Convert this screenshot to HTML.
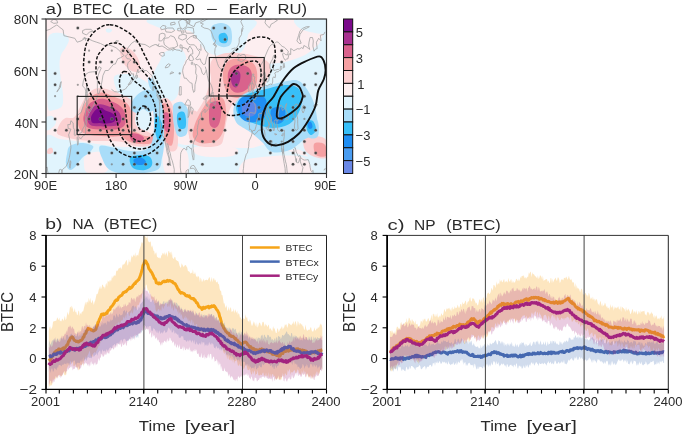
<!DOCTYPE html>
<html><head><meta charset="utf-8"><style>
html,body{margin:0;padding:0;background:#fff;width:685px;height:436px;overflow:hidden}
svg{display:block;will-change:transform}
text{font-family:"Liberation Sans",sans-serif}
</style></head><body>
<svg width="685" height="436" viewBox="0 0 685 436">
<defs><clipPath id="mc"><rect x="46.0" y="19.0" width="280.5" height="154.5"/></clipPath></defs>
<g clip-path="url(#mc)">
<rect x="46.0" y="19.0" width="280.5" height="154.5" fill="#fdeef0"/>
<path d="M48.0,38.0 C48.8,35.2 50.0,34.3 52.0,33.5 C54.0,32.7 57.7,32.8 60.0,33.0 C62.3,33.2 64.5,33.8 66.0,35.0 C67.5,36.2 69.0,38.0 69.0,40.0 C69.0,42.0 67.3,44.5 66.0,47.0 C64.7,49.5 62.1,52.0 61.0,55.0 C59.9,58.0 59.5,60.8 59.5,65.0 C59.5,69.2 60.4,75.0 61.0,80.0 C61.6,85.0 62.8,90.7 63.0,95.0 C63.2,99.3 63.5,103.5 62.0,106.0 C60.5,108.5 56.3,109.7 54.0,110.0 C51.7,110.3 49.1,113.0 48.0,108.0 C46.9,103.0 47.6,89.7 47.5,80.0 C47.4,70.3 47.4,57.0 47.5,50.0 C47.6,43.0 47.2,40.8 48.0,38.0Z" fill="#e1f4fd"/>
<path d="M106.0,29.0 C106.4,28.4 108.0,28.3 109.0,28.5 C110.0,28.7 111.8,29.3 112.0,30.0 C112.2,30.7 110.9,32.2 110.0,32.5 C109.1,32.8 107.2,32.6 106.5,32.0 C105.8,31.4 105.6,29.6 106.0,29.0Z" fill="#e1f4fd"/>
<path d="M152.0,19.0 C167.0,17.5 234.0,16.3 250.0,19.0 C266.0,21.7 249.2,29.8 248.0,35.0 C246.8,40.2 245.7,46.5 243.0,50.0 C240.3,53.5 236.7,55.2 232.0,56.0 C227.3,56.8 219.5,56.0 215.0,55.0 C210.5,54.0 207.8,52.5 205.0,50.0 C202.2,47.5 200.5,43.2 198.0,40.0 C195.5,36.8 193.8,32.7 190.0,31.0 C186.2,29.3 180.0,30.5 175.0,30.0 C170.0,29.5 163.8,29.8 160.0,28.0 C156.2,26.2 137.0,20.5 152.0,19.0Z" fill="#e1f4fd"/>
<path d="M165.0,52.0 C168.3,50.0 176.5,48.2 180.0,49.0 C183.5,49.8 185.5,54.2 186.0,57.0 C186.5,59.8 184.0,62.2 183.0,66.0 C182.0,69.8 180.8,75.3 180.0,80.0 C179.2,84.7 179.3,90.5 178.0,94.0 C176.7,97.5 175.3,99.8 172.0,101.0 C168.7,102.2 161.3,102.8 158.0,101.0 C154.7,99.2 153.2,93.5 152.0,90.0 C150.8,86.5 150.5,83.3 151.0,80.0 C151.5,76.7 153.5,73.2 155.0,70.0 C156.5,66.8 158.3,64.0 160.0,61.0 C161.7,58.0 161.7,54.0 165.0,52.0Z" fill="#e1f4fd"/>
<path d="M262.0,66.0 C267.8,63.0 277.8,63.8 285.0,62.0 C292.2,60.2 299.5,57.8 305.0,55.0 C310.5,52.2 314.3,47.5 318.0,45.0 C321.7,42.5 325.5,20.8 327.0,40.0 C328.5,59.2 331.5,141.7 327.0,160.0 C322.5,178.3 307.8,151.7 300.0,150.0 C292.2,148.3 286.3,151.7 280.0,150.0 C273.7,148.3 267.0,144.2 262.0,140.0 C257.0,135.8 252.8,131.7 250.0,125.0 C247.2,118.3 245.0,107.5 245.0,100.0 C245.0,92.5 247.2,85.7 250.0,80.0 C252.8,74.3 256.2,69.0 262.0,66.0Z" fill="#e1f4fd"/>
<path d="M296.0,19.0 C300.8,17.7 321.8,16.7 327.0,19.0 C332.2,21.3 329.8,30.8 327.0,33.0 C324.2,35.2 314.8,33.0 310.0,32.0 C305.2,31.0 300.3,29.2 298.0,27.0 C295.7,24.8 291.2,20.3 296.0,19.0Z" fill="#e1f4fd"/>
<path d="M46.0,137.0 C48.3,131.2 55.2,138.3 60.0,139.0 C64.8,139.7 70.0,140.3 75.0,141.0 C80.0,141.7 85.0,142.3 90.0,143.0 C95.0,143.7 99.2,144.3 105.0,145.0 C110.8,145.7 117.5,147.0 125.0,147.0 C132.5,147.0 144.2,147.0 150.0,145.0 C155.8,143.0 156.7,135.8 160.0,135.0 C163.3,134.2 165.8,138.3 170.0,140.0 C174.2,141.7 179.2,144.7 185.0,145.0 C190.8,145.3 198.3,141.7 205.0,142.0 C211.7,142.3 217.5,146.0 225.0,147.0 C232.5,148.0 243.3,148.3 250.0,148.0 C256.7,147.7 259.2,144.7 265.0,145.0 C270.8,145.3 278.3,148.2 285.0,150.0 C291.7,151.8 298.0,154.3 305.0,156.0 C312.0,157.7 323.3,157.0 327.0,160.0 C330.7,163.0 373.8,171.7 327.0,174.0 C280.2,176.3 92.8,180.2 46.0,174.0 C-0.8,167.8 43.7,142.8 46.0,137.0Z" fill="#e1f4fd"/>
<path d="M114.0,77.0 C115.2,74.0 121.5,74.2 125.0,74.0 C128.5,73.8 130.8,74.2 135.0,76.0 C139.2,77.8 146.5,81.0 150.0,85.0 C153.5,89.0 155.7,95.5 156.0,100.0 C156.3,104.5 153.0,107.3 152.0,112.0 C151.0,116.7 152.0,124.7 150.0,128.0 C148.0,131.3 142.5,133.3 140.0,132.0 C137.5,130.7 136.7,125.3 135.0,120.0 C133.3,114.7 132.8,104.7 130.0,100.0 C127.2,95.3 120.7,95.8 118.0,92.0 C115.3,88.2 112.8,80.0 114.0,77.0Z" fill="#e1f4fd"/>
<path d="M46.0,118.0 C47.0,115.7 50.3,115.3 52.0,116.0 C53.7,116.7 56.0,120.0 56.0,122.0 C56.0,124.0 53.7,126.7 52.0,128.0 C50.3,129.3 47.0,131.7 46.0,130.0 C45.0,128.3 45.0,120.3 46.0,118.0Z" fill="#e1f4fd"/>
<path d="M86.0,155.0 C88.7,152.8 96.3,151.2 100.0,152.0 C103.7,152.8 107.0,156.7 108.0,160.0 C109.0,163.3 109.3,169.8 106.0,172.0 C102.7,174.2 91.7,174.2 88.0,173.0 C84.3,171.8 84.3,168.0 84.0,165.0 C83.7,162.0 83.3,157.2 86.0,155.0Z" fill="#fdeef0"/>
<path d="M164.0,148.0 C166.3,143.5 176.0,145.8 180.0,147.0 C184.0,148.2 187.0,150.5 188.0,155.0 C189.0,159.5 189.7,170.8 186.0,174.0 C182.3,177.2 169.7,178.3 166.0,174.0 C162.3,169.7 161.7,152.5 164.0,148.0Z" fill="#fdeef0"/>
<path d="M195.0,147.0 C199.8,145.7 217.8,145.5 225.0,146.0 C232.2,146.5 236.8,148.3 238.0,150.0 C239.2,151.7 236.7,154.8 232.0,156.0 C227.3,157.2 216.0,157.3 210.0,157.0 C204.0,156.7 198.5,155.7 196.0,154.0 C193.5,152.3 190.2,148.3 195.0,147.0Z" fill="#fdeef0"/>
<path d="M244.0,161.0 C247.0,158.0 255.2,157.9 262.0,157.0 C268.8,156.1 278.3,155.5 285.0,155.5 C291.7,155.5 297.8,155.4 302.0,157.0 C306.2,158.6 309.3,162.0 310.0,165.0 C310.7,168.0 317.0,173.3 306.0,175.0 C295.0,176.7 254.3,177.3 244.0,175.0 C233.7,172.7 241.0,164.0 244.0,161.0Z" fill="#fdeef0"/>
<path d="M120.0,49.0 C120.8,46.7 125.3,47.0 128.0,48.0 C130.7,49.0 134.0,52.2 136.0,55.0 C138.0,57.8 139.7,62.2 140.0,65.0 C140.3,67.8 139.7,71.2 138.0,72.0 C136.3,72.8 132.5,71.7 130.0,70.0 C127.5,68.3 124.7,65.5 123.0,62.0 C121.3,58.5 119.2,51.3 120.0,49.0Z" fill="#fbd0d1"/>
<path d="M79.3,108.4 C81.4,104.8 83.7,99.2 86.2,96.0 C88.7,92.8 91.4,90.4 94.4,89.1 C97.4,87.8 100.5,87.9 104.0,88.4 C107.5,88.9 111.6,90.6 115.1,91.9 C118.5,93.2 121.7,94.4 124.7,96.0 C127.7,97.6 131.1,99.2 133.0,101.5 C134.9,103.8 135.5,106.1 136.0,110.0 C136.5,113.9 133.7,121.2 136.0,125.0 C138.3,128.8 146.7,130.8 150.0,133.0 C153.3,135.2 156.3,135.8 156.0,138.0 C155.7,140.2 151.5,144.7 148.0,146.0 C144.5,147.3 139.3,146.7 135.0,146.0 C130.7,145.3 126.2,142.8 122.0,142.0 C117.8,141.2 114.5,141.2 110.0,141.0 C105.5,140.8 100.0,141.2 95.0,141.0 C90.0,140.8 85.0,140.7 80.0,140.0 C75.0,139.3 68.8,138.2 65.0,137.0 C61.2,135.8 57.8,135.2 57.0,133.0 C56.2,130.8 58.6,126.1 60.0,123.6 C61.4,121.1 63.2,119.0 65.5,118.0 C67.8,117.0 71.5,119.0 73.8,117.4 C76.1,115.8 77.2,112.0 79.3,108.4Z" fill="#fbd0d1"/>
<path d="M159.0,102.0 C160.3,98.7 163.8,97.7 166.0,98.0 C168.2,98.3 170.3,100.3 172.0,104.0 C173.7,107.7 175.0,114.0 176.0,120.0 C177.0,126.0 178.0,135.0 178.0,140.0 C178.0,145.0 177.7,148.3 176.0,150.0 C174.3,151.7 170.3,152.5 168.0,150.0 C165.7,147.5 163.7,140.3 162.0,135.0 C160.3,129.7 158.5,123.5 158.0,118.0 C157.5,112.5 157.7,105.3 159.0,102.0Z" fill="#fbd0d1"/>
<path d="M212.0,60.0 C214.0,57.3 217.7,55.2 222.0,54.0 C226.3,52.8 232.5,52.7 238.0,53.0 C243.5,53.3 250.0,54.5 255.0,56.0 C260.0,57.5 265.5,59.3 268.0,62.0 C270.5,64.7 270.5,68.2 270.0,72.0 C269.5,75.8 267.0,81.2 265.0,85.0 C263.0,88.8 261.3,92.2 258.0,95.0 C254.7,97.8 249.2,100.5 245.0,102.0 C240.8,103.5 236.0,101.2 233.0,104.0 C230.0,106.8 228.5,113.7 227.0,119.0 C225.5,124.3 225.2,131.7 224.0,136.0 C222.8,140.3 223.2,143.2 220.0,145.0 C216.8,146.8 209.7,147.3 205.0,147.0 C200.3,146.7 194.7,145.5 192.0,143.0 C189.3,140.5 188.7,136.3 189.0,132.0 C189.3,127.7 191.7,122.0 194.0,117.0 C196.3,112.0 200.8,106.2 203.0,102.0 C205.2,97.8 205.7,95.7 207.0,92.0 C208.3,88.3 210.5,83.7 211.0,80.0 C211.5,76.3 209.8,73.3 210.0,70.0 C210.2,66.7 210.0,62.7 212.0,60.0Z" fill="#fbd0d1"/>
<path d="M304.0,137.0 C305.7,134.7 311.3,135.5 315.0,136.0 C318.7,136.5 324.0,136.5 326.0,140.0 C328.0,143.5 328.8,154.2 327.0,157.0 C325.2,159.8 318.7,158.2 315.0,157.0 C311.3,155.8 306.8,153.3 305.0,150.0 C303.2,146.7 302.3,139.3 304.0,137.0Z" fill="#fbd0d1"/>
<path d="M189.0,113.0 C190.5,110.0 195.0,110.0 197.0,112.0 C199.0,114.0 200.5,120.0 201.0,125.0 C201.5,130.0 201.5,139.0 200.0,142.0 C198.5,145.0 194.0,145.0 192.0,143.0 C190.0,141.0 188.5,135.0 188.0,130.0 C187.5,125.0 187.5,116.0 189.0,113.0Z" fill="#fbd0d1"/>
<path d="M48.0,149.0 C48.8,148.2 51.2,147.5 52.0,148.0 C52.8,148.5 53.3,151.0 53.0,152.0 C52.7,153.0 51.0,153.8 50.0,154.0 C49.0,154.2 47.3,153.8 47.0,153.0 C46.7,152.2 47.2,149.8 48.0,149.0Z" fill="#fbd0d1"/>
<path d="M80.7,112.5 C82.1,109.0 83.9,104.5 86.2,101.5 C88.5,98.5 91.7,96.1 94.4,94.6 C97.2,93.1 99.7,92.4 102.7,92.6 C105.7,92.8 109.1,94.8 112.3,96.0 C115.5,97.2 119.2,98.5 122.0,100.1 C124.8,101.7 127.3,103.2 128.9,105.7 C130.5,108.2 131.3,111.9 131.6,115.3 C131.9,118.7 131.8,123.1 130.9,126.3 C130.0,129.5 128.7,132.9 126.1,134.6 C123.5,136.3 119.2,136.4 115.1,136.6 C111.0,136.8 105.9,136.3 101.3,136.0 C96.7,135.7 90.9,135.5 87.5,134.6 C84.1,133.7 82.3,132.6 80.7,130.5 C79.1,128.4 77.9,125.2 77.9,122.2 C77.9,119.2 79.3,116.0 80.7,112.5Z" fill="#f5a0a2"/>
<path d="M120.0,133.0 C120.7,131.3 127.8,130.5 132.0,131.0 C136.2,131.5 141.2,135.0 145.0,136.0 C148.8,137.0 153.8,135.8 155.0,137.0 C156.2,138.2 154.5,141.8 152.0,143.0 C149.5,144.2 144.0,144.3 140.0,144.0 C136.0,143.7 131.3,142.8 128.0,141.0 C124.7,139.2 119.3,134.7 120.0,133.0Z" fill="#f5a0a2"/>
<path d="M208.0,101.0 C210.5,98.1 211.5,97.9 214.0,97.5 C216.5,97.1 221.0,96.4 223.0,98.5 C225.0,100.6 225.7,105.9 226.0,110.0 C226.3,114.1 225.7,119.0 225.0,123.0 C224.3,127.0 223.8,130.8 222.0,134.0 C220.2,137.2 217.7,140.5 214.0,142.0 C210.3,143.5 203.5,143.8 200.0,143.0 C196.5,142.2 194.0,139.7 193.0,137.0 C192.0,134.3 193.0,130.7 194.0,127.0 C195.0,123.3 196.7,119.3 199.0,115.0 C201.3,110.7 205.5,103.9 208.0,101.0Z" fill="#f5a0a2"/>
<path d="M224.0,68.0 C225.2,65.0 226.8,61.5 230.0,60.0 C233.2,58.5 239.2,58.5 243.0,59.0 C246.8,59.5 250.7,60.8 253.0,63.0 C255.3,65.2 256.5,68.3 257.0,72.0 C257.5,75.7 257.2,81.3 256.0,85.0 C254.8,88.7 252.7,91.8 250.0,94.0 C247.3,96.2 243.3,97.7 240.0,98.0 C236.7,98.3 232.5,97.7 230.0,96.0 C227.5,94.3 226.2,91.0 225.0,88.0 C223.8,85.0 223.2,81.3 223.0,78.0 C222.8,74.7 222.8,71.0 224.0,68.0Z" fill="#f5a0a2"/>
<path d="M161.0,106.0 C161.8,102.3 165.2,103.0 167.0,104.0 C168.8,105.0 170.8,107.7 172.0,112.0 C173.2,116.3 174.0,124.5 174.0,130.0 C174.0,135.5 173.3,143.0 172.0,145.0 C170.7,147.0 167.7,145.2 166.0,142.0 C164.3,138.8 162.8,132.0 162.0,126.0 C161.2,120.0 160.2,109.7 161.0,106.0Z" fill="#f5a0a2"/>
<path d="M314.0,144.0 C315.0,142.0 320.0,142.5 322.0,143.0 C324.0,143.5 325.3,144.8 326.0,147.0 C326.7,149.2 327.7,154.7 326.0,156.0 C324.3,157.3 318.0,157.0 316.0,155.0 C314.0,153.0 313.0,146.0 314.0,144.0Z" fill="#f5a0a2"/>
<path d="M84.8,112.5 C85.7,110.0 87.1,106.4 88.9,104.3 C90.7,102.2 93.5,101.0 95.8,100.1 C98.1,99.2 100.4,98.7 102.7,98.8 C105.0,98.9 107.1,99.9 109.6,100.8 C112.1,101.7 115.5,102.8 117.8,104.3 C120.1,105.8 122.1,107.7 123.4,109.8 C124.7,111.9 125.2,114.2 125.4,116.7 C125.6,119.2 126.0,122.8 124.7,124.9 C123.4,127.0 121.0,128.3 117.8,129.1 C114.6,129.9 109.5,129.8 105.4,129.8 C101.3,129.8 96.2,129.7 93.0,129.1 C89.8,128.5 87.8,127.9 86.2,126.3 C84.6,124.7 83.6,121.7 83.4,119.4 C83.2,117.1 83.9,115.0 84.8,112.5Z" fill="#d9628c"/>
<path d="M130.0,134.0 C131.0,132.8 135.7,133.3 138.0,134.0 C140.3,134.7 143.7,136.7 144.0,138.0 C144.3,139.3 142.0,141.5 140.0,142.0 C138.0,142.5 133.7,142.3 132.0,141.0 C130.3,139.7 129.0,135.2 130.0,134.0Z" fill="#d9628c"/>
<path d="M210.0,104.0 C211.2,101.7 214.2,101.0 216.0,101.0 C217.8,101.0 220.2,101.7 221.0,104.0 C221.8,106.3 221.3,111.7 221.0,115.0 C220.7,118.3 220.0,121.8 219.0,124.0 C218.0,126.2 216.5,127.8 215.0,128.0 C213.5,128.2 211.0,127.2 210.0,125.0 C209.0,122.8 209.0,118.5 209.0,115.0 C209.0,111.5 208.8,106.3 210.0,104.0Z" fill="#d9628c"/>
<path d="M228.0,73.0 C228.7,69.8 230.7,67.3 233.0,66.0 C235.3,64.7 239.2,64.5 242.0,65.0 C244.8,65.5 248.3,66.8 250.0,69.0 C251.7,71.2 252.2,75.0 252.0,78.0 C251.8,81.0 250.7,84.7 249.0,87.0 C247.3,89.3 244.5,91.2 242.0,92.0 C239.5,92.8 236.2,93.2 234.0,92.0 C231.8,90.8 230.0,88.2 229.0,85.0 C228.0,81.8 227.3,76.2 228.0,73.0Z" fill="#d9628c"/>
<path d="M163.0,114.0 C163.8,112.5 166.8,111.7 168.0,113.0 C169.2,114.3 169.8,118.8 170.0,122.0 C170.2,125.2 169.8,130.7 169.0,132.0 C168.2,133.3 166.0,131.7 165.0,130.0 C164.0,128.3 163.3,124.7 163.0,122.0 C162.7,119.3 162.2,115.5 163.0,114.0Z" fill="#d9628c"/>
<path d="M88.9,112.5 C89.8,110.4 91.2,108.4 93.0,107.0 C94.8,105.6 97.7,104.5 100.0,104.3 C102.3,104.1 104.5,105.0 106.8,105.7 C109.1,106.4 111.6,107.3 113.7,108.4 C115.8,109.5 117.9,110.7 119.2,112.5 C120.5,114.3 121.5,117.3 121.3,119.4 C121.1,121.5 120.0,123.8 117.8,124.9 C115.6,126.1 111.4,126.1 108.2,126.3 C105.0,126.5 101.6,126.5 98.6,126.3 C95.6,126.1 92.1,126.1 90.3,124.9 C88.5,123.8 87.7,121.5 87.5,119.4 C87.3,117.3 88.0,114.6 88.9,112.5Z" fill="#a8318f"/>
<path d="M232.0,73.0 C232.8,71.3 234.7,70.0 236.0,70.0 C237.3,70.0 239.3,71.3 240.0,73.0 C240.7,74.7 240.5,77.7 240.0,80.0 C239.5,82.3 238.2,86.0 237.0,87.0 C235.8,88.0 234.0,87.2 233.0,86.0 C232.0,84.8 231.2,82.2 231.0,80.0 C230.8,77.8 231.2,74.7 232.0,73.0Z" fill="#a8318f"/>
<path d="M91.7,115.3 C92.5,113.7 94.2,111.1 95.8,109.8 C97.4,108.5 99.7,107.6 101.3,107.7 C102.9,107.8 103.8,109.7 105.4,110.5 C107.0,111.3 109.4,111.6 111.0,112.5 C112.6,113.4 114.5,114.5 115.1,116.0 C115.7,117.5 115.8,120.2 114.4,121.5 C113.0,122.8 109.2,123.4 106.8,123.6 C104.4,123.8 102.2,123.0 99.9,122.9 C97.6,122.8 94.5,123.5 93.0,122.9 C91.5,122.3 91.2,120.7 91.0,119.4 C90.8,118.1 90.9,116.9 91.7,115.3Z" fill="#7b0a8b"/>
<path d="M212.0,26.0 C213.8,24.2 219.0,22.8 222.0,23.0 C225.0,23.2 228.3,24.7 230.0,27.0 C231.7,29.3 232.0,34.0 232.0,37.0 C232.0,40.0 231.7,43.3 230.0,45.0 C228.3,46.7 224.7,47.5 222.0,47.0 C219.3,46.5 215.8,44.2 214.0,42.0 C212.2,39.8 211.3,36.7 211.0,34.0 C210.7,31.3 210.2,27.8 212.0,26.0Z" fill="#a9ddf9"/>
<path d="M233.5,108.8 C233.9,104.7 236.2,100.8 239.0,97.8 C241.8,94.8 245.9,92.8 250.0,91.0 C254.1,89.2 257.8,88.4 263.8,86.8 C269.8,85.2 279.9,82.2 285.8,81.3 C291.8,80.4 295.4,79.0 299.5,81.3 C303.6,83.6 307.8,90.0 310.5,95.0 C313.2,100.0 314.9,105.1 316.0,111.5 C317.1,117.9 318.8,128.9 317.0,133.5 C315.2,138.1 309.5,136.2 305.0,139.0 C300.5,141.8 295.5,147.8 290.0,150.0 C284.5,152.2 276.7,153.3 272.0,152.0 C267.3,150.7 265.7,145.3 262.0,142.0 C258.3,138.7 254.3,135.2 250.0,132.0 C245.7,128.8 239.1,126.4 236.3,122.5 C233.6,118.6 233.1,112.9 233.5,108.8Z" fill="#a9ddf9"/>
<path d="M304.0,117.0 C305.3,114.5 309.7,114.2 312.0,115.0 C314.3,115.8 317.0,118.5 318.0,122.0 C319.0,125.5 319.3,133.3 318.0,136.0 C316.7,138.7 312.3,139.0 310.0,138.0 C307.7,137.0 305.0,133.5 304.0,130.0 C303.0,126.5 302.7,119.5 304.0,117.0Z" fill="#a9ddf9"/>
<path d="M100.0,146.0 C102.2,144.3 110.0,147.2 115.0,148.0 C120.0,148.8 125.0,150.7 130.0,151.0 C135.0,151.3 141.3,151.5 145.0,150.0 C148.7,148.5 150.5,146.2 152.0,142.0 C153.5,137.8 153.8,131.2 154.0,125.0 C154.2,118.8 152.8,110.5 153.0,105.0 C153.2,99.5 154.0,94.2 155.0,92.0 C156.0,89.8 157.7,89.0 159.0,92.0 C160.3,95.0 162.2,103.7 163.0,110.0 C163.8,116.3 163.8,124.2 164.0,130.0 C164.2,135.8 164.3,140.3 164.0,145.0 C163.7,149.7 163.2,153.8 162.0,158.0 C160.8,162.2 162.3,167.3 157.0,170.0 C151.7,172.7 137.8,174.0 130.0,174.0 C122.2,174.0 114.7,172.7 110.0,170.0 C105.3,167.3 103.7,162.0 102.0,158.0 C100.3,154.0 97.8,147.7 100.0,146.0Z" fill="#a9ddf9"/>
<path d="M133.0,100.0 C134.7,97.2 138.2,93.7 141.0,92.0 C143.8,90.3 147.5,89.3 150.0,90.0 C152.5,90.7 155.2,93.0 156.0,96.0 C156.8,99.0 156.2,105.3 155.0,108.0 C153.8,110.7 151.0,111.8 149.0,112.0 C147.0,112.2 145.0,108.8 143.0,109.0 C141.0,109.2 139.0,113.0 137.0,113.0 C135.0,113.0 131.7,111.2 131.0,109.0 C130.3,106.8 131.3,102.8 133.0,100.0Z" fill="#a9ddf9"/>
<path d="M70.0,146.0 C72.5,144.2 78.2,143.0 82.0,143.0 C85.8,143.0 91.7,144.5 93.0,146.0 C94.3,147.5 91.8,150.0 90.0,152.0 C88.2,154.0 84.3,155.7 82.0,158.0 C79.7,160.3 78.0,164.0 76.0,166.0 C74.0,168.0 71.7,170.3 70.0,170.0 C68.3,169.7 66.5,166.7 66.0,164.0 C65.5,161.3 66.3,157.0 67.0,154.0 C67.7,151.0 67.5,147.8 70.0,146.0Z" fill="#a9ddf9"/>
<path d="M174.0,104.0 C175.5,102.3 179.7,101.0 182.0,102.0 C184.3,103.0 187.0,106.2 188.0,110.0 C189.0,113.8 188.3,120.8 188.0,125.0 C187.7,129.2 187.7,133.2 186.0,135.0 C184.3,136.8 180.0,137.7 178.0,136.0 C176.0,134.3 174.8,129.0 174.0,125.0 C173.2,121.0 173.0,115.5 173.0,112.0 C173.0,108.5 172.5,105.7 174.0,104.0Z" fill="#a9ddf9"/>
<path d="M148.0,78.0 C148.5,76.7 151.3,78.0 153.0,80.0 C154.7,82.0 157.5,87.5 158.0,90.0 C158.5,92.5 157.3,95.3 156.0,95.0 C154.7,94.7 151.3,90.8 150.0,88.0 C148.7,85.2 147.5,79.3 148.0,78.0Z" fill="#a9ddf9"/>
<path d="M219.0,35.0 C219.8,33.5 223.5,32.5 225.0,33.0 C226.5,33.5 227.8,36.3 228.0,38.0 C228.2,39.7 227.3,42.3 226.0,43.0 C224.7,43.7 221.2,43.3 220.0,42.0 C218.8,40.7 218.2,36.5 219.0,35.0Z" fill="#37bff8"/>
<path d="M240.0,99.0 C242.3,96.5 246.3,94.5 250.0,93.0 C253.7,91.5 256.2,91.3 262.0,90.0 C267.8,88.7 279.0,85.3 285.0,85.0 C291.0,84.7 295.2,85.5 298.0,88.0 C300.8,90.5 301.8,96.0 302.0,100.0 C302.2,104.0 300.5,108.5 299.0,112.0 C297.5,115.5 295.3,118.7 293.0,121.0 C290.7,123.3 288.3,124.8 285.0,126.0 C281.7,127.2 276.8,128.0 273.0,128.0 C269.2,128.0 265.8,127.0 262.0,126.0 C258.2,125.0 253.7,123.5 250.0,122.0 C246.3,120.5 242.3,119.3 240.0,117.0 C237.7,114.7 236.0,111.0 236.0,108.0 C236.0,105.0 237.7,101.5 240.0,99.0Z" fill="#37bff8"/>
<path d="M307.0,122.0 C308.0,120.5 311.5,119.7 313.0,121.0 C314.5,122.3 316.3,127.7 316.0,130.0 C315.7,132.3 312.5,135.0 311.0,135.0 C309.5,135.0 307.7,132.2 307.0,130.0 C306.3,127.8 306.0,123.5 307.0,122.0Z" fill="#37bff8"/>
<path d="M130.0,158.0 C131.2,155.8 136.7,155.2 140.0,155.0 C143.3,154.8 148.0,155.3 150.0,157.0 C152.0,158.7 152.8,162.8 152.0,165.0 C151.2,167.2 148.2,169.5 145.0,170.0 C141.8,170.5 135.5,170.0 133.0,168.0 C130.5,166.0 128.8,160.2 130.0,158.0Z" fill="#37bff8"/>
<path d="M155.0,118.0 C155.5,115.7 156.8,115.0 158.0,116.0 C159.2,117.0 161.3,120.7 162.0,124.0 C162.7,127.3 162.7,133.3 162.0,136.0 C161.3,138.7 159.2,141.0 158.0,140.0 C156.8,139.0 155.5,133.7 155.0,130.0 C154.5,126.3 154.5,120.3 155.0,118.0Z" fill="#37bff8"/>
<path d="M178.0,113.0 C179.2,111.7 182.7,110.8 184.0,112.0 C185.3,113.2 185.8,117.3 186.0,120.0 C186.2,122.7 186.2,126.7 185.0,128.0 C183.8,129.3 180.3,129.3 179.0,128.0 C177.7,126.7 177.2,122.5 177.0,120.0 C176.8,117.5 176.8,114.3 178.0,113.0Z" fill="#37bff8"/>
<path d="M238.0,103.0 C238.7,100.2 240.2,98.2 243.0,97.0 C245.8,95.8 251.3,95.8 255.0,96.0 C258.7,96.2 263.1,96.0 265.0,98.0 C266.9,100.0 266.7,104.7 266.5,108.0 C266.3,111.3 265.9,115.7 264.0,118.0 C262.1,120.3 258.2,121.5 255.0,122.0 C251.8,122.5 247.7,122.3 245.0,121.0 C242.3,119.7 240.2,117.0 239.0,114.0 C237.8,111.0 237.3,105.8 238.0,103.0Z" fill="#1f8ef3"/>
<path d="M271.0,110.0 C272.0,107.7 275.7,107.0 278.0,107.0 C280.3,107.0 284.0,107.8 285.0,110.0 C286.0,112.2 285.2,117.7 284.0,120.0 C282.8,122.3 280.0,123.8 278.0,124.0 C276.0,124.2 273.2,123.3 272.0,121.0 C270.8,118.7 270.0,112.3 271.0,110.0Z" fill="#1f8ef3"/>
<path d="M308.0,123.0 C308.5,122.2 310.2,121.3 311.0,122.0 C311.8,122.7 312.7,125.8 312.5,127.0 C312.3,128.2 310.8,129.0 310.0,129.0 C309.2,129.0 308.3,128.0 308.0,127.0 C307.7,126.0 307.5,123.8 308.0,123.0Z" fill="#1f8ef3"/>
<path d="M134.0,159.0 C135.2,158.0 140.0,157.5 142.0,158.0 C144.0,158.5 146.0,160.8 146.0,162.0 C146.0,163.2 143.8,164.7 142.0,165.0 C140.2,165.3 136.3,165.0 135.0,164.0 C133.7,163.0 132.8,160.0 134.0,159.0Z" fill="#1f8ef3"/>
<path d="M243.0,104.0 C244.3,102.5 247.8,102.0 250.0,102.0 C252.2,102.0 254.8,102.5 256.0,104.0 C257.2,105.5 257.5,109.0 257.0,111.0 C256.5,113.0 254.8,115.2 253.0,116.0 C251.2,116.8 247.8,116.8 246.0,116.0 C244.2,115.2 242.5,113.0 242.0,111.0 C241.5,109.0 241.7,105.5 243.0,104.0Z" fill="#5b84e6"/>
<polyline points="318.7,38.3 321.1,40.9 320.3,35.2 323.8,34.4 325.0,31.9" fill="none" stroke="#a3a3a3" stroke-width="0.8" stroke-linejoin="round"/>
<polyline points="46.0,30.6 49.9,29.3 53.8,26.7 56.9,24.9 60.0,27.5 63.1,29.8 63.9,35.7 69.4,37.0 74.8,38.3 77.2,42.2 81.1,40.9 85.0,38.3 88.9,39.1 92.8,40.9 96.6,42.2 100.5,43.5 104.4,45.5 108.3,44.8 112.2,46.0 116.1,47.8 120.0,51.2 122.4,53.8 123.9,55.6 120.8,57.6 117.7,58.9 115.3,64.1 113.8,64.1 111.5,66.6 108.3,70.5 105.2,70.5 102.9,75.6 102.1,80.8 100.5,88.5 99.0,93.7 97.8,93.7 97.4,88.5 97.4,78.2 99.0,73.1 101.3,67.9 99.0,66.6 96.6,71.8 92.8,71.8 88.9,72.3 85.7,74.4 83.4,80.8 82.6,85.9 85.0,88.5 85.7,91.1 85.3,100.1 83.4,105.3 81.1,112.5 78.7,114.3 77.2,115.6 76.8,122.0 76.4,129.7 76.4,134.4 74.8,135.6 74.3,134.9 74.4,129.7 73.4,127.7 73.1,122.8 70.9,120.7 70.2,124.6 67.8,124.6 68.2,128.4 70.9,129.2 70.2,131.0 68.6,134.9 69.8,140.0 70.8,145.2 70.9,147.8 70.2,152.9 69.4,157.3 68.2,161.9 66.3,166.3 64.7,167.6 62.4,169.6 61.8,173.0 62.0,172.2 61.4,169.6 60.4,169.4 59.6,169.6 58.9,172.2 58.5,174.8" fill="none" stroke="#a3a3a3" stroke-width="0.8" stroke-linejoin="round"/>
<polyline points="324.0,170.4 324.6,168.9 325.3,169.1 326.1,168.3" fill="none" stroke="#a3a3a3" stroke-width="0.8" stroke-linejoin="round"/>
<polyline points="46.0,167.8 47.2,167.1 47.6,170.9 47.9,172.2 48.3,174.8" fill="none" stroke="#a3a3a3" stroke-width="0.8" stroke-linejoin="round"/>
<polyline points="86.5,85.2 87.3,88.5 87.3,93.7 88.1,98.8 87.7,104.0 86.5,106.5 86.5,101.4 86.5,93.7 86.5,85.2" fill="none" stroke="#a3a3a3" stroke-width="0.8" stroke-linejoin="round"/>
<polyline points="86.1,107.8 89.2,113.0 87.7,116.8 85.7,117.6 85.0,115.6 86.1,107.8" fill="none" stroke="#a3a3a3" stroke-width="0.8" stroke-linejoin="round"/>
<polyline points="86.1,118.1 86.5,123.3 85.7,127.2 85.7,132.3 85.0,134.9 82.6,136.2 81.1,138.7 78.7,137.4 77.9,136.2 79.5,133.6 81.8,132.3 82.6,129.2 84.6,125.9 85.0,122.0 86.1,118.1" fill="none" stroke="#a3a3a3" stroke-width="0.8" stroke-linejoin="round"/>
<polyline points="77.2,137.4 78.3,138.7 78.3,143.9 77.6,145.2 77.2,140.0 77.2,137.4" fill="none" stroke="#a3a3a3" stroke-width="0.8" stroke-linejoin="round"/>
<polyline points="70.2,160.6 70.9,161.9 70.0,168.3 69.4,165.8 70.2,160.6" fill="none" stroke="#a3a3a3" stroke-width="0.8" stroke-linejoin="round"/>
<polyline points="82.6,33.2 86.5,35.0 89.6,31.9 92.8,31.4 91.2,29.3 85.7,29.3 82.6,30.6 82.6,33.2" fill="none" stroke="#a3a3a3" stroke-width="0.8" stroke-linejoin="round"/>
<polyline points="115.0,42.2 117.7,41.7 118.5,40.9 116.1,40.6 115.0,42.2" fill="none" stroke="#a3a3a3" stroke-width="0.8" stroke-linejoin="round"/>
<polyline points="50.7,21.6 53.8,23.4 57.7,22.9 56.9,20.3 53.8,19.0 50.7,21.6" fill="none" stroke="#a3a3a3" stroke-width="0.8" stroke-linejoin="round"/>
<polyline points="56.9,92.1 58.5,89.8 60.4,87.2 61.2,81.6 60.4,83.4 58.9,88.5 56.9,91.6" fill="none" stroke="#a3a3a3" stroke-width="0.8" stroke-linejoin="round"/>
<polyline points="181.2,173.5 180.6,170.4 180.3,167.1 180.3,161.9 180.5,158.1 180.6,154.2 181.0,152.4 182.4,149.8 183.1,148.8 184.7,148.5 185.9,149.8 186.9,149.8 186.6,147.2 187.8,146.5 189.0,146.7 190.2,148.5 191.2,148.0 191.9,150.8 192.1,154.2 192.7,157.5 193.3,160.1 193.8,159.6 194.0,156.0 193.7,152.1 193.1,148.3 193.0,145.2 193.7,142.1 194.7,140.0 195.6,138.0 196.8,135.6 197.6,134.4 197.2,129.7 197.6,127.7 197.9,125.1 198.7,123.3 198.7,120.7 200.3,118.7 201.5,118.1 201.8,116.8 201.3,115.0 201.7,112.7 202.6,111.7 203.8,110.4 205.0,109.1 205.0,112.7 207.3,110.2 209.6,107.8 209.6,106.5 208.5,107.1 206.5,105.8 205.9,102.7 206.1,99.3 203.0,98.8 204.6,96.8 206.5,95.7 209.6,95.7 212.0,92.4 212.7,89.8 211.6,85.9 210.4,83.4 208.5,80.8 207.3,75.6 206.3,69.7 205.7,71.8 203.8,74.9 202.2,73.1 200.7,67.9 199.1,66.6 197.2,64.6 195.2,64.6 196.0,68.4 195.6,73.1 196.8,75.6 196.4,79.5 195.0,84.7 194.8,91.1 193.7,92.4 192.5,88.5 192.1,83.4 190.2,82.6 188.2,80.8 186.3,78.2 184.3,78.2 182.9,73.1 182.6,70.5 183.5,66.6 185.5,63.3 186.3,60.7 188.6,58.4 190.5,54.3 192.9,53.8 192.5,49.9 189.8,46.0 187.8,49.9 186.3,48.6 182.7,47.3 181.6,52.0 180.0,50.4 176.1,49.9 173.8,48.6 170.7,49.9 167.9,49.9 165.2,47.8 162.1,46.0 159.0,46.6 157.0,44.8 155.1,44.5 152.0,45.8 149.6,47.3 147.3,45.8 145.0,44.5 141.1,44.0 137.9,42.7 134.4,41.4 131.7,43.2 129.4,46.0 127.0,49.1 128.6,50.7 130.4,54.0 128.8,53.5 127.0,54.5 125.5,56.1 127.0,58.7 129.4,58.9 130.9,60.2 128.2,62.3 127.4,65.3 128.2,69.2 130.2,71.0 131.7,74.1 133.7,73.8 133.3,76.9 130.2,81.8 128.2,84.7 130.2,83.4 132.9,80.8 134.4,78.2 136.4,74.4 137.9,69.2 138.3,72.6 139.5,71.8 141.1,70.5 142.6,68.4 144.2,70.5 146.5,70.5 148.9,72.8 150.4,74.4 152.0,75.6 153.5,80.8 155.1,85.9 156.6,89.8 157.0,93.7 159.0,96.2 160.5,98.8 160.9,102.7 160.5,100.9 159.2,100.4 159.8,106.0 159.7,114.3 159.5,119.4 159.9,122.5 160.9,127.7 161.4,131.0 162.4,135.9 164.0,137.4 165.1,140.8 165.6,143.9 166.4,148.3 167.2,152.9 167.6,154.2 169.0,158.1 169.1,161.9 170.7,165.8 170.3,163.2 169.3,158.1 168.7,154.2 167.9,150.8 167.2,147.8 167.0,143.4 168.3,145.2 169.1,150.3 170.3,153.4 171.1,158.1 172.2,160.6 173.4,165.3 174.3,169.6 174.2,172.2 174.3,174.8" fill="none" stroke="#a3a3a3" stroke-width="0.8" stroke-linejoin="round"/>
<polyline points="185.9,174.8 186.0,170.9 187.8,169.6 188.6,169.6 188.3,172.2 188.2,174.8" fill="none" stroke="#a3a3a3" stroke-width="0.8" stroke-linejoin="round"/>
<polyline points="190.2,168.6 190.9,166.5 192.5,165.5 194.0,165.5 196.0,168.9 197.6,171.7 198.6,173.0 196.4,173.8 195.2,169.6 193.3,168.3 192.1,168.3 190.2,168.6" fill="none" stroke="#a3a3a3" stroke-width="0.8" stroke-linejoin="round"/>
<polyline points="198.3,174.0 199.7,173.8 201.8,174.3 203.2,177.1" fill="none" stroke="#a3a3a3" stroke-width="0.8" stroke-linejoin="round"/>
<polyline points="210.0,102.4 212.7,102.4 215.1,104.7 215.3,102.2 214.7,98.1 213.1,96.8 213.1,92.1 211.6,94.2 210.4,100.1 210.0,102.4" fill="none" stroke="#a3a3a3" stroke-width="0.8" stroke-linejoin="round"/>
<polyline points="208.1,53.8 206.5,57.6 205.3,64.1 203.4,64.6 201.1,61.5 200.3,58.9 197.2,59.7 195.6,58.9 198.7,55.0 199.9,51.7 197.9,49.9 195.6,46.0 194.0,44.8 190.2,44.8 187.8,43.5 186.3,40.6 190.2,37.0 194.0,35.2 197.2,38.3 201.1,42.2 203.8,46.0 205.0,49.9 208.1,53.8" fill="none" stroke="#a3a3a3" stroke-width="0.8" stroke-linejoin="round"/>
<polyline points="164.4,44.8 169.1,48.4 174.6,47.6 177.7,46.0 176.9,42.2 174.2,37.0 170.7,35.7 168.3,37.8 164.4,38.3 163.7,41.7 164.4,44.8" fill="none" stroke="#a3a3a3" stroke-width="0.8" stroke-linejoin="round"/>
<polyline points="159.0,40.9 161.7,40.9 165.2,36.5 164.8,33.9 162.1,33.2 159.4,34.4 159.0,40.9" fill="none" stroke="#a3a3a3" stroke-width="0.8" stroke-linejoin="round"/>
<polyline points="194.0,26.7 195.6,22.9 199.5,21.6 205.7,17.7 208.1,15.1" fill="none" stroke="#a3a3a3" stroke-width="0.8" stroke-linejoin="round"/>
<polyline points="186.3,19.0 189.4,20.3 188.6,24.1 194.0,26.7" fill="none" stroke="#a3a3a3" stroke-width="0.8" stroke-linejoin="round"/>
<polyline points="194.0,33.2 186.3,33.2 184.7,29.3 187.8,27.2 193.3,28.0 194.0,33.2" fill="none" stroke="#a3a3a3" stroke-width="0.8" stroke-linejoin="round"/>
<polyline points="186.3,38.3 182.4,40.1 178.5,38.3 179.2,35.5 183.1,34.4 186.3,35.0 186.3,38.3" fill="none" stroke="#a3a3a3" stroke-width="0.8" stroke-linejoin="round"/>
<polyline points="189.4,60.2 191.7,60.7 193.7,59.7 192.5,56.3 190.2,55.0 188.6,57.1 189.4,60.2" fill="none" stroke="#a3a3a3" stroke-width="0.8" stroke-linejoin="round"/>
<polyline points="166.0,31.9 171.5,32.4 174.6,30.6 173.0,28.0 167.6,28.0 165.2,29.3 166.0,31.9" fill="none" stroke="#a3a3a3" stroke-width="0.8" stroke-linejoin="round"/>
<polyline points="182.4,29.3 186.3,26.7 187.8,21.6 182.4,19.0 178.5,21.6 180.0,26.7 182.4,29.3" fill="none" stroke="#a3a3a3" stroke-width="0.8" stroke-linejoin="round"/>
<polyline points="184.7,104.7 187.8,99.3 190.2,101.4 190.5,105.3 187.8,105.3 184.7,104.7" fill="none" stroke="#a3a3a3" stroke-width="0.8" stroke-linejoin="round"/>
<polyline points="188.0,117.6 188.6,106.5 190.2,107.1 189.0,115.6 188.0,117.6" fill="none" stroke="#a3a3a3" stroke-width="0.8" stroke-linejoin="round"/>
<polyline points="190.9,106.5 193.3,109.1 192.1,114.3 190.9,111.7 190.9,106.5" fill="none" stroke="#a3a3a3" stroke-width="0.8" stroke-linejoin="round"/>
<polyline points="159.8,98.8 160.2,100.4 158.6,99.3 156.6,95.0 157.4,94.2 159.8,98.8" fill="none" stroke="#a3a3a3" stroke-width="0.8" stroke-linejoin="round"/>
<polyline points="209.6,17.7 205.0,20.3 200.3,22.9 203.4,24.1 201.1,26.0 204.2,28.0 208.1,28.8 210.8,30.6 212.4,34.4 213.5,38.1 215.9,40.9 214.3,43.5 216.6,46.0 215.1,48.6 214.7,52.5 215.5,56.3 216.3,59.7 217.4,63.3 218.6,66.6 220.5,68.7 222.5,71.0 223.7,67.9 224.4,64.1 225.2,60.2 227.2,56.9 229.9,54.5 233.0,51.2 236.1,48.6 238.5,44.8 239.2,42.2 239.2,38.3 241.6,34.4 241.6,29.3 243.1,26.7 240.8,21.6 242.4,19.0 247.0,15.1" fill="none" stroke="#a3a3a3" stroke-width="0.8" stroke-linejoin="round"/>
<polyline points="237.7,60.2 239.2,60.7 241.6,61.7 243.9,60.2 245.5,58.9 245.9,57.1 244.7,54.5 242.7,54.5 240.0,55.6 238.9,54.3 237.4,56.3 239.2,57.9 237.7,60.2" fill="none" stroke="#a3a3a3" stroke-width="0.8" stroke-linejoin="round"/>
<polyline points="279.0,119.2 277.8,120.7 277.0,121.2 276.6,119.9 275.1,119.9 274.1,121.5 275.1,125.9 274.3,127.2 274.3,130.2 273.5,131.0 272.7,126.1 271.4,121.2 271.6,118.1 270.8,115.8 268.9,113.0 267.7,108.6 267.0,107.3 266.0,108.4 266.1,111.2 267.3,114.8 268.9,117.1 269.6,119.4 270.8,121.5 269.6,123.3 269.3,125.9 268.5,127.2 268.9,125.9 268.5,122.0 267.3,119.9 266.1,118.1 265.0,115.6 264.3,112.0 263.2,110.7 262.2,112.2 261.1,114.0 259.9,113.2 258.7,113.8 258.9,117.1 257.0,119.4 256.2,123.3 256.4,124.6 256.0,126.4 254.8,130.5 252.9,130.5 252.0,132.3 251.3,130.0 250.5,129.2 249.4,129.7 249.5,125.9 249.0,124.6 249.5,119.4 249.5,116.8 249.1,114.3 250.2,112.5 251.7,112.7 254.0,113.2 255.2,113.2 255.4,110.4 255.4,106.5 254.7,103.5 252.9,101.9 252.7,100.1 254.0,99.3 255.2,99.6 255.2,97.0 256.5,97.5 257.6,95.7 257.7,93.7 258.7,92.9 259.5,91.4 260.1,88.5 261.8,87.2 263.0,86.5 263.2,83.4 262.8,78.7 264.6,76.4 264.6,80.8 264.6,84.7 265.7,85.4 267.3,85.9 268.9,84.7 270.8,83.9 271.6,84.9 272.7,82.1 272.7,78.2 273.5,76.9 275.2,77.7 275.5,74.9 274.7,73.1 276.6,71.8 278.2,71.8 279.4,70.5 278.2,69.2 275.9,70.0 273.9,70.5 273.1,67.9 273.1,62.8 274.3,60.2 275.9,57.6 276.2,56.3 273.5,55.6 272.7,58.9 271.2,61.5 270.0,64.1 269.9,67.9 271.0,70.5 270.4,73.1 269.2,76.9 268.9,80.3 267.4,82.3 266.4,80.8 265.6,76.7 265.1,73.1 264.6,71.8 263.8,73.1 262.6,75.4 261.4,75.4 260.7,73.1 260.3,69.2 260.3,65.3 261.8,63.5 263.0,61.5 264.2,58.9 265.7,55.0 267.3,51.2 268.5,48.6 269.6,46.6 271.2,44.8 272.7,44.2 274.7,43.5 276.3,41.9 278.2,42.2 280.5,44.8 282.1,46.3 284.4,47.3 288.3,51.2 287.6,55.0 285.2,54.5 283.7,53.0 282.5,53.8 283.5,57.6 285.2,60.2 286.8,58.9 287.9,58.9 289.1,53.8 290.7,54.5 290.7,48.6 292.2,49.4 293.8,50.7 295.3,49.9 297.7,48.6 299.2,49.1 301.6,47.6 303.1,48.6 303.9,45.5 306.3,46.8 308.6,48.6 309.8,49.4 308.6,46.0 309.0,42.2 310.1,37.5 312.5,37.5 313.3,40.9 312.9,46.0 314.0,51.2 315.6,49.1 317.2,48.6 316.4,42.2 318.7,38.3" fill="none" stroke="#a3a3a3" stroke-width="0.8" stroke-linejoin="round"/>
<polyline points="279.0,119.2 278.2,117.9 278.2,114.3 278.7,111.7 279.4,108.6 280.4,105.3 281.3,105.3 282.5,106.5 282.1,108.4 281.7,108.4 282.5,110.4 283.7,109.6 284.8,108.6 286.0,104.0 286.8,103.5 286.0,106.5 285.6,108.4 286.4,110.7 287.6,113.2 288.7,117.9 287.6,119.4 286.0,119.7 284.4,117.6 283.7,116.8 282.1,116.8 280.5,119.2 279.0,119.2" fill="none" stroke="#a3a3a3" stroke-width="0.8" stroke-linejoin="round"/>
<polyline points="277.0,121.2 276.8,123.3 277.4,125.9 277.7,129.7 278.2,130.5 279.8,131.5 280.9,130.2 282.1,131.8 283.3,130.2 284.4,130.2 284.4,132.6 284.3,136.2 283.7,140.0 283.3,143.9 283.6,149.0 283.1,153.4 282.1,151.6 281.7,148.0 281.6,144.7 279.8,144.1 279.0,145.4 275.9,143.6 272.0,145.7 271.2,147.0 272.0,142.6 272.0,140.5 268.2,141.8 265.3,139.5 264.6,137.4 265.0,134.4 264.3,130.0 263.4,129.2 262.2,129.7 258.7,130.2 256.4,132.8 254.7,134.6 252.3,132.6 251.3,136.2 249.0,141.3 248.7,146.5 247.4,152.9 246.3,154.2 245.1,158.1 243.9,163.2 243.5,168.3 243.1,170.9 243.5,174.8" fill="none" stroke="#a3a3a3" stroke-width="0.8" stroke-linejoin="round"/>
<polyline points="281.7,148.0 282.5,152.9 283.3,158.1 284.2,163.5 285.1,168.3 285.4,174.8" fill="none" stroke="#a3a3a3" stroke-width="0.8" stroke-linejoin="round"/>
<polyline points="283.6,149.0 283.7,152.9 284.8,158.1 285.6,161.9 286.4,164.5 286.8,168.3 287.4,174.8" fill="none" stroke="#a3a3a3" stroke-width="0.8" stroke-linejoin="round"/>
<polyline points="293.6,149.0 294.2,152.9 295.0,155.5 295.5,158.1 295.7,160.6 296.3,161.9 296.6,158.6 296.5,162.4 297.3,162.7 298.5,162.7 299.6,159.3 300.2,157.5 300.4,161.9 301.2,164.0 302.2,166.3 303.0,167.6 302.0,172.2 301.4,174.5" fill="none" stroke="#a3a3a3" stroke-width="0.8" stroke-linejoin="round"/>
<polyline points="294.2,147.8 295.3,147.8 296.1,151.6 297.3,154.2 298.5,156.5 300.0,155.5 300.8,157.5 302.4,159.3 304.3,160.1 306.3,159.9 308.2,159.6 308.8,161.1 309.8,164.5 310.1,167.1 310.9,170.9 311.7,171.7 313.1,170.4 313.0,174.8" fill="none" stroke="#a3a3a3" stroke-width="0.8" stroke-linejoin="round"/>
<polyline points="251.9,96.2 254.0,94.7 256.4,94.2 257.5,93.2 257.7,89.6 256.6,87.8 256.2,85.4 255.2,83.4 254.8,80.8 254.0,80.3 255.0,76.9 253.3,76.4 254.0,74.1 252.5,74.1 251.9,76.9 252.1,79.5 251.6,80.0 252.5,82.1 252.5,83.9 253.7,83.9 254.0,85.9 254.0,87.8 252.7,88.5 253.3,91.1 252.3,91.6 253.1,93.2 254.0,92.6 251.9,96.2" fill="none" stroke="#a3a3a3" stroke-width="0.8" stroke-linejoin="round"/>
<polyline points="251.7,90.6 251.7,87.2 251.7,82.9 250.5,82.6 249.8,84.7 248.6,85.9 248.6,88.5 249.0,91.1 248.3,91.6 250.2,92.1 251.7,90.6" fill="none" stroke="#a3a3a3" stroke-width="0.8" stroke-linejoin="round"/>
<polyline points="296.9,40.9 299.2,43.5 301.2,43.2 299.2,38.3 300.0,34.4 303.1,29.8 307.0,28.0 309.4,26.7 306.3,26.7 302.4,28.5 300.0,30.8 298.5,35.7 296.9,40.9" fill="none" stroke="#a3a3a3" stroke-width="0.8" stroke-linejoin="round"/>
<polyline points="265.0,22.9 268.1,26.7 269.6,27.8 271.2,24.1 273.5,22.9 277.4,20.3 273.5,18.2 269.6,19.5 265.7,19.5 265.0,22.9" fill="none" stroke="#a3a3a3" stroke-width="0.8" stroke-linejoin="round"/>
<polyline points="293.0,107.8 294.6,105.3 296.1,104.0 297.7,104.5 297.7,108.4 296.1,110.4 296.5,114.3 297.3,116.8 297.7,119.4 297.7,123.3 298.1,129.0 296.1,130.5 294.6,128.4 294.4,125.9 295.0,121.2 294.6,118.1 293.4,114.3 293.4,110.4 293.0,107.8" fill="none" stroke="#a3a3a3" stroke-width="0.8" stroke-linejoin="round"/>
<polyline points="302.4,106.5 303.9,105.3 304.3,110.4 303.1,113.0 302.0,110.4 302.4,106.5" fill="none" stroke="#a3a3a3" stroke-width="0.8" stroke-linejoin="round"/>
<polyline points="266.1,127.2 268.5,126.6 268.1,130.5 266.1,128.2 266.1,127.2" fill="none" stroke="#a3a3a3" stroke-width="0.8" stroke-linejoin="round"/>
<polyline points="262.8,119.4 264.0,119.4 263.8,124.6 263.0,124.6 262.8,119.4" fill="none" stroke="#a3a3a3" stroke-width="0.8" stroke-linejoin="round"/>
<polyline points="274.7,133.6 276.9,134.4 275.1,134.9 274.7,133.6" fill="none" stroke="#a3a3a3" stroke-width="0.8" stroke-linejoin="round"/>
<polyline points="281.6,134.9 283.3,133.3 282.9,135.9 281.7,135.6 281.6,134.9" fill="none" stroke="#a3a3a3" stroke-width="0.8" stroke-linejoin="round"/>
<polyline points="161.3,29.8 165.2,28.8 166.0,26.2 162.9,25.4 160.5,27.5 161.3,29.8" fill="none" stroke="#a3a3a3" stroke-width="0.8" stroke-linejoin="round"/>
<polyline points="180.0,47.8 182.0,48.1 182.1,45.3 180.0,44.8 180.0,47.8" fill="none" stroke="#a3a3a3" stroke-width="0.8" stroke-linejoin="round"/>
<polyline points="177.7,30.6 180.8,31.1 180.8,28.0 177.7,28.5 177.7,30.6" fill="none" stroke="#a3a3a3" stroke-width="0.8" stroke-linejoin="round"/>
<polyline points="181.6,33.2 183.9,32.9 183.9,30.8 181.6,31.1 181.6,33.2" fill="none" stroke="#a3a3a3" stroke-width="0.8" stroke-linejoin="round"/>
<polyline points="193.3,37.5 196.4,38.3 196.4,35.7 193.3,35.5 193.3,37.5" fill="none" stroke="#a3a3a3" stroke-width="0.8" stroke-linejoin="round"/>
<polyline points="191.3,64.3 192.9,64.1 192.6,62.0 191.3,62.5 191.3,64.3" fill="none" stroke="#a3a3a3" stroke-width="0.8" stroke-linejoin="round"/>
<polyline points="206.1,98.6 208.1,97.8 208.3,96.5 206.3,96.8 206.1,98.6" fill="none" stroke="#a3a3a3" stroke-width="0.8" stroke-linejoin="round"/>
<polyline points="206.3,105.8 208.1,105.5 207.7,104.2 206.5,104.2 206.3,105.8" fill="none" stroke="#a3a3a3" stroke-width="0.8" stroke-linejoin="round"/>
<polyline points="152.8,90.6 153.9,89.8 153.5,85.9 152.8,86.5 152.8,90.6" fill="none" stroke="#a3a3a3" stroke-width="0.8" stroke-linejoin="round"/>
<polyline points="136.0,78.5 137.6,77.5 137.3,74.9 136.2,76.2 136.0,78.5" fill="none" stroke="#a3a3a3" stroke-width="0.8" stroke-linejoin="round"/>
<polyline points="159.0,53.8 162.1,56.3 164.4,55.6 164.0,52.5 161.3,52.5 159.0,53.8" fill="none" stroke="#a3a3a3" stroke-width="0.8" stroke-linejoin="round"/>
<polyline points="165.2,67.9 168.3,67.2 170.3,64.6 168.3,63.8 166.0,65.9 165.2,67.9" fill="none" stroke="#a3a3a3" stroke-width="0.8" stroke-linejoin="round"/>
<polyline points="179.2,95.0 181.2,95.0 181.2,86.5 179.5,86.7 179.2,95.0" fill="none" stroke="#a3a3a3" stroke-width="0.8" stroke-linejoin="round"/>
<polyline points="169.9,74.1 172.2,73.3 173.8,72.6 171.5,71.8 169.9,74.1" fill="none" stroke="#a3a3a3" stroke-width="0.8" stroke-linejoin="round"/>
<polyline points="280.1,70.5 281.7,69.2 281.9,66.6 280.5,66.1 280.1,70.5" fill="none" stroke="#a3a3a3" stroke-width="0.8" stroke-linejoin="round"/>
<polyline points="283.5,67.9 284.7,67.2 284.0,63.3 283.3,64.6 283.5,67.9" fill="none" stroke="#a3a3a3" stroke-width="0.8" stroke-linejoin="round"/>
<polyline points="313.7,106.5 316.4,105.8 317.9,104.7 316.4,104.0 314.0,105.0 313.7,106.5" fill="none" stroke="#a3a3a3" stroke-width="0.8" stroke-linejoin="round"/>
<polyline points="127.8,85.9 131.7,82.9" fill="none" stroke="#a3a3a3" stroke-width="0.8" stroke-linejoin="round"/>
<polyline points="122.4,90.3 125.5,89.0 127.8,85.9" fill="none" stroke="#a3a3a3" stroke-width="0.8" stroke-linejoin="round"/>
<polyline points="111.5,89.3 114.6,91.6 117.7,92.1 120.8,91.1 122.4,90.3" fill="none" stroke="#a3a3a3" stroke-width="0.8" stroke-linejoin="round"/>
<polyline points="89.2,113.0 91.2,109.9 92.8,107.1 94.3,104.0 95.9,100.1 97.0,97.5 97.4,95.0" fill="none" stroke="#a3a3a3" stroke-width="0.8" stroke-linejoin="round"/>
<polyline points="204.2,16.4 207.3,15.1" fill="none" stroke="#a3a3a3" stroke-width="0.8" stroke-linejoin="round"/>
<polyline points="186.3,22.9 189.4,23.6 190.2,20.3 186.3,19.0 186.3,22.9" fill="none" stroke="#a3a3a3" stroke-width="0.8" stroke-linejoin="round"/>
<polyline points="170.7,25.2 175.3,24.1 174.6,22.1 170.7,22.9 170.7,25.2" fill="none" stroke="#a3a3a3" stroke-width="0.8" stroke-linejoin="round"/>
<polyline points="194.0,65.3 194.4,63.3" fill="none" stroke="#a3a3a3" stroke-width="0.8" stroke-linejoin="round"/>
<polyline points="82.6,38.8 85.0,37.3 85.7,40.9" fill="none" stroke="#a3a3a3" stroke-width="0.8" stroke-linejoin="round"/>
<polyline points="296.1,19.0 299.2,18.2 303.1,17.7 304.7,19.0" fill="none" stroke="#a3a3a3" stroke-width="0.8" stroke-linejoin="round"/>
<polyline points="243.1,28.0 242.0,31.9" fill="none" stroke="#a3a3a3" stroke-width="0.8" stroke-linejoin="round"/>
<polyline points="231.4,49.1 235.3,47.8" fill="none" stroke="#a3a3a3" stroke-width="0.8" stroke-linejoin="round"/>
<polyline points="213.1,44.2 215.5,46.3 214.5,42.7 213.1,44.2" fill="none" stroke="#a3a3a3" stroke-width="0.8" stroke-linejoin="round"/>
<polyline points="156.6,45.3 158.2,46.0 159.0,43.5" fill="none" stroke="#a3a3a3" stroke-width="0.8" stroke-linejoin="round"/>
<polyline points="172.2,50.9 174.6,49.4 173.0,47.8" fill="none" stroke="#a3a3a3" stroke-width="0.8" stroke-linejoin="round"/>
<polyline points="187.0,48.6 188.2,52.0 189.4,51.2" fill="none" stroke="#a3a3a3" stroke-width="0.8" stroke-linejoin="round"/>
<polyline points="198.7,48.9 201.1,50.4 200.7,44.2" fill="none" stroke="#a3a3a3" stroke-width="0.8" stroke-linejoin="round"/>
<polyline points="205.3,66.6 206.0,69.5" fill="none" stroke="#a3a3a3" stroke-width="0.8" stroke-linejoin="round"/>
<circle cx="77.8" cy="28.0" r="1.9" fill="#999" fill-opacity="0.35"/>
<circle cx="77.8" cy="28.0" r="1.25" fill="#4a4a4a"/>
<circle cx="213.7" cy="28.0" r="1.9" fill="#999" fill-opacity="0.35"/>
<circle cx="213.7" cy="28.0" r="1.25" fill="#4a4a4a"/>
<circle cx="225.0" cy="28.0" r="1.9" fill="#999" fill-opacity="0.35"/>
<circle cx="225.0" cy="28.0" r="1.25" fill="#4a4a4a"/>
<circle cx="225.0" cy="39.4" r="1.9" fill="#999" fill-opacity="0.35"/>
<circle cx="225.0" cy="39.4" r="1.25" fill="#4a4a4a"/>
<circle cx="89.1" cy="50.7" r="1.1" fill="#777" fill-opacity="0.7"/>
<circle cx="111.8" cy="50.7" r="1.1" fill="#777" fill-opacity="0.7"/>
<circle cx="123.1" cy="50.7" r="1.9" fill="#999" fill-opacity="0.35"/>
<circle cx="123.1" cy="50.7" r="1.25" fill="#4a4a4a"/>
<circle cx="134.4" cy="50.7" r="1.1" fill="#777" fill-opacity="0.7"/>
<circle cx="281.7" cy="50.7" r="1.9" fill="#999" fill-opacity="0.35"/>
<circle cx="281.7" cy="50.7" r="1.25" fill="#4a4a4a"/>
<circle cx="89.1" cy="62.1" r="1.9" fill="#999" fill-opacity="0.35"/>
<circle cx="89.1" cy="62.1" r="1.25" fill="#4a4a4a"/>
<circle cx="100.4" cy="62.1" r="1.9" fill="#999" fill-opacity="0.35"/>
<circle cx="100.4" cy="62.1" r="1.25" fill="#4a4a4a"/>
<circle cx="111.8" cy="62.1" r="1.9" fill="#999" fill-opacity="0.35"/>
<circle cx="111.8" cy="62.1" r="1.25" fill="#4a4a4a"/>
<circle cx="123.1" cy="62.1" r="1.9" fill="#999" fill-opacity="0.35"/>
<circle cx="123.1" cy="62.1" r="1.25" fill="#4a4a4a"/>
<circle cx="134.4" cy="62.1" r="1.9" fill="#999" fill-opacity="0.35"/>
<circle cx="134.4" cy="62.1" r="1.25" fill="#4a4a4a"/>
<circle cx="281.7" cy="62.1" r="1.9" fill="#999" fill-opacity="0.35"/>
<circle cx="281.7" cy="62.1" r="1.25" fill="#4a4a4a"/>
<circle cx="55.1" cy="73.4" r="1.9" fill="#999" fill-opacity="0.35"/>
<circle cx="55.1" cy="73.4" r="1.25" fill="#4a4a4a"/>
<circle cx="179.7" cy="73.4" r="1.1" fill="#777" fill-opacity="0.7"/>
<circle cx="236.4" cy="73.4" r="1.9" fill="#999" fill-opacity="0.35"/>
<circle cx="236.4" cy="73.4" r="1.25" fill="#4a4a4a"/>
<circle cx="247.7" cy="73.4" r="1.9" fill="#999" fill-opacity="0.35"/>
<circle cx="247.7" cy="73.4" r="1.25" fill="#4a4a4a"/>
<circle cx="315.7" cy="73.4" r="1.9" fill="#999" fill-opacity="0.35"/>
<circle cx="315.7" cy="73.4" r="1.25" fill="#4a4a4a"/>
<circle cx="55.1" cy="84.8" r="1.9" fill="#999" fill-opacity="0.35"/>
<circle cx="55.1" cy="84.8" r="1.25" fill="#4a4a4a"/>
<circle cx="77.8" cy="84.8" r="1.1" fill="#777" fill-opacity="0.7"/>
<circle cx="225.0" cy="84.8" r="1.1" fill="#777" fill-opacity="0.7"/>
<circle cx="236.4" cy="84.8" r="1.9" fill="#999" fill-opacity="0.35"/>
<circle cx="236.4" cy="84.8" r="1.25" fill="#4a4a4a"/>
<circle cx="281.7" cy="84.8" r="1.9" fill="#999" fill-opacity="0.35"/>
<circle cx="281.7" cy="84.8" r="1.25" fill="#4a4a4a"/>
<circle cx="304.4" cy="84.8" r="1.9" fill="#999" fill-opacity="0.35"/>
<circle cx="304.4" cy="84.8" r="1.25" fill="#4a4a4a"/>
<circle cx="315.7" cy="84.8" r="1.9" fill="#999" fill-opacity="0.35"/>
<circle cx="315.7" cy="84.8" r="1.25" fill="#4a4a4a"/>
<circle cx="55.1" cy="96.2" r="1.1" fill="#777" fill-opacity="0.7"/>
<circle cx="77.8" cy="96.2" r="1.1" fill="#777" fill-opacity="0.7"/>
<circle cx="145.7" cy="96.2" r="1.9" fill="#999" fill-opacity="0.35"/>
<circle cx="145.7" cy="96.2" r="1.25" fill="#4a4a4a"/>
<circle cx="293.0" cy="96.2" r="1.9" fill="#999" fill-opacity="0.35"/>
<circle cx="293.0" cy="96.2" r="1.25" fill="#4a4a4a"/>
<circle cx="304.4" cy="96.2" r="1.9" fill="#999" fill-opacity="0.35"/>
<circle cx="304.4" cy="96.2" r="1.25" fill="#4a4a4a"/>
<circle cx="89.1" cy="107.5" r="1.9" fill="#999" fill-opacity="0.35"/>
<circle cx="89.1" cy="107.5" r="1.25" fill="#4a4a4a"/>
<circle cx="111.8" cy="107.5" r="1.9" fill="#999" fill-opacity="0.35"/>
<circle cx="111.8" cy="107.5" r="1.25" fill="#4a4a4a"/>
<circle cx="134.4" cy="107.5" r="1.9" fill="#999" fill-opacity="0.35"/>
<circle cx="134.4" cy="107.5" r="1.25" fill="#4a4a4a"/>
<circle cx="145.7" cy="107.5" r="1.9" fill="#999" fill-opacity="0.35"/>
<circle cx="145.7" cy="107.5" r="1.25" fill="#4a4a4a"/>
<circle cx="179.7" cy="107.5" r="1.9" fill="#999" fill-opacity="0.35"/>
<circle cx="179.7" cy="107.5" r="1.25" fill="#4a4a4a"/>
<circle cx="213.7" cy="107.5" r="1.9" fill="#999" fill-opacity="0.35"/>
<circle cx="213.7" cy="107.5" r="1.25" fill="#4a4a4a"/>
<circle cx="259.0" cy="107.5" r="1.9" fill="#999" fill-opacity="0.35"/>
<circle cx="259.0" cy="107.5" r="1.25" fill="#4a4a4a"/>
<circle cx="270.4" cy="107.5" r="1.9" fill="#999" fill-opacity="0.35"/>
<circle cx="270.4" cy="107.5" r="1.25" fill="#4a4a4a"/>
<circle cx="293.0" cy="107.5" r="1.9" fill="#999" fill-opacity="0.35"/>
<circle cx="293.0" cy="107.5" r="1.25" fill="#4a4a4a"/>
<circle cx="304.4" cy="107.5" r="1.9" fill="#999" fill-opacity="0.35"/>
<circle cx="304.4" cy="107.5" r="1.25" fill="#4a4a4a"/>
<circle cx="55.1" cy="118.9" r="1.9" fill="#999" fill-opacity="0.35"/>
<circle cx="55.1" cy="118.9" r="1.25" fill="#4a4a4a"/>
<circle cx="77.8" cy="118.9" r="1.9" fill="#999" fill-opacity="0.35"/>
<circle cx="77.8" cy="118.9" r="1.25" fill="#4a4a4a"/>
<circle cx="89.1" cy="118.9" r="1.9" fill="#999" fill-opacity="0.35"/>
<circle cx="89.1" cy="118.9" r="1.25" fill="#4a4a4a"/>
<circle cx="100.4" cy="118.9" r="1.9" fill="#999" fill-opacity="0.35"/>
<circle cx="100.4" cy="118.9" r="1.25" fill="#4a4a4a"/>
<circle cx="111.8" cy="118.9" r="1.9" fill="#999" fill-opacity="0.35"/>
<circle cx="111.8" cy="118.9" r="1.25" fill="#4a4a4a"/>
<circle cx="123.1" cy="118.9" r="1.9" fill="#999" fill-opacity="0.35"/>
<circle cx="123.1" cy="118.9" r="1.25" fill="#4a4a4a"/>
<circle cx="179.7" cy="118.9" r="1.9" fill="#999" fill-opacity="0.35"/>
<circle cx="179.7" cy="118.9" r="1.25" fill="#4a4a4a"/>
<circle cx="202.4" cy="118.9" r="1.9" fill="#999" fill-opacity="0.35"/>
<circle cx="202.4" cy="118.9" r="1.25" fill="#4a4a4a"/>
<circle cx="213.7" cy="118.9" r="1.9" fill="#999" fill-opacity="0.35"/>
<circle cx="213.7" cy="118.9" r="1.25" fill="#4a4a4a"/>
<circle cx="247.7" cy="118.9" r="1.9" fill="#999" fill-opacity="0.35"/>
<circle cx="247.7" cy="118.9" r="1.25" fill="#4a4a4a"/>
<circle cx="259.0" cy="118.9" r="1.9" fill="#999" fill-opacity="0.35"/>
<circle cx="259.0" cy="118.9" r="1.25" fill="#4a4a4a"/>
<circle cx="281.7" cy="118.9" r="1.9" fill="#999" fill-opacity="0.35"/>
<circle cx="281.7" cy="118.9" r="1.25" fill="#4a4a4a"/>
<circle cx="293.0" cy="118.9" r="1.1" fill="#777" fill-opacity="0.7"/>
<circle cx="304.4" cy="118.9" r="1.1" fill="#777" fill-opacity="0.7"/>
<circle cx="55.1" cy="130.2" r="1.9" fill="#999" fill-opacity="0.35"/>
<circle cx="55.1" cy="130.2" r="1.25" fill="#4a4a4a"/>
<circle cx="66.4" cy="130.2" r="1.9" fill="#999" fill-opacity="0.35"/>
<circle cx="66.4" cy="130.2" r="1.25" fill="#4a4a4a"/>
<circle cx="77.8" cy="130.2" r="1.9" fill="#999" fill-opacity="0.35"/>
<circle cx="77.8" cy="130.2" r="1.25" fill="#4a4a4a"/>
<circle cx="89.1" cy="130.2" r="1.9" fill="#999" fill-opacity="0.35"/>
<circle cx="89.1" cy="130.2" r="1.25" fill="#4a4a4a"/>
<circle cx="100.4" cy="130.2" r="1.9" fill="#999" fill-opacity="0.35"/>
<circle cx="100.4" cy="130.2" r="1.25" fill="#4a4a4a"/>
<circle cx="111.8" cy="130.2" r="1.9" fill="#999" fill-opacity="0.35"/>
<circle cx="111.8" cy="130.2" r="1.25" fill="#4a4a4a"/>
<circle cx="123.1" cy="130.2" r="1.9" fill="#999" fill-opacity="0.35"/>
<circle cx="123.1" cy="130.2" r="1.25" fill="#4a4a4a"/>
<circle cx="134.4" cy="130.2" r="1.9" fill="#999" fill-opacity="0.35"/>
<circle cx="134.4" cy="130.2" r="1.25" fill="#4a4a4a"/>
<circle cx="179.7" cy="130.2" r="1.9" fill="#999" fill-opacity="0.35"/>
<circle cx="179.7" cy="130.2" r="1.25" fill="#4a4a4a"/>
<circle cx="191.1" cy="130.2" r="1.9" fill="#999" fill-opacity="0.35"/>
<circle cx="191.1" cy="130.2" r="1.25" fill="#4a4a4a"/>
<circle cx="202.4" cy="130.2" r="1.9" fill="#999" fill-opacity="0.35"/>
<circle cx="202.4" cy="130.2" r="1.25" fill="#4a4a4a"/>
<circle cx="213.7" cy="130.2" r="1.9" fill="#999" fill-opacity="0.35"/>
<circle cx="213.7" cy="130.2" r="1.25" fill="#4a4a4a"/>
<circle cx="225.0" cy="130.2" r="1.9" fill="#999" fill-opacity="0.35"/>
<circle cx="225.0" cy="130.2" r="1.25" fill="#4a4a4a"/>
<circle cx="270.4" cy="130.2" r="1.9" fill="#999" fill-opacity="0.35"/>
<circle cx="270.4" cy="130.2" r="1.25" fill="#4a4a4a"/>
<circle cx="281.7" cy="130.2" r="1.9" fill="#999" fill-opacity="0.35"/>
<circle cx="281.7" cy="130.2" r="1.25" fill="#4a4a4a"/>
<circle cx="293.0" cy="130.2" r="1.9" fill="#999" fill-opacity="0.35"/>
<circle cx="293.0" cy="130.2" r="1.25" fill="#4a4a4a"/>
<circle cx="304.4" cy="130.2" r="1.9" fill="#999" fill-opacity="0.35"/>
<circle cx="304.4" cy="130.2" r="1.25" fill="#4a4a4a"/>
<circle cx="315.7" cy="130.2" r="1.9" fill="#999" fill-opacity="0.35"/>
<circle cx="315.7" cy="130.2" r="1.25" fill="#4a4a4a"/>
<circle cx="89.1" cy="141.6" r="1.9" fill="#999" fill-opacity="0.35"/>
<circle cx="89.1" cy="141.6" r="1.25" fill="#4a4a4a"/>
<circle cx="134.4" cy="141.6" r="1.9" fill="#999" fill-opacity="0.35"/>
<circle cx="134.4" cy="141.6" r="1.25" fill="#4a4a4a"/>
<circle cx="191.1" cy="141.6" r="1.9" fill="#999" fill-opacity="0.35"/>
<circle cx="191.1" cy="141.6" r="1.25" fill="#4a4a4a"/>
<circle cx="202.4" cy="141.6" r="1.9" fill="#999" fill-opacity="0.35"/>
<circle cx="202.4" cy="141.6" r="1.25" fill="#4a4a4a"/>
<circle cx="213.7" cy="141.6" r="1.9" fill="#999" fill-opacity="0.35"/>
<circle cx="213.7" cy="141.6" r="1.25" fill="#4a4a4a"/>
<circle cx="270.4" cy="141.6" r="1.9" fill="#999" fill-opacity="0.35"/>
<circle cx="270.4" cy="141.6" r="1.25" fill="#4a4a4a"/>
<circle cx="281.7" cy="141.6" r="1.1" fill="#777" fill-opacity="0.7"/>
<circle cx="293.0" cy="141.6" r="1.9" fill="#999" fill-opacity="0.35"/>
<circle cx="293.0" cy="141.6" r="1.25" fill="#4a4a4a"/>
<circle cx="304.4" cy="141.6" r="1.9" fill="#999" fill-opacity="0.35"/>
<circle cx="304.4" cy="141.6" r="1.25" fill="#4a4a4a"/>
<circle cx="55.1" cy="153.0" r="1.9" fill="#999" fill-opacity="0.35"/>
<circle cx="55.1" cy="153.0" r="1.25" fill="#4a4a4a"/>
<circle cx="77.8" cy="153.0" r="1.9" fill="#999" fill-opacity="0.35"/>
<circle cx="77.8" cy="153.0" r="1.25" fill="#4a4a4a"/>
<circle cx="89.1" cy="153.0" r="1.9" fill="#999" fill-opacity="0.35"/>
<circle cx="89.1" cy="153.0" r="1.25" fill="#4a4a4a"/>
<circle cx="111.8" cy="153.0" r="1.9" fill="#999" fill-opacity="0.35"/>
<circle cx="111.8" cy="153.0" r="1.25" fill="#4a4a4a"/>
<circle cx="134.4" cy="153.0" r="1.9" fill="#999" fill-opacity="0.35"/>
<circle cx="134.4" cy="153.0" r="1.25" fill="#4a4a4a"/>
<circle cx="157.1" cy="153.0" r="1.9" fill="#999" fill-opacity="0.35"/>
<circle cx="157.1" cy="153.0" r="1.25" fill="#4a4a4a"/>
<circle cx="236.4" cy="153.0" r="1.9" fill="#999" fill-opacity="0.35"/>
<circle cx="236.4" cy="153.0" r="1.25" fill="#4a4a4a"/>
<circle cx="270.4" cy="153.0" r="1.9" fill="#999" fill-opacity="0.35"/>
<circle cx="270.4" cy="153.0" r="1.25" fill="#4a4a4a"/>
<circle cx="293.0" cy="153.0" r="1.9" fill="#999" fill-opacity="0.35"/>
<circle cx="293.0" cy="153.0" r="1.25" fill="#4a4a4a"/>
<circle cx="304.4" cy="153.0" r="1.9" fill="#999" fill-opacity="0.35"/>
<circle cx="304.4" cy="153.0" r="1.25" fill="#4a4a4a"/>
<circle cx="315.7" cy="153.0" r="1.9" fill="#999" fill-opacity="0.35"/>
<circle cx="315.7" cy="153.0" r="1.25" fill="#4a4a4a"/>
<circle cx="77.8" cy="164.3" r="1.9" fill="#999" fill-opacity="0.35"/>
<circle cx="77.8" cy="164.3" r="1.25" fill="#4a4a4a"/>
<circle cx="100.4" cy="164.3" r="1.9" fill="#999" fill-opacity="0.35"/>
<circle cx="100.4" cy="164.3" r="1.25" fill="#4a4a4a"/>
<circle cx="111.8" cy="164.3" r="1.1" fill="#777" fill-opacity="0.7"/>
<circle cx="123.1" cy="164.3" r="1.9" fill="#999" fill-opacity="0.35"/>
<circle cx="123.1" cy="164.3" r="1.25" fill="#4a4a4a"/>
<circle cx="134.4" cy="164.3" r="1.9" fill="#999" fill-opacity="0.35"/>
<circle cx="134.4" cy="164.3" r="1.25" fill="#4a4a4a"/>
<circle cx="145.7" cy="164.3" r="1.9" fill="#999" fill-opacity="0.35"/>
<circle cx="145.7" cy="164.3" r="1.25" fill="#4a4a4a"/>
<circle cx="157.1" cy="164.3" r="1.9" fill="#999" fill-opacity="0.35"/>
<circle cx="157.1" cy="164.3" r="1.25" fill="#4a4a4a"/>
<circle cx="168.4" cy="164.3" r="1.9" fill="#999" fill-opacity="0.35"/>
<circle cx="168.4" cy="164.3" r="1.25" fill="#4a4a4a"/>
<circle cx="202.4" cy="164.3" r="1.9" fill="#999" fill-opacity="0.35"/>
<circle cx="202.4" cy="164.3" r="1.25" fill="#4a4a4a"/>
<circle cx="236.4" cy="164.3" r="1.9" fill="#999" fill-opacity="0.35"/>
<circle cx="236.4" cy="164.3" r="1.25" fill="#4a4a4a"/>
<circle cx="293.0" cy="164.3" r="1.9" fill="#999" fill-opacity="0.35"/>
<circle cx="293.0" cy="164.3" r="1.25" fill="#4a4a4a"/>
<circle cx="304.4" cy="164.3" r="1.9" fill="#999" fill-opacity="0.35"/>
<circle cx="304.4" cy="164.3" r="1.25" fill="#4a4a4a"/>
<circle cx="315.7" cy="164.3" r="1.9" fill="#999" fill-opacity="0.35"/>
<circle cx="315.7" cy="164.3" r="1.25" fill="#4a4a4a"/>
<path d="M110.0,24.7 C112.8,24.9 115.7,25.5 119.2,27.1 C122.7,28.7 127.8,31.8 131.0,34.4 C134.2,37.0 136.2,39.5 138.3,42.7 C140.5,45.9 141.8,49.4 143.9,53.7 C146.1,58.0 148.8,63.2 151.2,68.4 C153.6,73.6 156.2,79.8 158.5,84.9 C160.8,90.0 163.2,94.8 165.0,99.0 C166.8,103.2 168.2,106.2 169.0,110.0 C169.8,113.8 170.0,118.2 169.8,122.0 C169.6,125.8 169.4,129.3 167.9,133.0 C166.4,136.7 163.8,140.8 161.0,144.0 C158.2,147.2 154.8,150.2 151.3,152.3 C147.9,154.4 144.0,155.8 140.3,156.5 C136.6,157.2 133.0,157.4 129.3,156.5 C125.6,155.6 121.2,153.2 118.3,151.0 C115.4,148.8 113.7,145.6 112.0,143.0 C110.3,140.4 109.5,138.8 108.2,135.4 C107.0,132.0 105.9,126.7 104.5,122.5 C103.1,118.3 101.6,114.0 100.0,110.5 C98.4,107.0 96.8,104.5 95.1,101.6 C93.4,98.6 91.6,95.9 90.1,92.8 C88.6,89.7 87.3,86.1 86.3,82.7 C85.3,79.3 84.7,75.9 84.2,72.6 C83.8,69.3 83.3,67.6 83.6,62.9 C83.9,58.2 84.5,49.5 86.2,44.5 C87.9,39.5 90.8,35.6 93.5,32.6 C96.2,29.6 100.0,27.5 102.7,26.2 C105.5,24.9 107.2,24.5 110.0,24.7Z" fill="none" stroke="#111" stroke-width="1.45" stroke-dasharray="3.4 1.7"/>
<path d="M113.7,43.0 C116.1,42.9 118.4,42.7 121.0,44.5 C123.6,46.3 126.7,50.8 129.2,53.7 C131.7,56.6 134.0,59.4 136.0,62.0 C138.0,64.6 138.8,66.5 141.0,69.2 C143.2,71.9 146.6,75.0 149.0,78.0 C151.4,81.0 153.6,84.3 155.5,87.5 C157.4,90.7 159.2,93.6 160.5,97.0 C161.8,100.4 162.5,104.5 163.0,108.0 C163.5,111.5 163.5,114.7 163.5,118.0 C163.5,121.3 163.9,124.3 163.0,128.0 C162.1,131.7 160.4,136.9 158.2,140.0 C156.0,143.1 153.2,145.3 150.0,146.8 C146.8,148.3 142.3,149.1 138.9,148.9 C135.5,148.7 132.3,147.7 129.3,145.5 C126.3,143.3 123.1,139.9 121.0,135.8 C118.9,131.7 118.1,124.9 116.9,120.7 C115.8,116.5 115.2,113.7 114.1,110.5 C113.0,107.3 111.8,104.3 110.3,101.6 C108.8,98.9 106.9,96.8 105.2,94.1 C103.5,91.4 101.6,88.2 100.2,85.2 C98.8,82.2 97.3,79.3 96.6,76.4 C95.9,73.5 96.0,70.3 96.0,67.6 C96.0,64.9 96.0,62.3 96.5,60.0 C97.0,57.7 97.3,56.1 99.0,53.7 C100.7,51.3 104.0,47.2 106.4,45.4 C108.9,43.6 111.3,43.1 113.7,43.0Z" fill="none" stroke="#111" stroke-width="1.45" stroke-dasharray="3.4 1.7"/>
<path d="M123.8,71.5 C124.9,71.3 126.5,71.3 128.0,72.6 C129.5,73.9 130.9,77.4 132.9,79.5 C134.9,81.6 137.5,83.3 139.8,85.2 C142.1,87.1 144.8,89.1 146.7,91.0 C148.6,92.9 150.0,94.5 151.3,96.7 C152.6,98.9 153.8,101.6 154.5,104.0 C155.2,106.4 155.5,108.0 155.8,111.0 C156.1,114.0 156.4,118.3 156.1,122.0 C155.8,125.7 155.8,130.0 154.1,133.0 C152.4,136.0 148.3,138.6 145.8,140.0 C143.3,141.4 141.2,141.8 138.9,141.3 C136.6,140.8 133.8,139.5 132.0,137.2 C130.2,134.9 128.9,131.4 127.9,127.5 C126.9,123.6 126.4,117.9 125.8,113.8 C125.2,109.7 125.1,106.1 124.5,103.0 C123.9,99.9 122.8,97.8 122.0,95.0 C121.2,92.2 120.1,88.8 119.7,86.0 C119.3,83.2 119.5,80.0 119.8,78.0 C120.1,76.0 120.8,75.1 121.5,74.0 C122.2,72.9 122.7,71.7 123.8,71.5Z" fill="none" stroke="#111" stroke-width="1.45" stroke-dasharray="3.4 1.7"/>
<path d="M143.0,106.0 C144.6,105.6 146.7,106.8 148.0,108.5 C149.3,110.2 150.3,113.4 150.6,116.0 C150.9,118.6 150.7,121.7 150.0,124.0 C149.3,126.3 147.8,128.8 146.5,130.0 C145.2,131.2 143.3,131.5 142.0,131.0 C140.7,130.5 139.3,129.0 138.5,127.0 C137.7,125.0 137.0,121.7 137.0,119.0 C137.0,116.3 137.5,113.2 138.5,111.0 C139.5,108.8 141.4,106.4 143.0,106.0Z" fill="none" stroke="#111" stroke-width="1.45" stroke-dasharray="3.4 1.7"/>
<path d="M218.8,97.0 C219.0,91.3 220.1,78.3 221.6,72.0 C223.1,65.7 224.8,63.4 228.0,59.1 C231.2,54.8 236.5,49.8 240.8,46.3 C245.1,42.8 249.4,39.5 253.6,38.0 C257.8,36.5 262.7,36.7 266.0,37.5 C269.3,38.3 271.8,40.3 273.3,42.7 C274.8,45.1 275.0,48.4 275.2,51.8 C275.4,55.1 275.2,59.1 274.3,62.8 C273.4,66.5 271.7,70.1 269.7,73.8 C267.7,77.5 264.4,81.5 262.3,84.9 C260.2,88.3 258.9,91.0 256.8,94.0 C254.8,97.0 251.8,100.1 250.0,103.0 C248.2,105.9 248.8,109.5 246.3,111.5 C243.9,113.5 238.7,114.8 235.3,115.2 C232.0,115.7 228.6,115.7 226.2,114.2 C223.8,112.7 221.9,108.9 220.7,106.0 C219.5,103.1 218.7,102.7 218.8,97.0Z" fill="none" stroke="#111" stroke-width="1.45" stroke-dasharray="3.4 1.7"/>
<path d="M227.0,97.0 C226.7,93.2 228.1,84.1 229.8,79.3 C231.5,74.5 234.1,71.2 237.1,68.3 C240.1,65.4 244.7,63.0 248.1,61.9 C251.5,60.8 255.2,60.5 257.3,61.9 C259.4,63.3 260.6,66.6 261.0,70.1 C261.4,73.6 260.9,79.0 260.0,83.0 C259.1,87.0 257.2,91.4 255.5,94.0 C253.8,96.6 251.8,97.0 250.0,98.7 C248.2,100.4 246.7,103.0 244.5,104.2 C242.3,105.4 239.2,106.3 237.1,106.0 C235.0,105.7 233.4,103.8 231.7,102.3 C230.0,100.8 227.3,100.8 227.0,97.0Z" fill="none" stroke="#111" stroke-width="1.45" stroke-dasharray="3.4 1.7"/>
<path d="M273.3,97.0 C276.1,92.9 279.1,86.0 282.5,81.2 C285.9,76.4 289.5,71.7 293.5,68.3 C297.5,64.9 302.0,63.0 306.3,61.0 C310.6,59.0 316.3,56.4 319.2,56.4 C322.1,56.4 322.7,58.7 323.8,61.0 C324.9,63.3 325.6,67.2 325.6,70.2 C325.6,73.2 325.0,75.9 323.8,79.3 C322.6,82.7 319.7,86.0 318.3,90.4 C316.9,94.9 317.2,101.0 315.5,106.0 C313.8,111.0 310.9,116.1 308.2,120.7 C305.4,125.3 302.4,130.0 299.0,133.5 C295.6,137.0 291.7,139.8 288.0,141.8 C284.3,143.8 280.4,145.2 277.0,145.4 C273.6,145.6 270.2,144.7 267.8,142.7 C265.4,140.7 263.2,137.5 262.3,133.5 C261.4,129.5 261.7,123.4 262.3,118.8 C262.9,114.2 264.2,109.6 266.0,106.0 C267.8,102.4 270.6,101.1 273.3,97.0Z" fill="none" stroke="#111" stroke-width="1.9"/>
<path d="M280.7,97.0 C282.4,94.1 285.9,90.7 288.0,88.5 C290.1,86.3 291.7,84.3 293.5,84.0 C295.3,83.7 297.6,85.3 299.0,86.7 C300.4,88.1 301.2,90.5 301.8,92.2 C302.4,93.9 303.2,94.7 302.7,97.0 C302.2,99.3 300.8,103.4 299.0,106.0 C297.2,108.6 294.4,110.4 291.7,112.4 C288.9,114.4 284.9,117.1 282.5,117.9 C280.1,118.7 277.8,119.0 277.0,117.0 C276.2,115.0 277.3,109.3 277.9,106.0 C278.5,102.7 279.0,99.9 280.7,97.0Z" fill="none" stroke="#111" stroke-width="1.9"/>
<rect x="77.2" y="96.4" width="54.5" height="38.2" fill="none" stroke="#222" stroke-width="1.1"/>
<rect x="209.3" y="57.5" width="54.9" height="38.5" fill="none" stroke="#222" stroke-width="1.1"/>
</g>
<rect x="46.0" y="19.0" width="280.5" height="154.5" fill="none" stroke="#333" stroke-width="1.2"/>
<line x1="41.5" y1="19.0" x2="46" y2="19.0" stroke="#333" stroke-width="1.1"/>
<line x1="41.5" y1="70.5" x2="46" y2="70.5" stroke="#333" stroke-width="1.1"/>
<line x1="41.5" y1="122.0" x2="46" y2="122.0" stroke="#333" stroke-width="1.1"/>
<line x1="41.5" y1="173.5" x2="46" y2="173.5" stroke="#333" stroke-width="1.1"/>
<line x1="46.0" y1="173.5" x2="46.0" y2="178" stroke="#333" stroke-width="1.1"/>
<line x1="116.1" y1="173.5" x2="116.1" y2="178" stroke="#333" stroke-width="1.1"/>
<line x1="186.2" y1="173.5" x2="186.2" y2="178" stroke="#333" stroke-width="1.1"/>
<line x1="256.4" y1="173.5" x2="256.4" y2="178" stroke="#333" stroke-width="1.1"/>
<line x1="326.5" y1="173.5" x2="326.5" y2="178" stroke="#333" stroke-width="1.1"/>
<rect x="343.5" y="19.00" width="9.2" height="12.875" fill="#7b0a8b" stroke="#111" stroke-width="1"/>
<rect x="343.5" y="31.88" width="9.2" height="12.875" fill="#a8318f" stroke="#111" stroke-width="1"/>
<rect x="343.5" y="44.75" width="9.2" height="12.875" fill="#d9628c" stroke="#111" stroke-width="1"/>
<rect x="343.5" y="57.62" width="9.2" height="12.875" fill="#f5a0a2" stroke="#111" stroke-width="1"/>
<rect x="343.5" y="70.50" width="9.2" height="12.875" fill="#fbd0d1" stroke="#111" stroke-width="1"/>
<rect x="343.5" y="83.38" width="9.2" height="12.875" fill="#fdf0f0" stroke="#111" stroke-width="1"/>
<rect x="343.5" y="96.25" width="9.2" height="12.875" fill="#e1f4fd" stroke="#111" stroke-width="1"/>
<rect x="343.5" y="109.12" width="9.2" height="12.875" fill="#a9ddf9" stroke="#111" stroke-width="1"/>
<rect x="343.5" y="122.00" width="9.2" height="12.875" fill="#37bff8" stroke="#111" stroke-width="1"/>
<rect x="343.5" y="134.88" width="9.2" height="12.875" fill="#1f8ef3" stroke="#111" stroke-width="1"/>
<rect x="343.5" y="147.75" width="9.2" height="12.875" fill="#4a9cf0" stroke="#111" stroke-width="1"/>
<rect x="343.5" y="160.62" width="9.2" height="12.875" fill="#6a88e6" stroke="#111" stroke-width="1"/>
<defs><clipPath id="cb"><rect x="46.0" y="235.4" width="280.6" height="154.0"/></clipPath></defs>
<g clip-path="url(#cb)">
<path d="M48.8,330.7 L49.5,327.3 L50.2,326.2 L50.9,330.1 L51.6,328.2 L52.3,327.1 L53.0,322.0 L53.7,321.3 L54.4,321.3 L55.1,320.8 L55.8,320.9 L56.5,320.3 L57.2,317.3 L57.9,318.7 L58.6,320.3 L59.3,317.5 L60.0,321.6 L60.7,320.5 L61.4,321.6 L62.1,318.5 L62.8,319.2 L63.5,320.9 L64.2,318.5 L64.9,315.8 L65.6,320.3 L66.3,318.7 L67.0,314.9 L67.7,311.8 L68.4,315.5 L69.2,312.4 L69.9,307.3 L70.6,307.2 L71.3,305.6 L72.0,309.4 L72.7,306.3 L73.4,312.0 L74.1,311.3 L74.8,307.9 L75.5,312.4 L76.2,311.4 L76.9,314.5 L77.6,315.3 L78.3,311.3 L79.0,310.4 L79.7,316.1 L80.4,312.5 L81.1,314.6 L81.8,312.1 L82.5,311.6 L83.2,311.2 L83.9,308.3 L84.6,305.4 L85.3,301.5 L86.0,305.2 L86.7,302.1 L87.4,301.5 L88.1,303.2 L88.8,297.7 L89.5,302.1 L90.2,297.7 L90.9,302.1 L91.7,303.3 L92.4,299.8 L93.1,302.0 L93.8,305.0 L94.5,301.9 L95.2,300.4 L95.9,297.2 L96.6,294.0 L97.3,294.3 L98.0,293.0 L98.7,289.8 L99.4,288.6 L100.1,286.1 L100.8,288.9 L101.5,288.3 L102.2,284.6 L102.9,284.9 L103.6,287.0 L104.3,286.8 L105.0,289.0 L105.7,284.4 L106.4,282.8 L107.1,286.4 L107.8,280.3 L108.5,282.2 L109.2,279.9 L109.9,282.4 L110.6,280.0 L111.3,280.8 L112.0,275.8 L112.7,278.4 L113.4,276.6 L114.2,275.0 L114.9,275.9 L115.6,275.6 L116.3,270.4 L117.0,270.9 L117.7,270.4 L118.4,269.1 L119.1,267.7 L119.8,268.6 L120.5,267.1 L121.2,269.5 L121.9,267.4 L122.6,264.5 L123.3,264.6 L124.0,264.5 L124.7,263.5 L125.4,262.0 L126.1,260.7 L126.8,259.8 L127.5,265.7 L128.2,264.2 L128.9,259.0 L129.6,262.0 L130.3,262.6 L131.0,259.1 L131.7,255.2 L132.4,257.4 L133.1,256.0 L133.8,254.5 L134.5,256.4 L135.2,252.3 L135.9,257.6 L136.6,255.3 L137.4,254.8 L138.1,256.1 L138.8,252.7 L139.5,249.2 L140.2,247.5 L140.9,245.4 L141.6,241.9 L142.3,243.6 L143.0,241.4 L143.7,236.1 L144.4,233.6 L145.1,235.9 L145.8,237.3 L146.5,238.5 L147.2,235.1 L147.9,240.2 L148.6,241.8 L149.3,242.6 L150.0,241.8 L150.7,241.5 L151.4,247.5 L152.1,245.3 L152.8,247.8 L153.5,250.7 L154.2,251.1 L154.9,254.9 L155.6,252.7 L156.3,252.4 L157.0,256.8 L157.7,257.2 L158.4,258.0 L159.1,257.2 L159.9,258.4 L160.6,258.2 L161.3,255.5 L162.0,255.0 L162.7,252.7 L163.4,253.4 L164.1,255.1 L164.8,251.9 L165.5,255.7 L166.2,251.9 L166.9,254.1 L167.6,257.2 L168.3,251.5 L169.0,250.7 L169.7,253.3 L170.4,251.8 L171.1,255.5 L171.8,251.1 L172.5,257.4 L173.2,258.4 L173.9,259.0 L174.6,256.8 L175.3,257.3 L176.0,260.3 L176.7,260.3 L177.4,261.0 L178.1,261.0 L178.8,262.5 L179.5,265.5 L180.2,266.9 L180.9,267.9 L181.6,263.2 L182.4,264.7 L183.1,266.0 L183.8,267.2 L184.5,265.4 L185.2,265.2 L185.9,264.9 L186.6,266.8 L187.3,267.8 L188.0,271.5 L188.7,271.0 L189.4,271.7 L190.1,272.8 L190.8,273.7 L191.5,272.5 L192.2,273.6 L192.9,269.2 L193.6,274.0 L194.3,274.0 L195.0,272.1 L195.7,274.4 L196.4,277.3 L197.1,275.6 L197.8,277.7 L198.5,275.8 L199.2,277.4 L199.9,282.1 L200.6,277.5 L201.3,278.9 L202.0,282.3 L202.7,280.8 L203.4,278.6 L204.1,281.5 L204.9,279.7 L205.6,280.3 L206.3,279.6 L207.0,280.2 L207.7,280.2 L208.4,278.9 L209.1,277.2 L209.8,277.6 L210.5,282.3 L211.2,279.4 L211.9,276.9 L212.6,282.3 L213.3,278.8 L214.0,277.9 L214.7,280.7 L215.4,279.6 L216.1,282.0 L216.8,282.6 L217.5,281.3 L218.2,284.6 L218.9,283.6 L219.6,288.4 L220.3,291.0 L221.0,290.5 L221.7,295.2 L222.4,294.9 L223.1,299.1 L223.8,303.4 L224.5,303.3 L225.2,306.5 L225.9,308.0 L226.6,304.7 L227.3,311.0 L228.1,309.8 L228.8,306.4 L229.5,311.1 L230.2,308.2 L230.9,307.0 L231.6,312.3 L232.3,310.8 L233.0,312.2 L233.7,308.2 L234.4,313.4 L235.1,309.2 L235.8,311.1 L236.5,312.9 L237.2,310.6 L237.9,315.2 L238.6,313.0 L239.3,314.3 L240.0,318.1 L240.7,316.9 L241.4,319.8 L242.1,318.4 L242.8,319.8 L243.5,317.7 L244.2,319.4 L244.9,318.6 L245.6,314.3 L246.3,318.4 L247.0,316.6 L247.7,320.7 L248.4,320.9 L249.1,322.6 L249.8,319.3 L250.6,320.9 L251.3,324.3 L252.0,326.2 L252.7,324.8 L253.4,321.0 L254.1,325.0 L254.8,321.7 L255.5,325.3 L256.2,327.1 L256.9,322.3 L257.6,327.8 L258.3,325.9 L259.0,322.9 L259.7,322.5 L260.4,323.7 L261.1,326.5 L261.8,325.0 L262.5,322.1 L263.2,321.7 L263.9,322.7 L264.6,327.1 L265.3,323.2 L266.0,325.9 L266.7,324.5 L267.4,327.2 L268.1,325.5 L268.8,324.6 L269.5,329.7 L270.2,327.9 L270.9,329.1 L271.6,330.2 L272.3,331.6 L273.1,326.1 L273.8,328.7 L274.5,328.2 L275.2,330.6 L275.9,332.9 L276.6,332.9 L277.3,328.2 L278.0,328.7 L278.7,332.3 L279.4,330.7 L280.1,328.6 L280.8,328.7 L281.5,326.1 L282.2,329.8 L282.9,326.6 L283.6,329.1 L284.3,327.0 L285.0,323.9 L285.7,325.5 L286.4,324.1 L287.1,328.1 L287.8,326.2 L288.5,323.0 L289.2,323.4 L289.9,324.3 L290.6,324.8 L291.3,325.6 L292.0,324.1 L292.7,323.6 L293.4,321.0 L294.1,324.9 L294.8,322.8 L295.6,320.7 L296.3,323.7 L297.0,327.0 L297.7,320.9 L298.4,321.9 L299.1,325.4 L299.8,323.1 L300.5,323.3 L301.2,325.1 L301.9,323.7 L302.6,326.2 L303.3,326.3 L304.0,329.3 L304.7,329.9 L305.4,324.6 L306.1,328.2 L306.8,330.2 L307.5,330.7 L308.2,330.0 L308.9,329.5 L309.6,329.9 L310.3,327.7 L311.0,327.0 L311.7,330.5 L312.4,331.5 L313.1,331.8 L313.8,330.0 L314.5,327.3 L315.2,330.7 L315.9,330.1 L316.6,328.6 L317.3,329.1 L318.0,326.9 L318.8,328.1 L319.5,326.6 L320.2,323.3 L320.9,325.1 L321.6,324.3 L322.3,328.1 L322.3,371.0 L321.6,367.9 L320.9,369.5 L320.2,369.6 L319.5,374.1 L318.8,372.4 L318.0,376.1 L317.3,371.7 L316.6,371.4 L315.9,375.7 L315.2,372.9 L314.5,377.8 L313.8,374.0 L313.1,379.5 L312.4,375.9 L311.7,378.9 L311.0,375.5 L310.3,375.6 L309.6,378.2 L308.9,376.1 L308.2,377.8 L307.5,373.2 L306.8,374.0 L306.1,377.4 L305.4,372.0 L304.7,371.2 L304.0,375.2 L303.3,369.6 L302.6,374.3 L301.9,370.4 L301.2,375.0 L300.5,374.6 L299.8,373.1 L299.1,374.0 L298.4,370.6 L297.7,369.2 L297.0,370.7 L296.3,372.7 L295.6,373.3 L294.8,370.5 L294.1,370.1 L293.4,371.5 L292.7,372.3 L292.0,372.8 L291.3,371.7 L290.6,375.1 L289.9,370.1 L289.2,369.1 L288.5,372.2 L287.8,369.4 L287.1,374.6 L286.4,375.4 L285.7,374.0 L285.0,373.1 L284.3,376.9 L283.6,376.3 L282.9,373.0 L282.2,375.9 L281.5,379.2 L280.8,380.0 L280.1,378.8 L279.4,379.7 L278.7,379.5 L278.0,377.0 L277.3,379.1 L276.6,378.9 L275.9,380.6 L275.2,377.3 L274.5,375.5 L273.8,376.8 L273.1,374.3 L272.3,374.0 L271.6,377.8 L270.9,373.5 L270.2,376.7 L269.5,377.9 L268.8,372.0 L268.1,377.8 L267.4,375.0 L266.7,377.0 L266.0,372.4 L265.3,376.2 L264.6,375.6 L263.9,375.3 L263.2,372.2 L262.5,373.2 L261.8,374.9 L261.1,375.0 L260.4,374.4 L259.7,375.3 L259.0,375.8 L258.3,374.8 L257.6,369.9 L256.9,373.9 L256.2,374.1 L255.5,375.9 L254.8,370.5 L254.1,371.6 L253.4,374.3 L252.7,370.5 L252.0,374.5 L251.3,374.5 L250.6,372.2 L249.8,368.5 L249.1,370.5 L248.4,370.1 L247.7,370.0 L247.0,367.7 L246.3,364.5 L245.6,364.7 L244.9,366.7 L244.2,368.7 L243.5,369.3 L242.8,366.0 L242.1,366.0 L241.4,366.5 L240.7,365.4 L240.0,366.0 L239.3,363.5 L238.6,365.9 L237.9,365.4 L237.2,361.9 L236.5,359.8 L235.8,361.3 L235.1,360.7 L234.4,363.7 L233.7,357.7 L233.0,363.0 L232.3,359.0 L231.6,360.8 L230.9,357.4 L230.2,360.6 L229.5,359.8 L228.8,358.8 L228.1,354.1 L227.3,359.6 L226.6,356.1 L225.9,353.2 L225.2,350.9 L224.5,353.9 L223.8,353.1 L223.1,351.0 L222.4,347.7 L221.7,348.7 L221.0,343.3 L220.3,345.9 L219.6,339.1 L218.9,338.4 L218.2,335.4 L217.5,331.2 L216.8,331.5 L216.1,330.0 L215.4,332.9 L214.7,328.8 L214.0,330.9 L213.3,329.8 L212.6,331.1 L211.9,329.2 L211.2,332.3 L210.5,326.9 L209.8,332.9 L209.1,330.3 L208.4,333.2 L207.7,329.0 L207.0,328.9 L206.3,329.3 L205.6,331.0 L204.9,330.2 L204.1,332.2 L203.4,333.7 L202.7,334.2 L202.0,331.5 L201.3,333.5 L200.6,330.4 L199.9,332.3 L199.2,330.9 L198.5,327.1 L197.8,330.9 L197.1,324.6 L196.4,323.9 L195.7,324.7 L195.0,326.6 L194.3,325.0 L193.6,321.1 L192.9,325.2 L192.2,320.2 L191.5,319.6 L190.8,323.2 L190.1,320.5 L189.4,320.4 L188.7,321.4 L188.0,317.7 L187.3,320.6 L186.6,316.7 L185.9,318.5 L185.2,315.5 L184.5,317.5 L183.8,318.4 L183.1,319.5 L182.4,317.4 L181.6,313.7 L180.9,316.2 L180.2,311.7 L179.5,312.8 L178.8,314.4 L178.1,309.4 L177.4,312.5 L176.7,308.5 L176.0,309.3 L175.3,307.9 L174.6,305.5 L173.9,309.5 L173.2,311.0 L172.5,305.8 L171.8,309.3 L171.1,306.0 L170.4,301.9 L169.7,307.6 L169.0,302.7 L168.3,306.4 L167.6,307.0 L166.9,303.4 L166.2,303.1 L165.5,303.3 L164.8,305.8 L164.1,306.6 L163.4,309.0 L162.7,307.3 L162.0,305.1 L161.3,311.1 L160.6,308.9 L159.9,311.4 L159.1,309.2 L158.4,309.0 L157.7,309.7 L157.0,311.9 L156.3,311.3 L155.6,309.4 L154.9,302.6 L154.2,305.7 L153.5,299.4 L152.8,302.1 L152.1,298.9 L151.4,299.5 L150.7,296.1 L150.0,292.4 L149.3,293.5 L148.6,290.0 L147.9,290.9 L147.2,288.0 L146.5,284.2 L145.8,285.6 L145.1,289.4 L144.4,289.6 L143.7,286.8 L143.0,293.9 L142.3,293.3 L141.6,299.8 L140.9,297.3 L140.2,302.3 L139.5,302.5 L138.8,305.6 L138.1,304.5 L137.4,305.6 L136.6,310.0 L135.9,306.1 L135.2,311.0 L134.5,307.0 L133.8,308.1 L133.1,312.2 L132.4,314.0 L131.7,310.4 L131.0,313.4 L130.3,312.3 L129.6,316.1 L128.9,315.7 L128.2,311.4 L127.5,312.4 L126.8,313.4 L126.1,318.5 L125.4,314.3 L124.7,319.3 L124.0,316.3 L123.3,317.4 L122.6,320.2 L121.9,320.8 L121.2,320.3 L120.5,323.0 L119.8,322.3 L119.1,325.0 L118.4,321.3 L117.7,324.7 L117.0,322.2 L116.3,328.0 L115.6,323.4 L114.9,327.9 L114.2,327.5 L113.4,326.0 L112.7,332.4 L112.0,330.8 L111.3,335.0 L110.6,333.1 L109.9,335.1 L109.2,337.4 L108.5,337.9 L107.8,335.9 L107.1,339.6 L106.4,336.8 L105.7,337.1 L105.0,339.3 L104.3,338.6 L103.6,338.8 L102.9,337.8 L102.2,336.1 L101.5,339.7 L100.8,343.6 L100.1,340.6 L99.4,346.2 L98.7,345.3 L98.0,347.8 L97.3,349.1 L96.6,350.8 L95.9,351.8 L95.2,353.5 L94.5,351.6 L93.8,353.1 L93.1,353.5 L92.4,356.9 L91.7,356.6 L90.9,356.6 L90.2,352.8 L89.5,350.4 L88.8,352.8 L88.1,354.4 L87.4,355.8 L86.7,359.2 L86.0,356.1 L85.3,357.8 L84.6,359.2 L83.9,360.7 L83.2,366.7 L82.5,361.2 L81.8,365.2 L81.1,364.9 L80.4,364.5 L79.7,369.4 L79.0,369.3 L78.3,370.5 L77.6,367.8 L76.9,366.3 L76.2,368.1 L75.5,363.4 L74.8,365.5 L74.1,366.4 L73.4,365.5 L72.7,360.3 L72.0,363.3 L71.3,364.1 L70.6,360.4 L69.9,362.0 L69.2,368.0 L68.4,364.5 L67.7,367.1 L67.0,368.1 L66.3,374.3 L65.6,375.4 L64.9,374.2 L64.2,375.6 L63.5,371.4 L62.8,373.8 L62.1,376.3 L61.4,375.8 L60.7,376.6 L60.0,375.0 L59.3,374.8 L58.6,375.2 L57.9,378.5 L57.2,376.5 L56.5,376.6 L55.8,380.1 L55.1,378.0 L54.4,378.8 L53.7,380.7 L53.0,378.4 L52.3,383.7 L51.6,385.7 L50.9,384.4 L50.2,386.1 L49.5,385.8 L48.8,388.5Z" fill="#f6a418" fill-opacity="0.27"/>
<path d="M48.8,360.8 L49.5,360.0 L50.2,360.4 L50.9,358.3 L51.6,357.9 L52.3,356.5 L53.0,354.7 L53.7,354.3 L54.4,352.4 L55.1,352.5 L55.8,351.2 L56.5,350.6 L57.2,350.5 L57.9,350.9 L58.6,349.1 L59.3,349.0 L60.0,349.5 L60.7,350.0 L61.4,349.1 L62.1,348.6 L62.8,349.5 L63.5,347.9 L64.2,349.1 L64.9,347.8 L65.6,346.9 L66.3,345.9 L67.0,344.8 L67.7,344.6 L68.4,341.8 L69.2,340.8 L69.9,339.3 L70.6,337.9 L71.3,337.6 L72.0,336.8 L72.7,337.2 L73.4,338.5 L74.1,340.2 L74.8,340.5 L75.5,340.7 L76.2,341.6 L76.9,341.4 L77.6,341.2 L78.3,342.0 L79.0,341.8 L79.7,340.7 L80.4,340.9 L81.1,340.3 L81.8,340.1 L82.5,338.9 L83.2,337.1 L83.9,337.2 L84.6,334.3 L85.3,333.8 L86.0,333.0 L86.7,330.6 L87.4,330.1 L88.1,328.3 L88.8,328.9 L89.5,329.1 L90.2,328.9 L90.9,330.0 L91.7,329.7 L92.4,330.7 L93.1,330.8 L93.8,330.9 L94.5,330.3 L95.2,330.1 L95.9,329.3 L96.6,326.7 L97.3,325.3 L98.0,322.2 L98.7,321.5 L99.4,319.3 L100.1,318.1 L100.8,316.3 L101.5,314.4 L102.2,314.0 L102.9,314.7 L103.6,313.8 L104.3,314.7 L105.0,314.0 L105.7,313.6 L106.4,312.8 L107.1,313.1 L107.8,311.1 L108.5,310.5 L109.2,309.7 L109.9,309.6 L110.6,307.4 L111.3,306.8 L112.0,305.9 L112.7,305.4 L113.4,304.0 L114.2,303.0 L114.9,301.3 L115.6,300.5 L116.3,299.8 L117.0,300.4 L117.7,299.9 L118.4,297.6 L119.1,297.0 L119.8,296.4 L120.5,295.7 L121.2,295.5 L121.9,295.2 L122.6,293.8 L123.3,292.6 L124.0,292.6 L124.7,291.9 L125.4,291.6 L126.1,291.8 L126.8,290.7 L127.5,289.8 L128.2,289.2 L128.9,288.9 L129.6,287.2 L130.3,288.4 L131.0,287.7 L131.7,287.4 L132.4,286.6 L133.1,285.2 L133.8,284.4 L134.5,283.4 L135.2,283.5 L135.9,282.0 L136.6,281.4 L137.4,280.9 L138.1,279.9 L138.8,279.6 L139.5,277.8 L140.2,275.9 L140.9,274.1 L141.6,271.3 L142.3,268.9 L143.0,265.3 L143.7,264.4 L144.4,262.3 L145.1,260.9 L145.8,261.2 L146.5,262.3 L147.2,263.8 L147.9,265.0 L148.6,267.8 L149.3,269.4 L150.0,269.9 L150.7,271.4 L151.4,272.0 L152.1,273.2 L152.8,274.8 L153.5,276.1 L154.2,278.4 L154.9,278.5 L155.6,279.7 L156.3,282.8 L157.0,283.0 L157.7,283.0 L158.4,283.8 L159.1,282.9 L159.9,283.5 L160.6,283.8 L161.3,283.2 L162.0,282.8 L162.7,281.7 L163.4,281.5 L164.1,281.0 L164.8,281.8 L165.5,281.3 L166.2,281.5 L166.9,280.6 L167.6,280.3 L168.3,281.2 L169.0,281.0 L169.7,280.6 L170.4,280.8 L171.1,281.2 L171.8,281.8 L172.5,281.6 L173.2,282.9 L173.9,283.2 L174.6,283.3 L175.3,283.9 L176.0,285.4 L176.7,286.4 L177.4,288.2 L178.1,289.7 L178.8,289.8 L179.5,291.6 L180.2,292.4 L180.9,293.1 L181.6,292.5 L182.4,292.8 L183.1,293.1 L183.8,293.5 L184.5,293.8 L185.2,295.0 L185.9,295.6 L186.6,296.0 L187.3,295.5 L188.0,296.1 L188.7,296.7 L189.4,295.9 L190.1,297.2 L190.8,298.3 L191.5,298.3 L192.2,298.7 L192.9,298.6 L193.6,298.5 L194.3,300.0 L195.0,299.8 L195.7,301.4 L196.4,302.7 L197.1,302.8 L197.8,304.0 L198.5,306.0 L199.2,307.0 L199.9,307.1 L200.6,307.6 L201.3,307.9 L202.0,309.4 L202.7,308.8 L203.4,307.2 L204.1,308.1 L204.9,308.3 L205.6,307.5 L206.3,307.0 L207.0,307.3 L207.7,306.6 L208.4,306.3 L209.1,307.9 L209.8,307.1 L210.5,306.6 L211.2,307.0 L211.9,305.8 L212.6,306.4 L213.3,306.6 L214.0,305.7 L214.7,306.4 L215.4,307.5 L216.1,308.6 L216.8,309.9 L217.5,310.4 L218.2,312.0 L218.9,313.1 L219.6,316.3 L220.3,317.9 L221.0,320.6 L221.7,323.1 L222.4,325.4 L223.1,326.0 L223.8,328.2 L224.5,328.9 L225.2,330.2 L225.9,331.6 L226.6,331.7 L227.3,333.1 L228.1,333.3 L228.8,333.5 L229.5,335.4 L230.2,335.1 L230.9,336.0 L231.6,336.6 L232.3,336.4 L233.0,336.3 L233.7,337.0 L234.4,337.9 L235.1,339.0 L235.8,338.6 L236.5,340.1 L237.2,340.2 L237.9,340.8 L238.6,342.1 L239.3,342.4 L240.0,343.0 L240.7,343.9 L241.4,344.4 L242.1,343.6 L242.8,343.3 L243.5,342.6 L244.2,342.1 L244.9,342.3 L245.6,342.0 L246.3,342.5 L247.0,343.2 L247.7,344.9 L248.4,345.2 L249.1,346.3 L249.8,347.3 L250.6,346.5 L251.3,347.4 L252.0,348.6 L252.7,349.1 L253.4,348.4 L254.1,349.1 L254.8,350.1 L255.5,349.7 L256.2,349.9 L256.9,349.7 L257.6,350.6 L258.3,350.7 L259.0,350.7 L259.7,349.3 L260.4,350.1 L261.1,349.9 L261.8,348.9 L262.5,350.6 L263.2,351.1 L263.9,349.8 L264.6,351.2 L265.3,350.4 L266.0,350.7 L266.7,351.8 L267.4,351.8 L268.1,351.1 L268.8,352.0 L269.5,352.5 L270.2,352.4 L270.9,352.8 L271.6,353.2 L272.3,354.3 L273.1,353.3 L273.8,354.5 L274.5,354.5 L275.2,353.9 L275.9,354.7 L276.6,355.5 L277.3,355.4 L278.0,354.6 L278.7,356.3 L279.4,355.7 L280.1,355.9 L280.8,353.9 L281.5,353.7 L282.2,352.7 L282.9,353.5 L283.6,351.8 L284.3,351.0 L285.0,351.0 L285.7,351.5 L286.4,351.0 L287.1,349.9 L287.8,349.6 L288.5,351.1 L289.2,350.5 L289.9,350.5 L290.6,349.1 L291.3,349.1 L292.0,350.2 L292.7,349.4 L293.4,348.9 L294.1,350.5 L294.8,349.8 L295.6,350.0 L296.3,348.8 L297.0,350.1 L297.7,348.7 L298.4,350.2 L299.1,349.8 L299.8,349.6 L300.5,350.4 L301.2,351.2 L301.9,350.1 L302.6,349.9 L303.3,351.1 L304.0,350.6 L304.7,350.6 L305.4,351.1 L306.1,351.1 L306.8,351.8 L307.5,352.3 L308.2,352.7 L308.9,353.9 L309.6,353.0 L310.3,353.3 L311.0,352.8 L311.7,353.2 L312.4,352.2 L313.1,352.5 L313.8,351.8 L314.5,353.0 L315.2,352.3 L315.9,351.7 L316.6,352.2 L317.3,352.8 L318.0,350.7 L318.8,351.9 L319.5,350.8 L320.2,350.3 L320.9,350.8 L321.6,350.0 L322.3,349.8" fill="none" stroke="#f6a418" stroke-width="3.0" stroke-linejoin="round"/>
<path d="M48.8,344.1 L49.5,340.1 L50.2,344.3 L50.9,343.8 L51.6,341.8 L52.3,339.7 L53.0,341.5 L53.7,339.0 L54.4,339.8 L55.1,337.6 L55.8,342.2 L56.5,340.1 L57.2,339.1 L57.9,338.0 L58.6,341.1 L59.3,341.9 L60.0,342.2 L60.7,337.6 L61.4,338.8 L62.1,337.9 L62.8,339.9 L63.5,336.6 L64.2,338.7 L64.9,340.4 L65.6,339.5 L66.3,335.1 L67.0,335.1 L67.7,334.8 L68.4,337.3 L69.2,336.6 L69.9,335.5 L70.6,334.4 L71.3,333.6 L72.0,334.5 L72.7,335.1 L73.4,336.1 L74.1,334.8 L74.8,335.1 L75.5,336.2 L76.2,336.5 L76.9,335.7 L77.6,331.8 L78.3,335.7 L79.0,336.9 L79.7,334.5 L80.4,336.3 L81.1,331.9 L81.8,335.8 L82.5,333.0 L83.2,333.7 L83.9,330.5 L84.6,330.3 L85.3,330.1 L86.0,329.3 L86.7,327.6 L87.4,329.2 L88.1,331.8 L88.8,329.7 L89.5,331.3 L90.2,330.6 L90.9,330.7 L91.7,331.5 L92.4,329.6 L93.1,326.9 L93.8,326.6 L94.5,326.6 L95.2,323.8 L95.9,324.8 L96.6,327.8 L97.3,328.0 L98.0,324.1 L98.7,326.2 L99.4,326.5 L100.1,326.7 L100.8,325.9 L101.5,324.2 L102.2,321.7 L102.9,325.7 L103.6,322.8 L104.3,323.8 L105.0,322.3 L105.7,323.0 L106.4,325.3 L107.1,320.5 L107.8,321.7 L108.5,321.8 L109.2,320.7 L109.9,322.7 L110.6,319.1 L111.3,320.9 L112.0,319.4 L112.7,320.5 L113.4,315.5 L114.2,315.6 L114.9,315.6 L115.6,318.4 L116.3,313.4 L117.0,314.5 L117.7,316.6 L118.4,317.6 L119.1,313.7 L119.8,314.4 L120.5,315.4 L121.2,315.3 L121.9,315.0 L122.6,314.3 L123.3,311.1 L124.0,310.8 L124.7,309.7 L125.4,313.1 L126.1,310.5 L126.8,310.8 L127.5,314.2 L128.2,312.3 L128.9,311.7 L129.6,311.2 L130.3,310.5 L131.0,310.1 L131.7,307.3 L132.4,306.0 L133.1,305.8 L133.8,305.5 L134.5,307.8 L135.2,306.4 L135.9,306.2 L136.6,308.2 L137.4,310.5 L138.1,309.2 L138.8,306.4 L139.5,308.4 L140.2,304.6 L140.9,303.5 L141.6,303.1 L142.3,301.7 L143.0,301.5 L143.7,298.8 L144.4,298.9 L145.1,295.0 L145.8,298.8 L146.5,296.0 L147.2,299.3 L147.9,295.8 L148.6,300.5 L149.3,297.9 L150.0,301.4 L150.7,302.1 L151.4,302.2 L152.1,300.7 L152.8,299.2 L153.5,300.2 L154.2,304.4 L154.9,300.6 L155.6,302.9 L156.3,302.8 L157.0,303.6 L157.7,301.3 L158.4,301.4 L159.1,301.4 L159.9,306.2 L160.6,303.4 L161.3,304.8 L162.0,304.3 L162.7,302.7 L163.4,301.5 L164.1,300.8 L164.8,304.6 L165.5,301.2 L166.2,304.7 L166.9,300.9 L167.6,302.6 L168.3,299.4 L169.0,302.5 L169.7,299.8 L170.4,300.0 L171.1,301.5 L171.8,300.0 L172.5,300.6 L173.2,303.8 L173.9,301.9 L174.6,303.0 L175.3,305.5 L176.0,302.8 L176.7,302.8 L177.4,303.9 L178.1,305.3 L178.8,305.3 L179.5,307.5 L180.2,307.5 L180.9,310.6 L181.6,307.0 L182.4,310.6 L183.1,312.4 L183.8,309.7 L184.5,308.9 L185.2,311.3 L185.9,309.8 L186.6,311.6 L187.3,312.6 L188.0,309.9 L188.7,310.1 L189.4,312.5 L190.1,310.9 L190.8,311.1 L191.5,312.5 L192.2,311.2 L192.9,311.2 L193.6,313.0 L194.3,313.8 L195.0,316.4 L195.7,314.5 L196.4,312.4 L197.1,313.2 L197.8,315.5 L198.5,314.9 L199.2,316.6 L199.9,317.5 L200.6,317.4 L201.3,313.1 L202.0,317.9 L202.7,316.1 L203.4,315.0 L204.1,314.8 L204.9,318.1 L205.6,315.0 L206.3,314.9 L207.0,315.5 L207.7,318.8 L208.4,316.0 L209.1,317.0 L209.8,313.6 L210.5,315.1 L211.2,314.0 L211.9,313.9 L212.6,316.5 L213.3,315.3 L214.0,314.7 L214.7,319.9 L215.4,317.8 L216.1,317.2 L216.8,316.7 L217.5,320.9 L218.2,320.7 L218.9,318.5 L219.6,321.3 L220.3,323.2 L221.0,322.5 L221.7,321.2 L222.4,323.1 L223.1,323.8 L223.8,324.5 L224.5,322.1 L225.2,326.5 L225.9,327.6 L226.6,327.5 L227.3,328.7 L228.1,327.2 L228.8,330.3 L229.5,327.4 L230.2,328.0 L230.9,330.5 L231.6,332.2 L232.3,327.7 L233.0,328.6 L233.7,328.2 L234.4,330.2 L235.1,328.7 L235.8,329.3 L236.5,332.7 L237.2,332.7 L237.9,334.5 L238.6,331.9 L239.3,333.5 L240.0,330.2 L240.7,335.1 L241.4,331.2 L242.1,332.8 L242.8,333.3 L243.5,335.8 L244.2,333.6 L244.9,337.0 L245.6,335.4 L246.3,333.9 L247.0,337.2 L247.7,334.7 L248.4,339.7 L249.1,337.4 L249.8,336.4 L250.6,341.0 L251.3,337.9 L252.0,339.0 L252.7,338.8 L253.4,340.3 L254.1,337.6 L254.8,339.5 L255.5,337.9 L256.2,341.4 L256.9,336.8 L257.6,339.5 L258.3,337.5 L259.0,337.8 L259.7,338.2 L260.4,339.0 L261.1,335.5 L261.8,335.5 L262.5,334.6 L263.2,339.2 L263.9,335.2 L264.6,334.6 L265.3,336.8 L266.0,337.0 L266.7,338.7 L267.4,334.5 L268.1,335.4 L268.8,335.0 L269.5,337.4 L270.2,336.6 L270.9,337.2 L271.6,340.1 L272.3,339.1 L273.1,340.0 L273.8,340.8 L274.5,337.8 L275.2,341.1 L275.9,338.2 L276.6,336.4 L277.3,340.8 L278.0,336.5 L278.7,335.8 L279.4,337.0 L280.1,336.6 L280.8,339.2 L281.5,337.7 L282.2,335.0 L282.9,334.9 L283.6,336.0 L284.3,335.0 L285.0,334.2 L285.7,333.1 L286.4,331.3 L287.1,332.0 L287.8,334.3 L288.5,334.0 L289.2,334.9 L289.9,335.8 L290.6,336.7 L291.3,333.1 L292.0,332.9 L292.7,337.6 L293.4,336.5 L294.1,335.0 L294.8,337.5 L295.6,335.6 L296.3,335.9 L297.0,336.8 L297.7,338.3 L298.4,339.0 L299.1,336.6 L299.8,340.7 L300.5,340.0 L301.2,339.2 L301.9,340.3 L302.6,340.6 L303.3,336.6 L304.0,338.5 L304.7,339.4 L305.4,339.7 L306.1,339.3 L306.8,336.7 L307.5,340.5 L308.2,339.2 L308.9,336.3 L309.6,337.6 L310.3,340.5 L311.0,336.3 L311.7,337.0 L312.4,340.1 L313.1,339.8 L313.8,336.3 L314.5,339.0 L315.2,336.7 L315.9,338.6 L316.6,339.6 L317.3,336.7 L318.0,337.9 L318.8,338.2 L319.5,338.3 L320.2,337.8 L320.9,338.6 L321.6,340.1 L322.3,340.2 L322.3,369.3 L321.6,366.2 L320.9,370.6 L320.2,369.5 L319.5,365.2 L318.8,368.1 L318.0,366.2 L317.3,368.9 L316.6,365.1 L315.9,365.6 L315.2,367.4 L314.5,364.0 L313.8,367.6 L313.1,363.5 L312.4,367.4 L311.7,363.9 L311.0,364.5 L310.3,363.4 L309.6,368.0 L308.9,366.9 L308.2,368.6 L307.5,365.7 L306.8,363.9 L306.1,366.7 L305.4,365.6 L304.7,369.0 L304.0,366.4 L303.3,364.5 L302.6,364.1 L301.9,368.0 L301.2,367.6 L300.5,369.2 L299.8,368.5 L299.1,366.9 L298.4,366.6 L297.7,367.5 L297.0,363.3 L296.3,365.3 L295.6,363.3 L294.8,364.6 L294.1,361.0 L293.4,360.9 L292.7,365.5 L292.0,361.1 L291.3,364.1 L290.6,360.3 L289.9,361.7 L289.2,360.1 L288.5,361.8 L287.8,362.7 L287.1,361.0 L286.4,361.6 L285.7,363.5 L285.0,360.5 L284.3,362.5 L283.6,364.3 L282.9,362.8 L282.2,363.9 L281.5,362.6 L280.8,362.3 L280.1,363.3 L279.4,363.1 L278.7,364.8 L278.0,366.2 L277.3,365.6 L276.6,368.6 L275.9,366.8 L275.2,364.9 L274.5,369.1 L273.8,368.9 L273.1,365.7 L272.3,368.1 L271.6,364.3 L270.9,365.7 L270.2,366.0 L269.5,364.2 L268.8,363.0 L268.1,362.3 L267.4,363.1 L266.7,363.4 L266.0,361.9 L265.3,362.5 L264.6,363.9 L263.9,364.6 L263.2,365.5 L262.5,363.1 L261.8,366.9 L261.1,367.6 L260.4,367.1 L259.7,365.9 L259.0,365.1 L258.3,367.9 L257.6,367.7 L256.9,368.9 L256.2,369.4 L255.5,365.3 L254.8,366.8 L254.1,369.2 L253.4,367.5 L252.7,367.8 L252.0,367.9 L251.3,368.8 L250.6,366.3 L249.8,367.9 L249.1,363.7 L248.4,367.1 L247.7,363.4 L247.0,366.2 L246.3,364.0 L245.6,366.2 L244.9,361.5 L244.2,362.0 L243.5,361.9 L242.8,360.2 L242.1,359.3 L241.4,362.7 L240.7,358.8 L240.0,358.5 L239.3,362.1 L238.6,359.0 L237.9,360.7 L237.2,360.1 L236.5,358.6 L235.8,358.6 L235.1,356.2 L234.4,360.4 L233.7,359.9 L233.0,355.7 L232.3,357.4 L231.6,354.3 L230.9,358.0 L230.2,355.0 L229.5,355.3 L228.8,356.3 L228.1,352.9 L227.3,355.4 L226.6,354.0 L225.9,355.5 L225.2,349.6 L224.5,352.2 L223.8,348.8 L223.1,351.3 L222.4,347.8 L221.7,349.4 L221.0,351.1 L220.3,348.0 L219.6,350.2 L218.9,347.3 L218.2,348.5 L217.5,348.6 L216.8,346.9 L216.1,345.8 L215.4,348.7 L214.7,348.1 L214.0,347.6 L213.3,344.2 L212.6,343.0 L211.9,345.0 L211.2,342.6 L210.5,344.9 L209.8,343.4 L209.1,341.7 L208.4,345.0 L207.7,345.9 L207.0,343.3 L206.3,345.8 L205.6,344.2 L204.9,346.4 L204.1,342.1 L203.4,342.8 L202.7,341.8 L202.0,344.7 L201.3,340.9 L200.6,345.2 L199.9,342.7 L199.2,343.8 L198.5,345.3 L197.8,343.2 L197.1,344.7 L196.4,341.2 L195.7,344.3 L195.0,344.5 L194.3,339.5 L193.6,343.7 L192.9,340.2 L192.2,340.8 L191.5,343.0 L190.8,339.4 L190.1,341.6 L189.4,339.5 L188.7,341.9 L188.0,339.5 L187.3,340.9 L186.6,342.0 L185.9,340.6 L185.2,340.2 L184.5,339.9 L183.8,340.0 L183.1,336.1 L182.4,336.5 L181.6,335.9 L180.9,337.0 L180.2,338.0 L179.5,337.8 L178.8,337.2 L178.1,334.1 L177.4,334.9 L176.7,333.4 L176.0,333.7 L175.3,332.2 L174.6,334.1 L173.9,329.5 L173.2,331.5 L172.5,332.6 L171.8,332.5 L171.1,327.8 L170.4,330.9 L169.7,329.0 L169.0,327.8 L168.3,327.5 L167.6,330.2 L166.9,332.2 L166.2,332.3 L165.5,332.9 L164.8,330.4 L164.1,330.6 L163.4,332.2 L162.7,333.8 L162.0,331.9 L161.3,332.7 L160.6,334.1 L159.9,332.1 L159.1,330.0 L158.4,333.5 L157.7,332.7 L157.0,329.6 L156.3,333.1 L155.6,330.8 L154.9,329.4 L154.2,328.7 L153.5,327.9 L152.8,330.2 L152.1,331.4 L151.4,330.3 L150.7,325.9 L150.0,326.0 L149.3,326.3 L148.6,326.6 L147.9,329.1 L147.2,325.7 L146.5,328.4 L145.8,326.2 L145.1,325.8 L144.4,324.8 L143.7,325.5 L143.0,326.6 L142.3,330.7 L141.6,333.2 L140.9,331.3 L140.2,333.1 L139.5,333.3 L138.8,333.5 L138.1,338.3 L137.4,336.3 L136.6,337.3 L135.9,338.3 L135.2,333.9 L134.5,335.8 L133.8,338.7 L133.1,338.5 L132.4,336.2 L131.7,337.2 L131.0,339.8 L130.3,335.8 L129.6,340.1 L128.9,338.6 L128.2,341.2 L127.5,341.0 L126.8,340.8 L126.1,341.2 L125.4,339.5 L124.7,338.5 L124.0,339.5 L123.3,339.1 L122.6,342.7 L121.9,339.2 L121.2,340.6 L120.5,340.0 L119.8,343.7 L119.1,341.0 L118.4,344.8 L117.7,343.0 L117.0,342.7 L116.3,343.8 L115.6,346.2 L114.9,343.9 L114.2,344.6 L113.4,345.4 L112.7,345.4 L112.0,348.5 L111.3,348.1 L110.6,347.3 L109.9,347.5 L109.2,348.6 L108.5,349.8 L107.8,351.2 L107.1,349.8 L106.4,349.3 L105.7,352.5 L105.0,349.9 L104.3,351.2 L103.6,351.2 L102.9,351.0 L102.2,349.3 L101.5,353.4 L100.8,354.1 L100.1,350.2 L99.4,350.9 L98.7,352.0 L98.0,353.0 L97.3,355.9 L96.6,353.0 L95.9,354.8 L95.2,354.7 L94.5,356.0 L93.8,357.0 L93.1,355.0 L92.4,353.9 L91.7,358.5 L90.9,357.8 L90.2,357.8 L89.5,358.0 L88.8,356.9 L88.1,357.5 L87.4,357.8 L86.7,361.1 L86.0,359.9 L85.3,358.8 L84.6,360.6 L83.9,361.2 L83.2,357.1 L82.5,360.6 L81.8,362.6 L81.1,359.6 L80.4,361.3 L79.7,363.6 L79.0,362.5 L78.3,363.0 L77.6,362.8 L76.9,362.7 L76.2,365.5 L75.5,364.2 L74.8,360.4 L74.1,360.6 L73.4,360.9 L72.7,362.9 L72.0,361.2 L71.3,362.6 L70.6,365.2 L69.9,363.0 L69.2,365.7 L68.4,363.1 L67.7,363.7 L67.0,362.3 L66.3,364.5 L65.6,363.9 L64.9,363.6 L64.2,363.8 L63.5,364.7 L62.8,364.4 L62.1,365.0 L61.4,366.6 L60.7,365.5 L60.0,364.9 L59.3,364.9 L58.6,365.3 L57.9,368.6 L57.2,366.6 L56.5,370.6 L55.8,369.2 L55.1,368.6 L54.4,367.7 L53.7,371.0 L53.0,371.9 L52.3,368.5 L51.6,368.5 L50.9,370.4 L50.2,373.0 L49.5,368.1 L48.8,372.2Z" fill="#3e6db4" fill-opacity="0.24"/>
<path d="M48.8,356.6 L49.5,356.4 L50.2,355.7 L50.9,356.7 L51.6,356.5 L52.3,355.8 L53.0,355.8 L53.7,354.0 L54.4,354.0 L55.1,354.1 L55.8,354.6 L56.5,354.6 L57.2,353.2 L57.9,352.7 L58.6,352.9 L59.3,352.8 L60.0,353.3 L60.7,351.9 L61.4,353.0 L62.1,353.0 L62.8,353.0 L63.5,352.7 L64.2,352.1 L64.9,351.4 L65.6,351.2 L66.3,351.2 L67.0,351.5 L67.7,350.1 L68.4,350.1 L69.2,350.8 L69.9,349.3 L70.6,348.8 L71.3,348.3 L72.0,348.8 L72.7,348.3 L73.4,349.7 L74.1,349.7 L74.8,350.1 L75.5,349.0 L76.2,348.5 L76.9,348.3 L77.6,348.8 L78.3,349.1 L79.0,348.3 L79.7,347.7 L80.4,347.9 L81.1,347.9 L81.8,347.4 L82.5,347.2 L83.2,347.2 L83.9,346.5 L84.6,345.3 L85.3,346.4 L86.0,345.2 L86.7,345.4 L87.4,344.7 L88.1,344.9 L88.8,343.4 L89.5,343.1 L90.2,342.8 L90.9,342.1 L91.7,343.4 L92.4,342.5 L93.1,341.6 L93.8,341.4 L94.5,342.1 L95.2,340.9 L95.9,339.9 L96.6,340.5 L97.3,339.7 L98.0,340.2 L98.7,338.3 L99.4,338.6 L100.1,339.1 L100.8,339.0 L101.5,338.9 L102.2,336.8 L102.9,337.3 L103.6,336.7 L104.3,336.7 L105.0,337.7 L105.7,337.1 L106.4,337.4 L107.1,336.2 L107.8,336.7 L108.5,335.7 L109.2,334.6 L109.9,335.2 L110.6,334.9 L111.3,332.9 L112.0,333.3 L112.7,333.0 L113.4,331.7 L114.2,331.6 L114.9,330.6 L115.6,330.2 L116.3,329.9 L117.0,330.0 L117.7,330.0 L118.4,328.7 L119.1,327.9 L119.8,328.0 L120.5,328.5 L121.2,327.2 L121.9,327.2 L122.6,326.9 L123.3,327.6 L124.0,326.7 L124.7,325.5 L125.4,325.4 L126.1,325.6 L126.8,325.7 L127.5,325.5 L128.2,324.1 L128.9,323.7 L129.6,324.4 L130.3,323.6 L131.0,323.2 L131.7,323.0 L132.4,324.0 L133.1,322.7 L133.8,323.0 L134.5,322.3 L135.2,322.4 L135.9,323.2 L136.6,323.2 L137.4,321.8 L138.1,321.4 L138.8,322.3 L139.5,320.8 L140.2,319.6 L140.9,320.1 L141.6,317.9 L142.3,316.8 L143.0,314.3 L143.7,313.7 L144.4,311.9 L145.1,310.7 L145.8,310.5 L146.5,311.7 L147.2,312.2 L147.9,313.4 L148.6,312.3 L149.3,313.4 L150.0,313.5 L150.7,314.4 L151.4,314.1 L152.1,314.9 L152.8,315.6 L153.5,316.5 L154.2,315.0 L154.9,315.8 L155.6,316.6 L156.3,317.0 L157.0,315.8 L157.7,316.1 L158.4,318.0 L159.1,318.3 L159.9,317.9 L160.6,317.4 L161.3,318.9 L162.0,318.0 L162.7,318.8 L163.4,318.2 L164.1,318.5 L164.8,317.0 L165.5,317.8 L166.2,316.6 L166.9,316.4 L167.6,316.7 L168.3,316.5 L169.0,315.4 L169.7,315.5 L170.4,316.1 L171.1,316.9 L171.8,316.9 L172.5,316.7 L173.2,317.1 L173.9,318.1 L174.6,318.7 L175.3,317.4 L176.0,318.7 L176.7,319.6 L177.4,318.9 L178.1,320.9 L178.8,320.1 L179.5,321.5 L180.2,321.8 L180.9,322.4 L181.6,322.2 L182.4,323.1 L183.1,324.1 L183.8,324.2 L184.5,325.0 L185.2,325.1 L185.9,325.3 L186.6,324.7 L187.3,326.3 L188.0,326.1 L188.7,325.8 L189.4,326.9 L190.1,327.2 L190.8,326.9 L191.5,326.8 L192.2,327.4 L192.9,327.1 L193.6,327.3 L194.3,327.9 L195.0,327.5 L195.7,328.5 L196.4,328.8 L197.1,328.1 L197.8,329.1 L198.5,328.4 L199.2,329.6 L199.9,329.7 L200.6,329.3 L201.3,328.7 L202.0,329.3 L202.7,329.5 L203.4,330.5 L204.1,329.0 L204.9,330.2 L205.6,330.6 L206.3,329.8 L207.0,330.0 L207.7,329.0 L208.4,330.6 L209.1,329.7 L209.8,330.6 L210.5,330.5 L211.2,329.3 L211.9,330.5 L212.6,331.0 L213.3,329.6 L214.0,330.7 L214.7,331.7 L215.4,330.8 L216.1,332.4 L216.8,332.0 L217.5,333.4 L218.2,332.7 L218.9,333.9 L219.6,335.3 L220.3,334.3 L221.0,335.0 L221.7,335.9 L222.4,336.2 L223.1,336.4 L223.8,337.4 L224.5,337.8 L225.2,339.8 L225.9,339.9 L226.6,340.6 L227.3,339.9 L228.1,341.5 L228.8,341.1 L229.5,342.2 L230.2,342.9 L230.9,342.5 L231.6,343.8 L232.3,343.2 L233.0,343.4 L233.7,344.3 L234.4,343.2 L235.1,345.0 L235.8,344.7 L236.5,344.8 L237.2,345.8 L237.9,345.3 L238.6,347.1 L239.3,346.7 L240.0,346.8 L240.7,348.0 L241.4,347.6 L242.1,347.5 L242.8,349.1 L243.5,348.1 L244.2,349.6 L244.9,349.2 L245.6,350.2 L246.3,350.9 L247.0,350.2 L247.7,351.0 L248.4,350.6 L249.1,350.3 L249.8,350.6 L250.6,351.2 L251.3,352.0 L252.0,352.0 L252.7,352.4 L253.4,353.3 L254.1,352.5 L254.8,353.0 L255.5,353.6 L256.2,352.5 L256.9,352.5 L257.6,352.7 L258.3,351.9 L259.0,352.2 L259.7,351.6 L260.4,352.0 L261.1,351.5 L261.8,350.6 L262.5,351.1 L263.2,350.7 L263.9,350.0 L264.6,351.7 L265.3,350.4 L266.0,350.1 L266.7,349.8 L267.4,350.8 L268.1,351.2 L268.8,351.0 L269.5,350.6 L270.2,350.5 L270.9,350.4 L271.6,351.8 L272.3,352.1 L273.1,352.0 L273.8,352.6 L274.5,352.5 L275.2,353.3 L275.9,352.9 L276.6,351.8 L277.3,353.1 L278.0,351.2 L278.7,351.9 L279.4,351.5 L280.1,350.6 L280.8,349.7 L281.5,350.5 L282.2,348.5 L282.9,348.8 L283.6,349.2 L284.3,347.4 L285.0,347.1 L285.7,347.9 L286.4,347.5 L287.1,347.5 L287.8,347.7 L288.5,346.3 L289.2,346.5 L289.9,346.7 L290.6,346.6 L291.3,348.5 L292.0,349.0 L292.7,349.3 L293.4,348.6 L294.1,350.7 L294.8,350.8 L295.6,350.7 L296.3,351.4 L297.0,351.2 L297.7,351.0 L298.4,351.1 L299.1,351.7 L299.8,351.6 L300.5,352.3 L301.2,352.9 L301.9,353.0 L302.6,353.4 L303.3,353.2 L304.0,352.5 L304.7,353.1 L305.4,352.8 L306.1,353.2 L306.8,352.7 L307.5,352.2 L308.2,353.0 L308.9,353.4 L309.6,352.2 L310.3,353.4 L311.0,351.7 L311.7,351.7 L312.4,351.7 L313.1,352.2 L313.8,352.2 L314.5,351.9 L315.2,351.4 L315.9,352.6 L316.6,352.0 L317.3,352.4 L318.0,353.7 L318.8,353.5 L319.5,353.9 L320.2,354.1 L320.9,354.8 L321.6,354.0 L322.3,354.8" fill="none" stroke="#4568b0" stroke-width="3.0" stroke-linejoin="round"/>
<path d="M48.8,346.9 L49.5,348.0 L50.2,345.5 L50.9,345.0 L51.6,347.3 L52.3,346.0 L53.0,344.0 L53.7,339.9 L54.4,341.6 L55.1,337.3 L55.8,342.4 L56.5,342.4 L57.2,341.0 L57.9,338.5 L58.6,342.2 L59.3,338.3 L60.0,341.7 L60.7,339.1 L61.4,335.2 L62.1,339.1 L62.8,335.6 L63.5,336.4 L64.2,335.1 L64.9,333.4 L65.6,334.1 L66.3,330.2 L67.0,333.1 L67.7,328.9 L68.4,326.4 L69.2,327.2 L69.9,325.6 L70.6,326.1 L71.3,329.1 L72.0,326.5 L72.7,327.0 L73.4,328.7 L74.1,329.1 L74.8,333.2 L75.5,333.6 L76.2,333.4 L76.9,334.7 L77.6,331.3 L78.3,332.9 L79.0,329.9 L79.7,332.8 L80.4,331.3 L81.1,330.7 L81.8,326.7 L82.5,325.7 L83.2,329.5 L83.9,326.4 L84.6,325.8 L85.3,326.8 L86.0,322.2 L86.7,325.7 L87.4,324.5 L88.1,326.8 L88.8,325.5 L89.5,324.7 L90.2,329.2 L90.9,325.4 L91.7,328.4 L92.4,328.9 L93.1,325.4 L93.8,327.6 L94.5,325.7 L95.2,324.6 L95.9,324.2 L96.6,327.4 L97.3,323.6 L98.0,324.1 L98.7,323.3 L99.4,319.6 L100.1,322.7 L100.8,321.6 L101.5,321.1 L102.2,317.1 L102.9,315.6 L103.6,315.7 L104.3,317.6 L105.0,316.9 L105.7,315.0 L106.4,315.3 L107.1,312.8 L107.8,316.4 L108.5,314.0 L109.2,314.1 L109.9,315.0 L110.6,311.8 L111.3,314.7 L112.0,311.8 L112.7,314.3 L113.4,309.0 L114.2,308.7 L114.9,310.2 L115.6,308.2 L116.3,307.0 L117.0,307.9 L117.7,305.4 L118.4,306.4 L119.1,304.1 L119.8,308.7 L120.5,305.8 L121.2,308.8 L121.9,307.1 L122.6,306.9 L123.3,306.8 L124.0,303.5 L124.7,306.7 L125.4,303.3 L126.1,306.4 L126.8,306.0 L127.5,304.7 L128.2,305.0 L128.9,301.9 L129.6,302.5 L130.3,303.5 L131.0,298.6 L131.7,297.5 L132.4,299.3 L133.1,299.9 L133.8,298.1 L134.5,298.5 L135.2,302.2 L135.9,298.7 L136.6,296.7 L137.4,296.1 L138.1,297.7 L138.8,294.5 L139.5,295.5 L140.2,295.0 L140.9,293.9 L141.6,293.2 L142.3,293.8 L143.0,288.0 L143.7,292.8 L144.4,288.0 L145.1,286.6 L145.8,290.9 L146.5,290.6 L147.2,291.8 L147.9,290.6 L148.6,294.0 L149.3,292.2 L150.0,295.7 L150.7,293.3 L151.4,296.1 L152.1,297.1 L152.8,296.3 L153.5,297.8 L154.2,296.0 L154.9,299.8 L155.6,300.8 L156.3,298.3 L157.0,301.1 L157.7,302.5 L158.4,299.8 L159.1,305.0 L159.9,306.0 L160.6,302.5 L161.3,304.1 L162.0,303.8 L162.7,304.6 L163.4,303.4 L164.1,305.1 L164.8,303.3 L165.5,303.0 L166.2,303.4 L166.9,302.0 L167.6,304.3 L168.3,303.4 L169.0,299.5 L169.7,299.9 L170.4,297.9 L171.1,299.7 L171.8,299.3 L172.5,303.0 L173.2,304.4 L173.9,305.9 L174.6,301.9 L175.3,302.2 L176.0,306.8 L176.7,305.0 L177.4,308.6 L178.1,305.9 L178.8,306.3 L179.5,305.3 L180.2,310.4 L180.9,308.6 L181.6,309.0 L182.4,309.6 L183.1,311.9 L183.8,312.2 L184.5,310.2 L185.2,308.6 L185.9,309.9 L186.6,312.6 L187.3,309.5 L188.0,310.8 L188.7,310.7 L189.4,310.6 L190.1,311.1 L190.8,309.4 L191.5,311.1 L192.2,313.7 L192.9,309.3 L193.6,311.3 L194.3,314.2 L195.0,315.5 L195.7,310.8 L196.4,314.4 L197.1,314.3 L197.8,315.8 L198.5,313.5 L199.2,311.9 L199.9,313.3 L200.6,315.8 L201.3,316.2 L202.0,313.9 L202.7,317.1 L203.4,317.4 L204.1,317.8 L204.9,314.2 L205.6,316.1 L206.3,315.7 L207.0,316.9 L207.7,314.9 L208.4,313.2 L209.1,316.0 L209.8,313.6 L210.5,316.4 L211.2,313.6 L211.9,315.3 L212.6,317.6 L213.3,314.8 L214.0,318.9 L214.7,315.3 L215.4,321.3 L216.1,316.8 L216.8,321.1 L217.5,319.8 L218.2,319.4 L218.9,321.4 L219.6,323.1 L220.3,323.1 L221.0,321.8 L221.7,325.1 L222.4,324.2 L223.1,328.9 L223.8,326.3 L224.5,326.9 L225.2,326.6 L225.9,331.6 L226.6,328.1 L227.3,330.9 L228.1,332.4 L228.8,329.9 L229.5,332.3 L230.2,329.8 L230.9,329.3 L231.6,329.7 L232.3,332.5 L233.0,335.0 L233.7,331.4 L234.4,333.4 L235.1,336.2 L235.8,333.4 L236.5,332.8 L237.2,335.2 L237.9,334.8 L238.6,338.3 L239.3,337.8 L240.0,333.4 L240.7,335.4 L241.4,334.9 L242.1,332.1 L242.8,334.3 L243.5,336.1 L244.2,332.4 L244.9,333.6 L245.6,334.3 L246.3,330.6 L247.0,336.4 L247.7,332.6 L248.4,335.3 L249.1,338.5 L249.8,335.5 L250.6,337.9 L251.3,336.8 L252.0,339.4 L252.7,337.1 L253.4,338.2 L254.1,339.3 L254.8,339.3 L255.5,339.9 L256.2,340.7 L256.9,342.2 L257.6,340.3 L258.3,344.3 L259.0,341.7 L259.7,340.2 L260.4,340.0 L261.1,343.0 L261.8,338.3 L262.5,341.7 L263.2,337.9 L263.9,343.4 L264.6,340.3 L265.3,341.4 L266.0,343.9 L266.7,340.0 L267.4,340.3 L268.1,344.3 L268.8,344.0 L269.5,344.9 L270.2,342.2 L270.9,343.2 L271.6,341.6 L272.3,343.4 L273.1,342.4 L273.8,343.6 L274.5,342.0 L275.2,341.8 L275.9,343.5 L276.6,339.9 L277.3,343.8 L278.0,342.0 L278.7,340.7 L279.4,339.8 L280.1,342.5 L280.8,342.2 L281.5,343.9 L282.2,341.9 L282.9,342.3 L283.6,344.9 L284.3,342.0 L285.0,345.6 L285.7,345.8 L286.4,346.3 L287.1,345.7 L287.8,341.6 L288.5,344.3 L289.2,342.6 L289.9,340.3 L290.6,344.1 L291.3,341.3 L292.0,342.2 L292.7,340.4 L293.4,337.3 L294.1,341.7 L294.8,337.3 L295.6,337.5 L296.3,339.5 L297.0,336.7 L297.7,338.1 L298.4,339.9 L299.1,336.0 L299.8,339.1 L300.5,335.6 L301.2,337.4 L301.9,338.2 L302.6,338.1 L303.3,333.9 L304.0,334.9 L304.7,339.4 L305.4,336.5 L306.1,337.2 L306.8,337.0 L307.5,339.6 L308.2,340.4 L308.9,340.1 L309.6,339.1 L310.3,340.4 L311.0,340.3 L311.7,338.9 L312.4,342.9 L313.1,343.2 L313.8,342.1 L314.5,343.0 L315.2,339.8 L315.9,341.7 L316.6,337.9 L317.3,340.7 L318.0,339.9 L318.8,340.3 L319.5,339.3 L320.2,338.9 L320.9,335.0 L321.6,337.8 L322.3,335.4 L322.3,368.8 L321.6,371.6 L320.9,369.8 L320.2,370.1 L319.5,372.8 L318.8,375.1 L318.0,376.3 L317.3,375.7 L316.6,374.5 L315.9,377.5 L315.2,375.7 L314.5,379.9 L313.8,379.7 L313.1,376.3 L312.4,378.9 L311.7,375.6 L311.0,379.2 L310.3,377.3 L309.6,376.1 L308.9,377.6 L308.2,375.6 L307.5,374.2 L306.8,373.2 L306.1,376.4 L305.4,377.5 L304.7,373.5 L304.0,374.0 L303.3,375.3 L302.6,373.1 L301.9,375.8 L301.2,377.1 L300.5,376.5 L299.8,374.2 L299.1,375.2 L298.4,376.2 L297.7,371.5 L297.0,376.0 L296.3,372.8 L295.6,373.4 L294.8,375.4 L294.1,377.3 L293.4,378.6 L292.7,377.2 L292.0,374.6 L291.3,378.7 L290.6,379.5 L289.9,379.2 L289.2,376.7 L288.5,378.4 L287.8,379.2 L287.1,381.4 L286.4,381.2 L285.7,378.4 L285.0,378.2 L284.3,381.4 L283.6,380.7 L282.9,375.2 L282.2,376.8 L281.5,377.5 L280.8,376.7 L280.1,380.5 L279.4,379.6 L278.7,375.5 L278.0,377.6 L277.3,378.4 L276.6,379.9 L275.9,378.6 L275.2,378.8 L274.5,381.2 L273.8,377.3 L273.1,377.1 L272.3,381.9 L271.6,378.3 L270.9,379.2 L270.2,378.6 L269.5,378.6 L268.8,379.1 L268.1,378.5 L267.4,378.3 L266.7,378.0 L266.0,375.3 L265.3,377.3 L264.6,378.1 L263.9,376.7 L263.2,376.6 L262.5,376.7 L261.8,376.7 L261.1,378.9 L260.4,377.6 L259.7,377.7 L259.0,379.9 L258.3,379.7 L257.6,381.1 L256.9,381.5 L256.2,377.7 L255.5,378.0 L254.8,377.2 L254.1,381.5 L253.4,380.6 L252.7,380.4 L252.0,377.5 L251.3,376.3 L250.6,379.6 L249.8,378.1 L249.1,377.4 L248.4,374.3 L247.7,376.3 L247.0,372.7 L246.3,375.0 L245.6,374.5 L244.9,374.4 L244.2,375.7 L243.5,374.6 L242.8,378.0 L242.1,374.2 L241.4,377.1 L240.7,376.0 L240.0,377.6 L239.3,378.1 L238.6,375.9 L237.9,377.1 L237.2,381.4 L236.5,378.9 L235.8,379.3 L235.1,381.3 L234.4,379.6 L233.7,380.0 L233.0,378.4 L232.3,376.7 L231.6,376.3 L230.9,376.6 L230.2,378.4 L229.5,373.4 L228.8,376.6 L228.1,374.2 L227.3,371.5 L226.6,372.3 L225.9,371.1 L225.2,371.6 L224.5,367.4 L223.8,371.2 L223.1,371.1 L222.4,371.0 L221.7,365.7 L221.0,369.9 L220.3,363.6 L219.6,364.8 L218.9,361.1 L218.2,365.7 L217.5,361.8 L216.8,358.8 L216.1,361.1 L215.4,361.1 L214.7,361.8 L214.0,356.9 L213.3,356.4 L212.6,358.6 L211.9,360.1 L211.2,354.3 L210.5,353.7 L209.8,354.6 L209.1,358.6 L208.4,353.5 L207.7,355.2 L207.0,358.4 L206.3,357.8 L205.6,356.7 L204.9,359.6 L204.1,354.1 L203.4,357.6 L202.7,358.1 L202.0,357.3 L201.3,352.7 L200.6,357.6 L199.9,357.1 L199.2,356.7 L198.5,353.2 L197.8,353.8 L197.1,354.1 L196.4,349.2 L195.7,351.3 L195.0,348.4 L194.3,351.5 L193.6,349.7 L192.9,352.6 L192.2,350.4 L191.5,352.1 L190.8,349.4 L190.1,351.9 L189.4,346.5 L188.7,350.3 L188.0,348.1 L187.3,349.9 L186.6,348.0 L185.9,350.1 L185.2,350.3 L184.5,346.5 L183.8,351.2 L183.1,345.8 L182.4,348.3 L181.6,349.1 L180.9,348.9 L180.2,349.1 L179.5,344.0 L178.8,348.5 L178.1,346.3 L177.4,344.3 L176.7,347.5 L176.0,347.2 L175.3,343.1 L174.6,346.4 L173.9,342.6 L173.2,341.3 L172.5,343.5 L171.8,340.0 L171.1,341.3 L170.4,338.0 L169.7,337.5 L169.0,341.6 L168.3,340.7 L167.6,338.2 L166.9,343.1 L166.2,340.0 L165.5,342.4 L164.8,340.4 L164.1,341.3 L163.4,342.9 L162.7,342.0 L162.0,345.8 L161.3,341.9 L160.6,346.1 L159.9,342.3 L159.1,342.3 L158.4,339.2 L157.7,340.7 L157.0,338.7 L156.3,337.1 L155.6,339.2 L154.9,337.1 L154.2,334.8 L153.5,336.6 L152.8,332.7 L152.1,337.3 L151.4,337.4 L150.7,331.8 L150.0,333.4 L149.3,334.5 L148.6,329.2 L147.9,329.4 L147.2,329.3 L146.5,328.7 L145.8,329.4 L145.1,330.2 L144.4,326.7 L143.7,329.4 L143.0,330.5 L142.3,330.4 L141.6,330.1 L140.9,332.2 L140.2,334.1 L139.5,333.4 L138.8,333.5 L138.1,333.9 L137.4,335.8 L136.6,334.9 L135.9,335.6 L135.2,336.3 L134.5,340.2 L133.8,335.6 L133.1,337.3 L132.4,340.1 L131.7,336.3 L131.0,341.6 L130.3,339.1 L129.6,338.5 L128.9,340.1 L128.2,340.7 L127.5,339.7 L126.8,345.3 L126.1,345.8 L125.4,342.1 L124.7,343.7 L124.0,344.9 L123.3,345.2 L122.6,342.8 L121.9,346.7 L121.2,346.7 L120.5,343.3 L119.8,345.0 L119.1,343.9 L118.4,343.5 L117.7,344.0 L117.0,347.7 L116.3,344.4 L115.6,348.3 L114.9,346.2 L114.2,348.4 L113.4,349.8 L112.7,348.3 L112.0,347.7 L111.3,349.7 L110.6,350.7 L109.9,350.3 L109.2,353.7 L108.5,353.2 L107.8,353.2 L107.1,351.8 L106.4,354.6 L105.7,355.1 L105.0,353.3 L104.3,355.2 L103.6,356.5 L102.9,357.1 L102.2,354.8 L101.5,354.0 L100.8,357.6 L100.1,357.7 L99.4,361.2 L98.7,358.0 L98.0,361.1 L97.3,364.1 L96.6,363.9 L95.9,365.6 L95.2,362.3 L94.5,363.1 L93.8,365.7 L93.1,363.5 L92.4,364.2 L91.7,361.1 L90.9,366.1 L90.2,361.4 L89.5,367.0 L88.8,363.4 L88.1,366.3 L87.4,364.7 L86.7,363.0 L86.0,364.0 L85.3,362.0 L84.6,364.5 L83.9,362.7 L83.2,365.5 L82.5,363.5 L81.8,364.8 L81.1,367.4 L80.4,368.2 L79.7,369.7 L79.0,367.9 L78.3,365.9 L77.6,370.6 L76.9,367.0 L76.2,367.8 L75.5,366.4 L74.8,368.9 L74.1,368.5 L73.4,369.0 L72.7,370.5 L72.0,365.6 L71.3,367.7 L70.6,366.4 L69.9,368.3 L69.2,367.8 L68.4,370.0 L67.7,368.2 L67.0,371.6 L66.3,371.0 L65.6,373.9 L64.9,370.8 L64.2,371.8 L63.5,372.8 L62.8,374.9 L62.1,374.4 L61.4,376.8 L60.7,378.1 L60.0,374.4 L59.3,377.2 L58.6,375.0 L57.9,376.1 L57.2,378.5 L56.5,378.0 L55.8,376.0 L55.1,377.9 L54.4,381.8 L53.7,382.4 L53.0,380.0 L52.3,382.9 L51.6,383.7 L50.9,380.5 L50.2,381.1 L49.5,384.1 L48.8,384.8Z" fill="#a5237d" fill-opacity="0.23"/>
<path d="M48.8,365.0 L49.5,363.8 L50.2,364.5 L50.9,363.7 L51.6,363.7 L52.3,362.0 L53.0,361.7 L53.7,360.7 L54.4,361.4 L55.1,361.4 L55.8,360.4 L56.5,359.4 L57.2,360.3 L57.9,360.1 L58.6,359.5 L59.3,359.0 L60.0,358.8 L60.7,358.2 L61.4,357.1 L62.1,356.4 L62.8,355.8 L63.5,355.5 L64.2,353.2 L64.9,353.4 L65.6,351.8 L66.3,351.2 L67.0,351.2 L67.7,349.8 L68.4,349.7 L69.2,348.5 L69.9,347.2 L70.6,348.0 L71.3,348.6 L72.0,349.3 L72.7,349.5 L73.4,348.8 L74.1,348.9 L74.8,348.6 L75.5,349.7 L76.2,349.0 L76.9,349.4 L77.6,349.2 L78.3,349.1 L79.0,350.2 L79.7,348.8 L80.4,349.7 L81.1,347.5 L81.8,348.0 L82.5,346.0 L83.2,345.0 L83.9,345.6 L84.6,343.9 L85.3,344.5 L86.0,343.3 L86.7,343.0 L87.4,344.2 L88.1,344.4 L88.8,344.8 L89.5,344.8 L90.2,343.8 L90.9,345.0 L91.7,345.4 L92.4,345.1 L93.1,346.1 L93.8,345.1 L94.5,346.3 L95.2,345.4 L95.9,343.7 L96.6,342.8 L97.3,342.9 L98.0,342.2 L98.7,339.9 L99.4,339.5 L100.1,339.3 L100.8,337.5 L101.5,338.0 L102.2,336.5 L102.9,335.2 L103.6,335.3 L104.3,335.3 L105.0,334.8 L105.7,335.1 L106.4,333.7 L107.1,334.4 L107.8,333.2 L108.5,333.4 L109.2,333.0 L109.9,332.4 L110.6,331.8 L111.3,331.9 L112.0,331.6 L112.7,330.7 L113.4,329.6 L114.2,328.6 L114.9,327.5 L115.6,328.7 L116.3,327.9 L117.0,327.6 L117.7,326.3 L118.4,326.5 L119.1,326.8 L119.8,326.3 L120.5,325.7 L121.2,325.1 L121.9,325.2 L122.6,325.8 L123.3,324.7 L124.0,325.0 L124.7,324.2 L125.4,324.4 L126.1,323.9 L126.8,322.5 L127.5,321.4 L128.2,321.5 L128.9,321.5 L129.6,321.5 L130.3,321.3 L131.0,321.0 L131.7,319.2 L132.4,320.1 L133.1,319.6 L133.8,319.6 L134.5,318.8 L135.2,317.9 L135.9,318.6 L136.6,318.2 L137.4,317.6 L138.1,317.5 L138.8,316.1 L139.5,315.1 L140.2,315.2 L140.9,314.5 L141.6,312.5 L142.3,312.1 L143.0,311.2 L143.7,308.8 L144.4,309.0 L145.1,308.8 L145.8,308.7 L146.5,308.6 L147.2,309.5 L147.9,311.2 L148.6,311.8 L149.3,311.9 L150.0,311.9 L150.7,313.8 L151.4,314.4 L152.1,314.0 L152.8,315.4 L153.5,316.7 L154.2,317.4 L154.9,317.3 L155.6,318.2 L156.3,319.2 L157.0,319.2 L157.7,319.9 L158.4,320.6 L159.1,322.0 L159.9,321.9 L160.6,323.0 L161.3,323.3 L162.0,323.9 L162.7,323.5 L163.4,323.3 L164.1,324.7 L164.8,323.1 L165.5,322.3 L166.2,322.5 L166.9,322.2 L167.6,320.6 L168.3,320.5 L169.0,319.2 L169.7,319.3 L170.4,318.4 L171.1,318.6 L171.8,321.1 L172.5,321.8 L173.2,322.1 L173.9,323.0 L174.6,323.0 L175.3,324.6 L176.0,324.5 L176.7,325.7 L177.4,325.9 L178.1,326.4 L178.8,327.2 L179.5,326.5 L180.2,326.6 L180.9,327.1 L181.6,327.4 L182.4,327.3 L183.1,327.4 L183.8,328.5 L184.5,329.4 L185.2,329.0 L185.9,330.0 L186.6,330.0 L187.3,328.7 L188.0,329.8 L188.7,329.3 L189.4,328.9 L190.1,330.7 L190.8,329.5 L191.5,330.0 L192.2,330.6 L192.9,331.6 L193.6,331.4 L194.3,331.2 L195.0,331.8 L195.7,331.6 L196.4,333.4 L197.1,333.9 L197.8,333.2 L198.5,333.0 L199.2,333.6 L199.9,333.9 L200.6,335.1 L201.3,335.3 L202.0,335.5 L202.7,334.4 L203.4,336.1 L204.1,336.0 L204.9,335.8 L205.6,336.5 L206.3,334.6 L207.0,334.2 L207.7,334.9 L208.4,335.0 L209.1,334.0 L209.8,333.1 L210.5,333.6 L211.2,334.0 L211.9,333.2 L212.6,334.1 L213.3,334.5 L214.0,334.9 L214.7,336.1 L215.4,336.0 L216.1,336.6 L216.8,337.1 L217.5,338.9 L218.2,338.6 L218.9,340.8 L219.6,340.8 L220.3,341.2 L221.0,343.5 L221.7,343.0 L222.4,345.0 L223.1,345.5 L223.8,346.2 L224.5,345.6 L225.2,346.7 L225.9,346.7 L226.6,348.9 L227.3,349.2 L228.1,349.1 L228.8,349.3 L229.5,349.4 L230.2,350.7 L230.9,350.7 L231.6,351.5 L232.3,350.9 L233.0,351.5 L233.7,351.7 L234.4,353.4 L235.1,353.6 L235.8,353.4 L236.5,355.3 L237.2,354.2 L237.9,354.8 L238.6,354.5 L239.3,354.9 L240.0,355.7 L240.7,354.8 L241.4,354.0 L242.1,354.0 L242.8,353.3 L243.5,354.1 L244.2,352.2 L244.9,353.5 L245.6,352.0 L246.3,353.5 L247.0,353.5 L247.7,353.7 L248.4,355.2 L249.1,355.9 L249.8,356.7 L250.6,357.3 L251.3,358.1 L252.0,359.8 L252.7,360.1 L253.4,360.8 L254.1,359.9 L254.8,360.8 L255.5,362.1 L256.2,360.7 L256.9,361.6 L257.6,360.4 L258.3,361.3 L259.0,359.3 L259.7,360.5 L260.4,359.2 L261.1,358.7 L261.8,358.2 L262.5,359.8 L263.2,359.3 L263.9,359.0 L264.6,359.9 L265.3,361.1 L266.0,360.2 L266.7,361.2 L267.4,360.8 L268.1,360.8 L268.8,361.9 L269.5,362.0 L270.2,361.1 L270.9,360.9 L271.6,361.0 L272.3,362.0 L273.1,361.6 L273.8,361.4 L274.5,361.1 L275.2,361.6 L275.9,361.8 L276.6,362.0 L277.3,361.1 L278.0,360.2 L278.7,359.8 L279.4,360.7 L280.1,360.1 L280.8,360.7 L281.5,359.8 L282.2,361.2 L282.9,360.6 L283.6,361.5 L284.3,361.8 L285.0,361.3 L285.7,360.5 L286.4,362.4 L287.1,361.5 L287.8,362.1 L288.5,360.6 L289.2,360.2 L289.9,360.8 L290.6,359.7 L291.3,358.9 L292.0,359.0 L292.7,359.1 L293.4,357.8 L294.1,358.4 L294.8,358.1 L295.6,358.0 L296.3,357.1 L297.0,357.9 L297.7,357.8 L298.4,357.5 L299.1,356.2 L299.8,356.8 L300.5,356.1 L301.2,356.8 L301.9,355.4 L302.6,356.9 L303.3,356.8 L304.0,355.9 L304.7,355.8 L305.4,356.0 L306.1,356.2 L306.8,355.6 L307.5,357.6 L308.2,356.9 L308.9,357.4 L309.6,357.7 L310.3,358.7 L311.0,360.2 L311.7,359.0 L312.4,359.4 L313.1,360.4 L313.8,359.1 L314.5,358.4 L315.2,359.3 L315.9,359.1 L316.6,358.8 L317.3,358.8 L318.0,357.4 L318.8,358.1 L319.5,356.9 L320.2,355.0 L320.9,354.3 L321.6,354.5 L322.3,354.1" fill="none" stroke="#a3237f" stroke-width="3.0" stroke-linejoin="round"/>
</g>
<line x1="143.9" y1="235.4" x2="143.9" y2="389.4" stroke="#444" stroke-width="1"/>
<line x1="242.5" y1="235.4" x2="242.5" y2="389.4" stroke="#444" stroke-width="1"/>
<line x1="46.0" y1="235.4" x2="326.5" y2="235.4" stroke="#333" stroke-width="1"/>
<line x1="326.5" y1="235.4" x2="326.5" y2="389.4" stroke="#222" stroke-width="1"/>
<line x1="45.5" y1="389.4" x2="326.5" y2="389.4" stroke="#000" stroke-width="1.2"/>
<line x1="46.0" y1="234.9" x2="46.0" y2="389.9" stroke="#000" stroke-width="1.8"/>
<line x1="41.5" y1="389.4" x2="46.0" y2="389.4" stroke="#000" stroke-width="1.1"/>
<line x1="41.5" y1="358.6" x2="46.0" y2="358.6" stroke="#000" stroke-width="1.1"/>
<line x1="41.5" y1="327.8" x2="46.0" y2="327.8" stroke="#000" stroke-width="1.1"/>
<line x1="41.5" y1="297.0" x2="46.0" y2="297.0" stroke="#000" stroke-width="1.1"/>
<line x1="41.5" y1="266.2" x2="46.0" y2="266.2" stroke="#000" stroke-width="1.1"/>
<line x1="41.5" y1="235.4" x2="46.0" y2="235.4" stroke="#000" stroke-width="1.1"/>
<line x1="46.0" y1="389.4" x2="46.0" y2="393.6" stroke="#000" stroke-width="1.1"/>
<line x1="143.7" y1="389.4" x2="143.7" y2="393.6" stroke="#000" stroke-width="1.1"/>
<line x1="242.1" y1="389.4" x2="242.1" y2="393.6" stroke="#000" stroke-width="1.1"/>
<line x1="326.5" y1="389.4" x2="326.5" y2="393.6" stroke="#000" stroke-width="1.1"/>
<line x1="59.3" y1="389.4" x2="59.3" y2="393.6" stroke="#000" stroke-width="1.1"/>
<line x1="73.4" y1="389.4" x2="73.4" y2="393.6" stroke="#000" stroke-width="1.1"/>
<line x1="87.4" y1="389.4" x2="87.4" y2="393.6" stroke="#000" stroke-width="1.1"/>
<line x1="101.5" y1="389.4" x2="101.5" y2="393.6" stroke="#000" stroke-width="1.1"/>
<line x1="115.6" y1="389.4" x2="115.6" y2="393.6" stroke="#000" stroke-width="1.1"/>
<line x1="129.6" y1="389.4" x2="129.6" y2="393.6" stroke="#000" stroke-width="1.1"/>
<line x1="143.7" y1="389.4" x2="143.7" y2="393.6" stroke="#000" stroke-width="1.1"/>
<line x1="157.7" y1="389.4" x2="157.7" y2="393.6" stroke="#000" stroke-width="1.1"/>
<line x1="171.8" y1="389.4" x2="171.8" y2="393.6" stroke="#000" stroke-width="1.1"/>
<line x1="185.9" y1="389.4" x2="185.9" y2="393.6" stroke="#000" stroke-width="1.1"/>
<line x1="199.9" y1="389.4" x2="199.9" y2="393.6" stroke="#000" stroke-width="1.1"/>
<line x1="214.0" y1="389.4" x2="214.0" y2="393.6" stroke="#000" stroke-width="1.1"/>
<line x1="228.1" y1="389.4" x2="228.1" y2="393.6" stroke="#000" stroke-width="1.1"/>
<line x1="242.1" y1="389.4" x2="242.1" y2="393.6" stroke="#000" stroke-width="1.1"/>
<line x1="256.2" y1="389.4" x2="256.2" y2="393.6" stroke="#000" stroke-width="1.1"/>
<line x1="270.2" y1="389.4" x2="270.2" y2="393.6" stroke="#000" stroke-width="1.1"/>
<line x1="284.3" y1="389.4" x2="284.3" y2="393.6" stroke="#000" stroke-width="1.1"/>
<line x1="298.4" y1="389.4" x2="298.4" y2="393.6" stroke="#000" stroke-width="1.1"/>
<line x1="312.4" y1="389.4" x2="312.4" y2="393.6" stroke="#000" stroke-width="1.1"/>
<defs><clipPath id="cc"><rect x="387.1" y="235.4" width="281.2" height="154.0"/></clipPath></defs>
<g clip-path="url(#cc)">
<path d="M389.9,331.6 L390.6,330.9 L391.3,330.5 L392.0,333.4 L392.7,330.0 L393.4,334.1 L394.1,331.2 L394.9,334.3 L395.6,331.9 L396.3,329.0 L397.0,326.5 L397.7,327.0 L398.4,327.9 L399.1,328.9 L399.8,328.2 L400.5,323.8 L401.2,321.7 L401.9,324.9 L402.6,324.9 L403.3,323.6 L404.0,323.9 L404.7,323.3 L405.4,321.7 L406.1,322.6 L406.8,318.0 L407.5,322.9 L408.2,320.9 L408.9,317.5 L409.7,318.4 L410.4,321.6 L411.1,319.0 L411.8,323.2 L412.5,319.1 L413.2,321.5 L413.9,321.2 L414.6,324.1 L415.3,320.2 L416.0,324.7 L416.7,323.9 L417.4,323.7 L418.1,326.2 L418.8,326.8 L419.5,325.8 L420.2,324.2 L420.9,320.4 L421.6,321.2 L422.3,323.0 L423.0,318.4 L423.7,321.1 L424.5,318.7 L425.2,318.8 L425.9,321.6 L426.6,321.6 L427.3,320.3 L428.0,318.3 L428.7,318.6 L429.4,321.5 L430.1,320.7 L430.8,318.1 L431.5,314.4 L432.2,319.9 L432.9,313.9 L433.6,313.8 L434.3,317.0 L435.0,313.4 L435.7,317.0 L436.4,316.3 L437.1,312.9 L437.8,317.2 L438.6,317.5 L439.3,315.3 L440.0,317.2 L440.7,315.6 L441.4,313.0 L442.1,314.9 L442.8,315.5 L443.5,313.2 L444.2,308.8 L444.9,310.4 L445.6,312.2 L446.3,309.5 L447.0,308.0 L447.7,309.4 L448.4,307.8 L449.1,309.7 L449.8,307.6 L450.5,311.0 L451.2,307.6 L451.9,311.7 L452.6,306.6 L453.4,309.5 L454.1,309.0 L454.8,305.9 L455.5,308.6 L456.2,307.6 L456.9,308.1 L457.6,304.6 L458.3,306.4 L459.0,308.4 L459.7,306.7 L460.4,303.9 L461.1,304.0 L461.8,307.2 L462.5,301.7 L463.2,303.9 L463.9,303.8 L464.6,302.9 L465.3,300.5 L466.0,301.4 L466.7,305.6 L467.4,302.6 L468.2,301.2 L468.9,301.5 L469.6,298.2 L470.3,297.3 L471.0,301.5 L471.7,301.2 L472.4,297.9 L473.1,299.0 L473.8,298.3 L474.5,300.2 L475.2,301.8 L475.9,303.7 L476.6,302.4 L477.3,304.9 L478.0,305.6 L478.7,302.6 L479.4,299.3 L480.1,299.8 L480.8,302.4 L481.5,298.6 L482.2,303.2 L483.0,297.6 L483.7,297.5 L484.4,302.7 L485.1,298.0 L485.8,298.5 L486.5,297.5 L487.2,293.2 L487.9,293.6 L488.6,292.2 L489.3,294.2 L490.0,293.6 L490.7,291.9 L491.4,288.0 L492.1,288.7 L492.8,290.8 L493.5,285.1 L494.2,285.0 L494.9,286.3 L495.6,288.1 L496.3,281.2 L497.0,285.5 L497.8,283.6 L498.5,283.3 L499.2,284.4 L499.9,278.9 L500.6,282.1 L501.3,279.7 L502.0,282.3 L502.7,281.9 L503.4,280.3 L504.1,278.8 L504.8,282.8 L505.5,281.8 L506.2,280.8 L506.9,281.9 L507.6,282.6 L508.3,277.7 L509.0,280.8 L509.7,282.0 L510.4,279.0 L511.1,282.9 L511.8,278.8 L512.6,282.9 L513.3,280.9 L514.0,283.2 L514.7,282.1 L515.4,281.4 L516.1,278.7 L516.8,279.1 L517.5,280.4 L518.2,281.1 L518.9,278.5 L519.6,281.6 L520.3,276.5 L521.0,278.6 L521.7,275.9 L522.4,275.7 L523.1,276.5 L523.8,274.9 L524.5,278.1 L525.2,278.5 L525.9,276.7 L526.7,278.8 L527.4,276.6 L528.1,277.1 L528.8,272.4 L529.5,274.0 L530.2,271.6 L530.9,272.4 L531.6,277.2 L532.3,272.1 L533.0,274.7 L533.7,273.7 L534.4,274.9 L535.1,276.5 L535.8,276.3 L536.5,277.6 L537.2,278.5 L537.9,275.3 L538.6,279.0 L539.3,278.1 L540.0,275.2 L540.7,275.8 L541.5,277.1 L542.2,279.7 L542.9,275.5 L543.6,281.1 L544.3,280.3 L545.0,279.9 L545.7,279.2 L546.4,279.1 L547.1,279.6 L547.8,282.1 L548.5,280.6 L549.2,282.4 L549.9,283.2 L550.6,278.1 L551.3,278.2 L552.0,283.6 L552.7,278.6 L553.4,282.4 L554.1,279.9 L554.8,278.9 L555.5,277.5 L556.3,280.1 L557.0,281.1 L557.7,277.6 L558.4,277.6 L559.1,279.0 L559.8,282.9 L560.5,282.1 L561.2,278.9 L561.9,279.9 L562.6,279.2 L563.3,280.6 L564.0,277.8 L564.7,277.9 L565.4,278.6 L566.1,276.4 L566.8,277.4 L567.5,279.8 L568.2,278.3 L568.9,275.7 L569.6,278.4 L570.3,280.2 L571.1,278.7 L571.8,280.3 L572.5,282.5 L573.2,282.4 L573.9,282.2 L574.6,287.5 L575.3,283.0 L576.0,289.2 L576.7,285.0 L577.4,288.1 L578.1,288.7 L578.8,288.3 L579.5,290.2 L580.2,292.4 L580.9,289.4 L581.6,288.5 L582.3,290.0 L583.0,295.1 L583.7,294.0 L584.4,295.2 L585.1,293.4 L585.9,292.9 L586.6,295.5 L587.3,295.0 L588.0,297.2 L588.7,292.7 L589.4,294.1 L590.1,297.3 L590.8,299.4 L591.5,297.3 L592.2,300.1 L592.9,296.4 L593.6,300.0 L594.3,298.6 L595.0,301.7 L595.7,299.5 L596.4,298.9 L597.1,300.3 L597.8,303.5 L598.5,304.0 L599.2,305.7 L599.9,302.4 L600.7,300.8 L601.4,306.4 L602.1,303.0 L602.8,306.8 L603.5,305.3 L604.2,305.3 L604.9,302.6 L605.6,304.0 L606.3,307.4 L607.0,305.5 L607.7,308.3 L608.4,308.2 L609.1,307.1 L609.8,310.6 L610.5,304.0 L611.2,307.0 L611.9,307.8 L612.6,304.9 L613.3,310.8 L614.0,306.1 L614.8,309.0 L615.5,307.2 L616.2,307.4 L616.9,308.5 L617.6,307.1 L618.3,306.3 L619.0,309.6 L619.7,309.3 L620.4,305.8 L621.1,312.2 L621.8,306.5 L622.5,307.2 L623.2,307.9 L623.9,308.4 L624.6,309.3 L625.3,312.1 L626.0,306.8 L626.7,310.3 L627.4,310.7 L628.1,308.5 L628.8,309.7 L629.6,311.0 L630.3,314.2 L631.0,313.5 L631.7,311.2 L632.4,308.8 L633.1,310.8 L633.8,313.6 L634.5,311.3 L635.2,311.5 L635.9,313.7 L636.6,309.9 L637.3,314.1 L638.0,314.4 L638.7,310.7 L639.4,312.1 L640.1,314.3 L640.8,310.2 L641.5,312.3 L642.2,310.9 L642.9,311.8 L643.6,311.0 L644.4,310.7 L645.1,315.2 L645.8,314.0 L646.5,315.9 L647.2,311.6 L647.9,312.8 L648.6,312.1 L649.3,315.5 L650.0,312.5 L650.7,314.5 L651.4,311.4 L652.1,314.2 L652.8,312.9 L653.5,317.9 L654.2,314.8 L654.9,318.8 L655.6,316.3 L656.3,315.3 L657.0,317.2 L657.7,319.6 L658.4,318.1 L659.2,319.4 L659.9,317.5 L660.6,318.1 L661.3,315.2 L662.0,319.6 L662.7,318.5 L663.4,318.4 L664.1,315.8 L664.1,349.0 L663.4,350.1 L662.7,351.3 L662.0,351.7 L661.3,351.1 L660.6,352.4 L659.9,352.4 L659.2,349.0 L658.4,347.6 L657.7,351.0 L657.0,350.2 L656.3,348.1 L655.6,351.9 L654.9,351.7 L654.2,349.3 L653.5,347.2 L652.8,351.3 L652.1,351.7 L651.4,350.6 L650.7,350.8 L650.0,346.4 L649.3,345.8 L648.6,348.3 L647.9,346.1 L647.2,345.6 L646.5,345.0 L645.8,344.1 L645.1,347.3 L644.4,346.4 L643.6,348.2 L642.9,348.5 L642.2,347.2 L641.5,349.2 L640.8,351.0 L640.1,350.1 L639.4,344.9 L638.7,345.1 L638.0,344.8 L637.3,344.4 L636.6,347.0 L635.9,344.8 L635.2,344.6 L634.5,348.1 L633.8,348.8 L633.1,345.5 L632.4,348.7 L631.7,347.5 L631.0,345.6 L630.3,347.7 L629.6,348.3 L628.8,348.2 L628.1,348.1 L627.4,343.9 L626.7,343.9 L626.0,344.9 L625.3,344.0 L624.6,347.6 L623.9,346.4 L623.2,347.3 L622.5,342.9 L621.8,344.9 L621.1,342.3 L620.4,347.3 L619.7,344.2 L619.0,342.8 L618.3,345.4 L617.6,346.7 L616.9,341.2 L616.2,342.1 L615.5,342.7 L614.8,344.2 L614.0,342.5 L613.3,340.6 L612.6,344.0 L611.9,345.6 L611.2,345.3 L610.5,344.8 L609.8,345.7 L609.1,343.1 L608.4,339.5 L607.7,340.8 L607.0,342.4 L606.3,344.2 L605.6,337.7 L604.9,340.2 L604.2,339.9 L603.5,338.7 L602.8,337.3 L602.1,341.1 L601.4,342.4 L600.7,338.2 L599.9,336.8 L599.2,338.4 L598.5,341.4 L597.8,337.5 L597.1,339.7 L596.4,338.5 L595.7,334.9 L595.0,333.4 L594.3,334.8 L593.6,336.8 L592.9,336.0 L592.2,332.2 L591.5,333.1 L590.8,333.7 L590.1,334.6 L589.4,335.9 L588.7,332.6 L588.0,328.8 L587.3,328.4 L586.6,331.0 L585.9,330.8 L585.1,329.0 L584.4,330.3 L583.7,328.3 L583.0,324.7 L582.3,325.6 L581.6,324.7 L580.9,326.7 L580.2,326.3 L579.5,321.9 L578.8,324.6 L578.1,324.1 L577.4,321.6 L576.7,322.6 L576.0,322.3 L575.3,321.8 L574.6,319.4 L573.9,319.9 L573.2,320.6 L572.5,321.7 L571.8,321.8 L571.1,318.2 L570.3,316.0 L569.6,320.6 L568.9,317.3 L568.2,317.7 L567.5,316.8 L566.8,316.9 L566.1,318.5 L565.4,318.2 L564.7,318.0 L564.0,320.6 L563.3,318.1 L562.6,319.0 L561.9,317.7 L561.2,318.1 L560.5,320.1 L559.8,320.3 L559.1,319.7 L558.4,317.9 L557.7,317.6 L557.0,315.8 L556.3,321.2 L555.5,318.7 L554.8,315.6 L554.1,318.9 L553.4,316.2 L552.7,315.3 L552.0,315.0 L551.3,317.0 L550.6,318.7 L549.9,320.9 L549.2,316.8 L548.5,315.4 L547.8,320.2 L547.1,318.4 L546.4,316.4 L545.7,314.5 L545.0,315.6 L544.3,314.7 L543.6,316.1 L542.9,320.3 L542.2,318.6 L541.5,316.9 L540.7,314.7 L540.0,314.6 L539.3,312.0 L538.6,317.4 L537.9,312.7 L537.2,311.9 L536.5,317.4 L535.8,311.0 L535.1,312.0 L534.4,312.8 L533.7,315.9 L533.0,312.3 L532.3,314.6 L531.6,312.3 L530.9,316.6 L530.2,317.8 L529.5,316.3 L528.8,317.9 L528.1,317.5 L527.4,319.5 L526.7,315.6 L525.9,318.0 L525.2,317.0 L524.5,314.8 L523.8,316.1 L523.1,315.3 L522.4,316.5 L521.7,317.1 L521.0,318.5 L520.3,319.8 L519.6,320.1 L518.9,322.4 L518.2,320.5 L517.5,319.7 L516.8,320.3 L516.1,320.5 L515.4,323.3 L514.7,319.4 L514.0,319.1 L513.3,318.8 L512.6,318.4 L511.8,318.2 L511.1,320.7 L510.4,318.2 L509.7,319.7 L509.0,320.6 L508.3,323.0 L507.6,321.3 L506.9,322.6 L506.2,322.5 L505.5,322.8 L504.8,321.6 L504.1,319.7 L503.4,320.9 L502.7,323.6 L502.0,323.7 L501.3,321.9 L500.6,320.6 L499.9,325.1 L499.2,324.2 L498.5,324.6 L497.8,322.2 L497.0,327.8 L496.3,325.3 L495.6,323.0 L494.9,325.1 L494.2,329.8 L493.5,327.7 L492.8,327.4 L492.1,326.9 L491.4,327.2 L490.7,331.8 L490.0,330.6 L489.3,331.9 L488.6,330.9 L487.9,335.6 L487.2,336.7 L486.5,336.7 L485.8,338.7 L485.1,338.3 L484.4,334.7 L483.7,337.8 L483.0,339.0 L482.2,337.7 L481.5,335.0 L480.8,338.6 L480.1,335.2 L479.4,339.0 L478.7,335.6 L478.0,335.7 L477.3,338.5 L476.6,341.7 L475.9,336.8 L475.2,337.3 L474.5,338.2 L473.8,335.0 L473.1,335.3 L472.4,334.9 L471.7,334.3 L471.0,336.4 L470.3,339.7 L469.6,341.2 L468.9,342.3 L468.2,339.0 L467.4,339.4 L466.7,343.5 L466.0,339.3 L465.3,343.7 L464.6,344.2 L463.9,343.6 L463.2,339.2 L462.5,338.4 L461.8,340.4 L461.1,342.2 L460.4,343.7 L459.7,344.2 L459.0,340.4 L458.3,344.6 L457.6,341.5 L456.9,341.3 L456.2,343.4 L455.5,343.7 L454.8,347.8 L454.1,345.9 L453.4,347.3 L452.6,344.6 L451.9,343.2 L451.2,348.2 L450.5,347.4 L449.8,343.8 L449.1,348.1 L448.4,348.7 L447.7,345.5 L447.0,349.9 L446.3,348.6 L445.6,350.9 L444.9,348.8 L444.2,346.0 L443.5,351.9 L442.8,347.2 L442.1,352.7 L441.4,348.8 L440.7,352.6 L440.0,350.3 L439.3,349.1 L438.6,348.8 L437.8,353.6 L437.1,353.7 L436.4,349.6 L435.7,349.4 L435.0,354.2 L434.3,353.4 L433.6,352.0 L432.9,354.2 L432.2,351.5 L431.5,353.2 L430.8,355.3 L430.1,355.8 L429.4,352.9 L428.7,353.5 L428.0,353.3 L427.3,357.8 L426.6,354.2 L425.9,356.5 L425.2,357.3 L424.5,355.2 L423.7,360.3 L423.0,358.1 L422.3,358.9 L421.6,359.1 L420.9,361.0 L420.2,358.2 L419.5,359.6 L418.8,364.3 L418.1,361.9 L417.4,362.3 L416.7,361.2 L416.0,358.0 L415.3,357.2 L414.6,362.8 L413.9,357.3 L413.2,360.5 L412.5,358.8 L411.8,356.2 L411.1,359.1 L410.4,360.7 L409.7,356.2 L408.9,359.1 L408.2,354.5 L407.5,355.3 L406.8,359.0 L406.1,357.9 L405.4,357.3 L404.7,354.8 L404.0,357.7 L403.3,361.9 L402.6,359.4 L401.9,362.3 L401.2,361.5 L400.5,361.9 L399.8,361.2 L399.1,359.8 L398.4,362.4 L397.7,363.7 L397.0,366.4 L396.3,366.1 L395.6,368.9 L394.9,369.2 L394.1,365.1 L393.4,369.6 L392.7,369.7 L392.0,371.8 L391.3,370.4 L390.6,370.5 L389.9,370.1Z" fill="#f6a418" fill-opacity="0.27"/>
<path d="M389.9,350.5 L390.6,351.1 L391.3,350.9 L392.0,350.8 L392.7,348.9 L393.4,347.8 L394.1,348.7 L394.9,348.0 L395.6,347.0 L396.3,345.8 L397.0,346.1 L397.7,345.0 L398.4,345.1 L399.1,345.1 L399.8,343.4 L400.5,342.5 L401.2,343.0 L401.9,341.3 L402.6,341.0 L403.3,340.6 L404.0,341.0 L404.7,339.6 L405.4,339.3 L406.1,339.2 L406.8,338.3 L407.5,338.7 L408.2,339.1 L408.9,338.4 L409.7,339.3 L410.4,338.8 L411.1,339.1 L411.8,340.4 L412.5,340.6 L413.2,341.9 L413.9,340.7 L414.6,342.1 L415.3,342.0 L416.0,341.8 L416.7,341.4 L417.4,342.2 L418.1,342.5 L418.8,342.4 L419.5,342.4 L420.2,342.9 L420.9,342.6 L421.6,341.9 L422.3,341.0 L423.0,340.9 L423.7,340.4 L424.5,340.6 L425.2,340.4 L425.9,339.1 L426.6,338.3 L427.3,337.5 L428.0,337.6 L428.7,337.3 L429.4,335.9 L430.1,336.3 L430.8,337.0 L431.5,335.5 L432.2,336.3 L432.9,335.4 L433.6,335.6 L434.3,335.6 L435.0,334.2 L435.7,334.2 L436.4,335.0 L437.1,333.1 L437.8,333.3 L438.6,333.5 L439.3,334.0 L440.0,333.4 L440.7,333.6 L441.4,332.8 L442.1,331.4 L442.8,331.0 L443.5,330.9 L444.2,331.1 L444.9,330.3 L445.6,330.7 L446.3,330.4 L447.0,329.0 L447.7,329.8 L448.4,328.5 L449.1,329.4 L449.8,328.2 L450.5,328.6 L451.2,328.2 L451.9,327.5 L452.6,328.0 L453.4,326.3 L454.1,326.4 L454.8,326.4 L455.5,327.1 L456.2,326.3 L456.9,325.4 L457.6,325.5 L458.3,325.7 L459.0,325.7 L459.7,324.1 L460.4,325.1 L461.1,324.5 L461.8,324.9 L462.5,324.8 L463.2,324.6 L463.9,325.4 L464.6,325.1 L465.3,324.7 L466.0,324.2 L466.7,324.2 L467.4,322.6 L468.2,321.8 L468.9,322.5 L469.6,321.3 L470.3,320.4 L471.0,319.3 L471.7,318.6 L472.4,319.6 L473.1,319.2 L473.8,318.7 L474.5,319.7 L475.2,320.7 L475.9,320.9 L476.6,322.9 L477.3,323.3 L478.0,323.3 L478.7,321.5 L479.4,321.9 L480.1,320.9 L480.8,321.6 L481.5,321.5 L482.2,321.1 L483.0,320.8 L483.7,319.1 L484.4,318.5 L485.1,317.8 L485.8,318.4 L486.5,317.7 L487.2,316.6 L487.9,315.3 L488.6,315.7 L489.3,313.9 L490.0,313.6 L490.7,312.1 L491.4,313.1 L492.1,311.5 L492.8,311.1 L493.5,310.5 L494.2,309.6 L494.9,309.9 L495.6,308.9 L496.3,308.7 L497.0,308.3 L497.8,306.2 L498.5,306.7 L499.2,305.3 L499.9,305.0 L500.6,304.5 L501.3,305.3 L502.0,303.4 L502.7,303.9 L503.4,303.4 L504.1,305.0 L504.8,304.1 L505.5,304.4 L506.2,303.9 L506.9,304.4 L507.6,303.5 L508.3,303.8 L509.0,304.5 L509.7,304.3 L510.4,304.6 L511.1,303.7 L511.8,304.7 L512.6,304.6 L513.3,304.2 L514.0,303.7 L514.7,303.7 L515.4,302.3 L516.1,302.0 L516.8,302.3 L517.5,301.9 L518.2,301.4 L518.9,302.6 L519.6,302.2 L520.3,301.7 L521.0,300.8 L521.7,301.6 L522.4,301.6 L523.1,301.0 L523.8,300.0 L524.5,300.2 L525.2,299.4 L525.9,299.0 L526.7,298.8 L527.4,300.1 L528.1,299.5 L528.8,300.2 L529.5,298.5 L530.2,298.5 L530.9,298.5 L531.6,297.4 L532.3,297.6 L533.0,297.9 L533.7,297.4 L534.4,298.0 L535.1,297.3 L535.8,297.4 L536.5,297.4 L537.2,298.1 L537.9,297.8 L538.6,297.5 L539.3,299.3 L540.0,299.0 L540.7,298.2 L541.5,298.4 L542.2,298.9 L542.9,300.1 L543.6,299.5 L544.3,299.5 L545.0,300.8 L545.7,300.2 L546.4,300.9 L547.1,301.4 L547.8,301.6 L548.5,301.3 L549.2,301.8 L549.9,302.1 L550.6,302.5 L551.3,302.7 L552.0,302.6 L552.7,302.8 L553.4,302.0 L554.1,303.3 L554.8,303.1 L555.5,302.6 L556.3,301.5 L557.0,302.2 L557.7,303.4 L558.4,302.4 L559.1,301.8 L559.8,303.1 L560.5,303.2 L561.2,301.8 L561.9,302.7 L562.6,302.6 L563.3,301.4 L564.0,301.1 L564.7,301.0 L565.4,300.3 L566.1,299.9 L566.8,299.2 L567.5,298.7 L568.2,298.3 L568.9,298.8 L569.6,300.9 L570.3,301.7 L571.1,302.6 L571.8,301.7 L572.5,303.7 L573.2,303.2 L573.9,304.2 L574.6,304.6 L575.3,306.4 L576.0,306.9 L576.7,307.6 L577.4,307.6 L578.1,309.0 L578.8,308.3 L579.5,309.2 L580.2,309.9 L580.9,309.5 L581.6,310.1 L582.3,310.1 L583.0,311.9 L583.7,311.1 L584.4,311.4 L585.1,312.2 L585.9,313.5 L586.6,313.8 L587.3,314.2 L588.0,315.6 L588.7,315.9 L589.4,315.5 L590.1,316.7 L590.8,316.5 L591.5,317.0 L592.2,317.6 L592.9,318.0 L593.6,319.0 L594.3,320.7 L595.0,320.8 L595.7,320.1 L596.4,320.7 L597.1,321.8 L597.8,321.8 L598.5,321.2 L599.2,321.5 L599.9,322.5 L600.7,322.9 L601.4,322.4 L602.1,323.9 L602.8,323.4 L603.5,324.3 L604.2,324.3 L604.9,324.3 L605.6,325.5 L606.3,324.6 L607.0,324.8 L607.7,325.5 L608.4,326.4 L609.1,327.2 L609.8,326.9 L610.5,327.0 L611.2,327.2 L611.9,327.2 L612.6,327.9 L613.3,328.1 L614.0,327.8 L614.8,326.9 L615.5,327.6 L616.2,327.4 L616.9,327.2 L617.6,328.3 L618.3,327.4 L619.0,328.2 L619.7,327.8 L620.4,327.6 L621.1,328.2 L621.8,328.4 L622.5,329.0 L623.2,329.2 L623.9,329.2 L624.6,328.0 L625.3,328.7 L626.0,328.6 L626.7,329.5 L627.4,328.6 L628.1,328.6 L628.8,328.1 L629.6,329.0 L630.3,329.2 L631.0,329.0 L631.7,329.0 L632.4,330.1 L633.1,329.3 L633.8,329.7 L634.5,330.0 L635.2,329.7 L635.9,329.8 L636.6,330.0 L637.3,330.0 L638.0,329.8 L638.7,329.6 L639.4,330.6 L640.1,331.5 L640.8,330.0 L641.5,330.1 L642.2,330.2 L642.9,330.9 L643.6,330.5 L644.4,331.2 L645.1,329.7 L645.8,329.7 L646.5,330.1 L647.2,330.3 L647.9,330.5 L648.6,330.8 L649.3,332.1 L650.0,331.2 L650.7,331.8 L651.4,332.6 L652.1,332.2 L652.8,332.3 L653.5,333.0 L654.2,332.5 L654.9,332.1 L655.6,333.9 L656.3,333.8 L657.0,334.2 L657.7,333.4 L658.4,334.8 L659.2,334.4 L659.9,335.1 L660.6,334.7 L661.3,336.1 L662.0,335.7 L662.7,335.8 L663.4,337.0 L664.1,336.1" fill="none" stroke="#f6a418" stroke-width="3.0" stroke-linejoin="round"/>
<path d="M389.9,346.3 L390.6,350.2 L391.3,349.7 L392.0,350.3 L392.7,348.6 L393.4,345.6 L394.1,346.6 L394.9,349.6 L395.6,344.2 L396.3,346.2 L397.0,345.0 L397.7,345.7 L398.4,346.2 L399.1,348.4 L399.8,345.0 L400.5,349.0 L401.2,346.5 L401.9,345.5 L402.6,344.7 L403.3,347.1 L404.0,346.1 L404.7,346.9 L405.4,344.7 L406.1,346.1 L406.8,346.6 L407.5,344.4 L408.2,346.2 L408.9,347.4 L409.7,345.9 L410.4,343.7 L411.1,346.3 L411.8,343.4 L412.5,343.7 L413.2,343.0 L413.9,345.5 L414.6,344.1 L415.3,344.4 L416.0,343.5 L416.7,347.2 L417.4,343.3 L418.1,346.4 L418.8,347.3 L419.5,345.5 L420.2,346.0 L420.9,344.9 L421.6,347.5 L422.3,346.8 L423.0,343.2 L423.7,346.6 L424.5,343.6 L425.2,345.5 L425.9,344.0 L426.6,345.2 L427.3,346.2 L428.0,346.3 L428.7,344.1 L429.4,342.2 L430.1,343.8 L430.8,345.9 L431.5,344.0 L432.2,343.9 L432.9,344.4 L433.6,343.3 L434.3,345.0 L435.0,345.1 L435.7,343.9 L436.4,343.9 L437.1,340.2 L437.8,341.2 L438.6,343.7 L439.3,343.0 L440.0,344.3 L440.7,343.6 L441.4,341.8 L442.1,340.9 L442.8,343.0 L443.5,339.8 L444.2,341.5 L444.9,340.4 L445.6,341.1 L446.3,342.2 L447.0,342.0 L447.7,342.1 L448.4,339.4 L449.1,343.5 L449.8,342.4 L450.5,343.7 L451.2,342.1 L451.9,342.8 L452.6,344.3 L453.4,343.4 L454.1,342.7 L454.8,339.1 L455.5,338.7 L456.2,342.3 L456.9,342.4 L457.6,339.4 L458.3,338.5 L459.0,339.9 L459.7,342.2 L460.4,341.4 L461.1,338.0 L461.8,338.7 L462.5,339.3 L463.2,342.5 L463.9,339.9 L464.6,343.7 L465.3,341.6 L466.0,340.6 L466.7,341.9 L467.4,340.8 L468.2,344.6 L468.9,340.4 L469.6,342.4 L470.3,342.4 L471.0,340.6 L471.7,341.6 L472.4,345.5 L473.1,345.1 L473.8,343.0 L474.5,345.4 L475.2,346.3 L475.9,346.7 L476.6,346.9 L477.3,346.4 L478.0,346.6 L478.7,348.2 L479.4,347.8 L480.1,349.0 L480.8,344.5 L481.5,348.0 L482.2,347.2 L483.0,345.0 L483.7,346.6 L484.4,343.7 L485.1,344.7 L485.8,345.5 L486.5,347.4 L487.2,343.3 L487.9,346.1 L488.6,344.8 L489.3,346.0 L490.0,342.5 L490.7,344.0 L491.4,344.4 L492.1,343.8 L492.8,342.7 L493.5,343.3 L494.2,342.0 L494.9,341.2 L495.6,339.8 L496.3,341.7 L497.0,344.3 L497.8,344.5 L498.5,339.9 L499.2,341.3 L499.9,341.0 L500.6,343.9 L501.3,340.9 L502.0,344.0 L502.7,341.3 L503.4,342.7 L504.1,346.6 L504.8,342.5 L505.5,345.4 L506.2,343.8 L506.9,346.6 L507.6,342.8 L508.3,345.5 L509.0,343.0 L509.7,346.6 L510.4,343.3 L511.1,344.8 L511.8,341.7 L512.6,346.5 L513.3,345.2 L514.0,347.0 L514.7,346.4 L515.4,343.1 L516.1,347.1 L516.8,345.1 L517.5,344.2 L518.2,347.4 L518.9,346.3 L519.6,344.5 L520.3,342.8 L521.0,345.2 L521.7,341.9 L522.4,343.2 L523.1,342.3 L523.8,342.9 L524.5,346.1 L525.2,343.4 L525.9,347.1 L526.7,343.8 L527.4,345.9 L528.1,345.5 L528.8,344.9 L529.5,344.3 L530.2,341.9 L530.9,345.8 L531.6,346.1 L532.3,344.4 L533.0,342.6 L533.7,341.4 L534.4,341.9 L535.1,345.2 L535.8,341.8 L536.5,341.3 L537.2,342.6 L537.9,340.2 L538.6,344.1 L539.3,344.7 L540.0,342.4 L540.7,340.5 L541.5,344.8 L542.2,344.4 L542.9,344.2 L543.6,341.4 L544.3,344.9 L545.0,343.7 L545.7,340.9 L546.4,346.3 L547.1,344.4 L547.8,341.3 L548.5,345.0 L549.2,343.8 L549.9,343.9 L550.6,340.7 L551.3,341.2 L552.0,344.2 L552.7,340.6 L553.4,341.5 L554.1,340.8 L554.8,343.5 L555.5,340.9 L556.3,344.5 L557.0,342.9 L557.7,344.2 L558.4,344.8 L559.1,345.1 L559.8,341.0 L560.5,342.3 L561.2,344.2 L561.9,341.8 L562.6,345.0 L563.3,342.0 L564.0,343.1 L564.7,340.7 L565.4,342.5 L566.1,340.3 L566.8,340.9 L567.5,341.8 L568.2,341.6 L568.9,337.7 L569.6,337.7 L570.3,338.0 L571.1,340.3 L571.8,339.2 L572.5,339.6 L573.2,340.1 L573.9,337.1 L574.6,338.0 L575.3,334.9 L576.0,336.5 L576.7,338.2 L577.4,336.2 L578.1,339.0 L578.8,336.1 L579.5,337.2 L580.2,338.4 L580.9,336.3 L581.6,338.7 L582.3,337.7 L583.0,335.5 L583.7,335.6 L584.4,338.4 L585.1,339.4 L585.9,338.6 L586.6,339.7 L587.3,338.8 L588.0,339.9 L588.7,340.4 L589.4,339.5 L590.1,339.3 L590.8,337.5 L591.5,338.0 L592.2,337.2 L592.9,337.2 L593.6,339.0 L594.3,339.0 L595.0,340.9 L595.7,342.6 L596.4,339.6 L597.1,342.8 L597.8,343.0 L598.5,339.5 L599.2,341.5 L599.9,339.8 L600.7,339.2 L601.4,339.9 L602.1,339.7 L602.8,338.7 L603.5,339.0 L604.2,343.0 L604.9,343.2 L605.6,343.3 L606.3,339.4 L607.0,339.6 L607.7,344.1 L608.4,341.9 L609.1,341.8 L609.8,343.7 L610.5,342.9 L611.2,342.1 L611.9,341.3 L612.6,341.0 L613.3,344.3 L614.0,345.2 L614.8,340.6 L615.5,341.0 L616.2,342.1 L616.9,340.3 L617.6,341.5 L618.3,341.1 L619.0,339.8 L619.7,339.1 L620.4,341.2 L621.1,343.6 L621.8,340.0 L622.5,341.9 L623.2,343.1 L623.9,341.6 L624.6,339.9 L625.3,342.5 L626.0,341.4 L626.7,343.0 L627.4,339.2 L628.1,340.8 L628.8,341.1 L629.6,343.5 L630.3,342.4 L631.0,342.1 L631.7,341.7 L632.4,344.1 L633.1,341.6 L633.8,340.8 L634.5,341.0 L635.2,341.5 L635.9,341.4 L636.6,345.9 L637.3,343.2 L638.0,344.1 L638.7,341.8 L639.4,342.7 L640.1,341.4 L640.8,345.0 L641.5,342.5 L642.2,342.8 L642.9,345.0 L643.6,345.7 L644.4,345.9 L645.1,343.3 L645.8,342.9 L646.5,345.0 L647.2,342.5 L647.9,341.2 L648.6,342.6 L649.3,342.0 L650.0,341.1 L650.7,343.3 L651.4,341.4 L652.1,343.0 L652.8,341.4 L653.5,340.3 L654.2,343.7 L654.9,343.6 L655.6,343.5 L656.3,342.8 L657.0,340.4 L657.7,342.1 L658.4,344.3 L659.2,344.2 L659.9,343.6 L660.6,343.5 L661.3,341.4 L662.0,341.3 L662.7,345.1 L663.4,340.8 L664.1,342.0 L664.1,363.1 L663.4,363.1 L662.7,360.9 L662.0,360.7 L661.3,362.5 L660.6,361.7 L659.9,360.9 L659.2,364.4 L658.4,362.0 L657.7,364.3 L657.0,361.3 L656.3,364.5 L655.6,363.7 L654.9,365.3 L654.2,364.3 L653.5,360.6 L652.8,361.2 L652.1,361.7 L651.4,362.3 L650.7,361.4 L650.0,363.2 L649.3,363.5 L648.6,364.5 L647.9,363.7 L647.2,365.6 L646.5,363.1 L645.8,361.2 L645.1,364.1 L644.4,363.9 L643.6,365.6 L642.9,364.3 L642.2,365.6 L641.5,361.5 L640.8,363.5 L640.1,364.1 L639.4,361.2 L638.7,365.5 L638.0,362.8 L637.3,365.2 L636.6,365.4 L635.9,362.1 L635.2,360.9 L634.5,361.1 L633.8,360.4 L633.1,363.3 L632.4,364.6 L631.7,360.3 L631.0,363.5 L630.3,361.1 L629.6,364.6 L628.8,364.0 L628.1,363.8 L627.4,360.1 L626.7,363.2 L626.0,359.1 L625.3,361.5 L624.6,359.7 L623.9,362.4 L623.2,360.5 L622.5,358.9 L621.8,361.1 L621.1,359.4 L620.4,361.3 L619.7,361.0 L619.0,359.0 L618.3,360.0 L617.6,361.2 L616.9,363.0 L616.2,364.4 L615.5,365.2 L614.8,362.6 L614.0,364.7 L613.3,364.2 L612.6,360.8 L611.9,365.0 L611.2,361.0 L610.5,365.5 L609.8,365.3 L609.1,363.5 L608.4,365.8 L607.7,360.6 L607.0,361.8 L606.3,360.6 L605.6,364.3 L604.9,361.2 L604.2,363.3 L603.5,364.0 L602.8,361.6 L602.1,363.0 L601.4,360.7 L600.7,361.7 L599.9,361.1 L599.2,359.4 L598.5,359.8 L597.8,359.1 L597.1,361.3 L596.4,363.4 L595.7,360.4 L595.0,361.8 L594.3,359.6 L593.6,360.1 L592.9,362.9 L592.2,359.4 L591.5,362.8 L590.8,358.5 L590.1,360.1 L589.4,357.2 L588.7,358.6 L588.0,360.4 L587.3,359.9 L586.6,361.5 L585.9,359.3 L585.1,359.9 L584.4,360.3 L583.7,360.9 L583.0,358.6 L582.3,358.9 L581.6,357.0 L580.9,359.3 L580.2,357.8 L579.5,356.6 L578.8,358.5 L578.1,360.1 L577.4,359.8 L576.7,356.1 L576.0,359.0 L575.3,357.5 L574.6,357.5 L573.9,360.5 L573.2,360.6 L572.5,360.1 L571.8,357.8 L571.1,359.1 L570.3,359.3 L569.6,361.0 L568.9,359.4 L568.2,360.5 L567.5,362.6 L566.8,363.8 L566.1,364.4 L565.4,363.6 L564.7,363.7 L564.0,359.8 L563.3,362.5 L562.6,362.7 L561.9,361.0 L561.2,362.5 L560.5,362.5 L559.8,364.1 L559.1,362.5 L558.4,361.8 L557.7,363.6 L557.0,363.8 L556.3,363.4 L555.5,360.7 L554.8,360.4 L554.1,363.4 L553.4,364.4 L552.7,362.5 L552.0,364.3 L551.3,363.7 L550.6,361.6 L549.9,362.9 L549.2,363.5 L548.5,360.9 L547.8,362.5 L547.1,363.3 L546.4,365.7 L545.7,364.0 L545.0,363.4 L544.3,362.6 L543.6,364.3 L542.9,363.9 L542.2,362.7 L541.5,363.7 L540.7,364.1 L540.0,364.1 L539.3,362.5 L538.6,366.3 L537.9,363.8 L537.2,363.7 L536.5,362.1 L535.8,362.4 L535.1,364.0 L534.4,365.8 L533.7,363.9 L533.0,362.2 L532.3,364.5 L531.6,361.9 L530.9,363.3 L530.2,365.7 L529.5,364.3 L528.8,366.7 L528.1,368.0 L527.4,364.2 L526.7,367.1 L525.9,364.5 L525.2,368.2 L524.5,367.7 L523.8,365.3 L523.1,367.3 L522.4,368.6 L521.7,368.5 L521.0,365.5 L520.3,367.0 L519.6,365.7 L518.9,365.6 L518.2,368.5 L517.5,368.3 L516.8,363.3 L516.1,364.0 L515.4,366.9 L514.7,365.1 L514.0,364.6 L513.3,367.4 L512.6,365.8 L511.8,365.8 L511.1,364.6 L510.4,364.9 L509.7,365.2 L509.0,367.1 L508.3,366.7 L507.6,364.4 L506.9,364.1 L506.2,367.7 L505.5,365.3 L504.8,365.8 L504.1,364.4 L503.4,363.2 L502.7,365.1 L502.0,363.4 L501.3,363.7 L500.6,365.5 L499.9,365.0 L499.2,366.8 L498.5,362.1 L497.8,363.7 L497.0,364.2 L496.3,360.8 L495.6,365.4 L494.9,361.1 L494.2,362.5 L493.5,360.8 L492.8,364.4 L492.1,365.1 L491.4,362.1 L490.7,366.7 L490.0,364.1 L489.3,365.6 L488.6,367.0 L487.9,363.6 L487.2,365.8 L486.5,363.7 L485.8,367.2 L485.1,365.1 L484.4,368.3 L483.7,365.6 L483.0,368.3 L482.2,368.2 L481.5,366.9 L480.8,367.1 L480.1,366.7 L479.4,366.7 L478.7,369.2 L478.0,365.9 L477.3,368.9 L476.6,369.5 L475.9,367.4 L475.2,364.5 L474.5,363.5 L473.8,368.2 L473.1,364.3 L472.4,365.5 L471.7,365.0 L471.0,365.3 L470.3,364.6 L469.6,362.4 L468.9,363.7 L468.2,362.8 L467.4,366.0 L466.7,364.0 L466.0,366.4 L465.3,361.8 L464.6,363.4 L463.9,361.6 L463.2,365.1 L462.5,359.5 L461.8,359.2 L461.1,361.3 L460.4,360.1 L459.7,363.1 L459.0,362.4 L458.3,361.2 L457.6,364.8 L456.9,360.9 L456.2,365.3 L455.5,362.8 L454.8,364.4 L454.1,364.9 L453.4,362.1 L452.6,364.0 L451.9,364.6 L451.2,364.1 L450.5,365.3 L449.8,363.9 L449.1,363.4 L448.4,361.0 L447.7,364.6 L447.0,363.9 L446.3,362.1 L445.6,363.8 L444.9,361.5 L444.2,362.4 L443.5,362.5 L442.8,361.2 L442.1,362.4 L441.4,363.7 L440.7,363.8 L440.0,361.8 L439.3,360.9 L438.6,363.1 L437.8,363.2 L437.1,361.1 L436.4,363.3 L435.7,361.9 L435.0,366.0 L434.3,362.2 L433.6,363.6 L432.9,363.0 L432.2,366.3 L431.5,366.7 L430.8,364.7 L430.1,364.9 L429.4,365.2 L428.7,366.7 L428.0,367.0 L427.3,366.5 L426.6,367.8 L425.9,370.0 L425.2,366.5 L424.5,366.0 L423.7,366.9 L423.0,367.2 L422.3,368.5 L421.6,369.3 L420.9,368.9 L420.2,366.1 L419.5,365.0 L418.8,366.3 L418.1,367.0 L417.4,367.0 L416.7,367.7 L416.0,367.1 L415.3,370.2 L414.6,368.7 L413.9,367.4 L413.2,367.2 L412.5,366.2 L411.8,366.0 L411.1,365.9 L410.4,369.2 L409.7,366.0 L408.9,370.1 L408.2,368.4 L407.5,370.1 L406.8,366.8 L406.1,367.5 L405.4,371.2 L404.7,371.0 L404.0,370.2 L403.3,369.6 L402.6,369.1 L401.9,371.2 L401.2,369.5 L400.5,366.9 L399.8,366.5 L399.1,367.8 L398.4,366.0 L397.7,371.4 L397.0,369.2 L396.3,368.0 L395.6,369.7 L394.9,368.5 L394.1,368.4 L393.4,371.8 L392.7,370.6 L392.0,368.5 L391.3,369.1 L390.6,371.7 L389.9,367.8Z" fill="#3e6db4" fill-opacity="0.24"/>
<path d="M389.9,359.3 L390.6,359.6 L391.3,359.0 L392.0,358.6 L392.7,359.0 L393.4,359.0 L394.1,358.6 L394.9,358.6 L395.6,357.7 L396.3,358.2 L397.0,358.1 L397.7,358.9 L398.4,359.0 L399.1,358.2 L399.8,359.3 L400.5,357.7 L401.2,357.9 L401.9,358.2 L402.6,357.7 L403.3,359.6 L404.0,358.5 L404.7,358.2 L405.4,359.2 L406.1,358.3 L406.8,358.3 L407.5,357.7 L408.2,357.7 L408.9,358.5 L409.7,357.3 L410.4,357.6 L411.1,357.5 L411.8,356.7 L412.5,356.5 L413.2,356.9 L413.9,357.1 L414.6,356.1 L415.3,355.4 L416.0,356.7 L416.7,355.2 L417.4,356.8 L418.1,355.5 L418.8,356.7 L419.5,356.1 L420.2,356.4 L420.9,356.7 L421.6,357.3 L422.3,356.6 L423.0,356.6 L423.7,356.8 L424.5,356.9 L425.2,356.3 L425.9,357.4 L426.6,355.7 L427.3,355.3 L428.0,355.6 L428.7,355.0 L429.4,355.6 L430.1,354.2 L430.8,354.8 L431.5,354.2 L432.2,354.7 L432.9,353.1 L433.6,353.0 L434.3,352.6 L435.0,352.6 L435.7,351.9 L436.4,352.4 L437.1,351.7 L437.8,352.1 L438.6,351.5 L439.3,351.9 L440.0,352.5 L440.7,353.0 L441.4,353.0 L442.1,352.7 L442.8,352.1 L443.5,352.1 L444.2,352.0 L444.9,352.4 L445.6,352.5 L446.3,353.5 L447.0,353.0 L447.7,354.2 L448.4,352.7 L449.1,352.5 L449.8,352.3 L450.5,352.0 L451.2,352.8 L451.9,352.5 L452.6,351.8 L453.4,352.4 L454.1,351.9 L454.8,351.4 L455.5,351.6 L456.2,351.7 L456.9,351.2 L457.6,350.6 L458.3,351.1 L459.0,352.1 L459.7,350.8 L460.4,351.6 L461.1,350.6 L461.8,351.8 L462.5,352.4 L463.2,351.7 L463.9,351.9 L464.6,352.3 L465.3,352.1 L466.0,352.1 L466.7,352.3 L467.4,353.6 L468.2,353.6 L468.9,354.6 L469.6,355.1 L470.3,355.2 L471.0,355.5 L471.7,355.6 L472.4,354.4 L473.1,354.7 L473.8,356.5 L474.5,356.6 L475.2,356.3 L475.9,356.6 L476.6,356.5 L477.3,356.5 L478.0,356.0 L478.7,356.7 L479.4,356.4 L480.1,356.0 L480.8,357.4 L481.5,356.8 L482.2,357.2 L483.0,355.9 L483.7,356.2 L484.4,355.3 L485.1,356.1 L485.8,355.0 L486.5,355.5 L487.2,355.1 L487.9,354.7 L488.6,354.0 L489.3,354.4 L490.0,354.5 L490.7,354.7 L491.4,353.1 L492.1,352.5 L492.8,352.4 L493.5,352.8 L494.2,351.7 L494.9,352.6 L495.6,351.9 L496.3,352.0 L497.0,353.4 L497.8,353.2 L498.5,352.6 L499.2,353.2 L499.9,354.2 L500.6,353.7 L501.3,354.4 L502.0,354.3 L502.7,354.9 L503.4,354.5 L504.1,356.2 L504.8,355.6 L505.5,355.6 L506.2,355.4 L506.9,355.1 L507.6,356.6 L508.3,356.5 L509.0,355.7 L509.7,356.3 L510.4,356.2 L511.1,355.3 L511.8,355.1 L512.6,356.1 L513.3,355.1 L514.0,356.0 L514.7,355.1 L515.4,355.0 L516.1,355.3 L516.8,356.3 L517.5,356.2 L518.2,357.0 L518.9,356.5 L519.6,356.2 L520.3,355.2 L521.0,356.9 L521.7,355.9 L522.4,356.5 L523.1,355.0 L523.8,356.2 L524.5,355.3 L525.2,354.6 L525.9,354.8 L526.7,354.0 L527.4,354.4 L528.1,353.6 L528.8,354.6 L529.5,353.5 L530.2,354.3 L530.9,354.2 L531.6,354.3 L532.3,354.4 L533.0,353.0 L533.7,353.7 L534.4,353.1 L535.1,354.0 L535.8,353.8 L536.5,353.8 L537.2,353.5 L537.9,352.7 L538.6,353.7 L539.3,353.7 L540.0,353.5 L540.7,352.4 L541.5,353.3 L542.2,353.3 L542.9,353.7 L543.6,353.7 L544.3,353.1 L545.0,353.2 L545.7,353.7 L546.4,353.4 L547.1,353.4 L547.8,353.9 L548.5,352.3 L549.2,352.5 L549.9,353.2 L550.6,352.2 L551.3,353.7 L552.0,352.1 L552.7,353.3 L553.4,352.2 L554.1,352.2 L554.8,353.3 L555.5,353.3 L556.3,352.9 L557.0,353.1 L557.7,352.8 L558.4,353.2 L559.1,352.1 L559.8,351.9 L560.5,351.7 L561.2,351.6 L561.9,352.1 L562.6,351.2 L563.3,352.2 L564.0,352.6 L564.7,352.3 L565.4,351.8 L566.1,351.0 L566.8,350.5 L567.5,350.4 L568.2,351.0 L568.9,351.4 L569.6,351.2 L570.3,349.7 L571.1,350.2 L571.8,350.1 L572.5,349.4 L573.2,349.9 L573.9,348.2 L574.6,348.3 L575.3,348.2 L576.0,348.5 L576.7,347.8 L577.4,347.6 L578.1,348.6 L578.8,347.9 L579.5,347.9 L580.2,347.7 L580.9,348.3 L581.6,348.7 L582.3,347.8 L583.0,348.1 L583.7,347.8 L584.4,346.7 L585.1,348.6 L585.9,347.5 L586.6,348.5 L587.3,349.5 L588.0,348.4 L588.7,348.6 L589.4,349.1 L590.1,348.9 L590.8,350.2 L591.5,350.0 L592.2,349.1 L592.9,349.9 L593.6,350.7 L594.3,350.4 L595.0,350.6 L595.7,351.8 L596.4,350.8 L597.1,350.6 L597.8,351.2 L598.5,350.5 L599.2,351.4 L599.9,351.8 L600.7,350.6 L601.4,351.7 L602.1,351.3 L602.8,352.1 L603.5,352.1 L604.2,352.6 L604.9,352.0 L605.6,351.2 L606.3,351.5 L607.0,352.5 L607.7,353.0 L608.4,351.6 L609.1,352.2 L609.8,351.9 L610.5,352.3 L611.2,352.7 L611.9,352.3 L612.6,352.9 L613.3,352.7 L614.0,351.7 L614.8,352.5 L615.5,352.0 L616.2,352.1 L616.9,352.1 L617.6,352.4 L618.3,351.4 L619.0,352.2 L619.7,350.9 L620.4,351.0 L621.1,351.8 L621.8,351.9 L622.5,350.8 L623.2,351.7 L623.9,350.1 L624.6,352.0 L625.3,350.6 L626.0,350.6 L626.7,352.0 L627.4,350.9 L628.1,352.0 L628.8,350.9 L629.6,351.1 L630.3,351.7 L631.0,351.4 L631.7,352.2 L632.4,352.0 L633.1,352.9 L633.8,352.5 L634.5,353.3 L635.2,353.2 L635.9,352.2 L636.6,353.7 L637.3,354.0 L638.0,353.6 L638.7,353.7 L639.4,352.9 L640.1,353.3 L640.8,353.1 L641.5,353.1 L642.2,353.6 L642.9,353.1 L643.6,353.7 L644.4,353.4 L645.1,353.9 L645.8,352.5 L646.5,354.0 L647.2,353.4 L647.9,353.6 L648.6,352.9 L649.3,353.7 L650.0,353.2 L650.7,353.5 L651.4,353.2 L652.1,352.3 L652.8,352.5 L653.5,353.2 L654.2,352.1 L654.9,353.2 L655.6,352.9 L656.3,353.3 L657.0,352.7 L657.7,352.8 L658.4,352.8 L659.2,353.5 L659.9,352.2 L660.6,352.8 L661.3,352.3 L662.0,352.7 L662.7,351.9 L663.4,351.7 L664.1,351.8" fill="none" stroke="#4568b0" stroke-width="3.0" stroke-linejoin="round"/>
<path d="M389.9,336.5 L390.6,337.0 L391.3,336.8 L392.0,337.1 L392.7,335.6 L393.4,333.8 L394.1,333.5 L394.9,333.6 L395.6,335.2 L396.3,334.8 L397.0,331.1 L397.7,329.2 L398.4,330.2 L399.1,328.6 L399.8,329.9 L400.5,329.7 L401.2,327.5 L401.9,323.6 L402.6,325.4 L403.3,323.1 L404.0,325.5 L404.7,326.4 L405.4,325.6 L406.1,324.4 L406.8,322.6 L407.5,327.4 L408.2,326.8 L408.9,324.5 L409.7,322.6 L410.4,326.3 L411.1,324.5 L411.8,324.6 L412.5,324.6 L413.2,324.8 L413.9,324.7 L414.6,327.7 L415.3,327.7 L416.0,327.8 L416.7,329.9 L417.4,328.3 L418.1,326.4 L418.8,326.5 L419.5,328.1 L420.2,328.2 L420.9,327.9 L421.6,328.9 L422.3,327.1 L423.0,329.1 L423.7,328.2 L424.5,326.0 L425.2,324.6 L425.9,326.5 L426.6,326.7 L427.3,326.3 L428.0,324.6 L428.7,323.9 L429.4,322.1 L430.1,320.1 L430.8,320.7 L431.5,323.8 L432.2,320.8 L432.9,322.9 L433.6,323.6 L434.3,321.7 L435.0,322.8 L435.7,322.6 L436.4,325.9 L437.1,325.1 L437.8,319.6 L438.6,320.0 L439.3,324.1 L440.0,319.3 L440.7,322.9 L441.4,320.8 L442.1,322.2 L442.8,321.7 L443.5,317.2 L444.2,320.3 L444.9,319.6 L445.6,315.5 L446.3,320.5 L447.0,316.6 L447.7,317.1 L448.4,317.2 L449.1,317.6 L449.8,317.7 L450.5,314.8 L451.2,319.6 L451.9,317.3 L452.6,314.7 L453.4,316.7 L454.1,314.3 L454.8,315.0 L455.5,316.2 L456.2,315.7 L456.9,311.7 L457.6,312.1 L458.3,315.6 L459.0,313.3 L459.7,310.7 L460.4,312.4 L461.1,309.9 L461.8,309.1 L462.5,312.1 L463.2,309.0 L463.9,308.8 L464.6,311.8 L465.3,314.0 L466.0,308.5 L466.7,311.9 L467.4,308.1 L468.2,307.5 L468.9,307.0 L469.6,306.6 L470.3,310.0 L471.0,311.0 L471.7,305.8 L472.4,306.3 L473.1,305.7 L473.8,308.2 L474.5,308.0 L475.2,308.1 L475.9,312.8 L476.6,309.2 L477.3,312.2 L478.0,309.6 L478.7,312.3 L479.4,309.1 L480.1,309.1 L480.8,312.8 L481.5,307.8 L482.2,308.8 L483.0,309.0 L483.7,310.4 L484.4,306.8 L485.1,303.7 L485.8,305.9 L486.5,305.6 L487.2,304.3 L487.9,303.0 L488.6,304.7 L489.3,299.9 L490.0,302.4 L490.7,302.3 L491.4,304.5 L492.1,303.0 L492.8,299.3 L493.5,300.3 L494.2,301.5 L494.9,299.5 L495.6,297.2 L496.3,301.6 L497.0,297.9 L497.8,295.3 L498.5,294.3 L499.2,293.0 L499.9,297.5 L500.6,292.3 L501.3,294.3 L502.0,296.5 L502.7,295.4 L503.4,294.1 L504.1,291.7 L504.8,293.6 L505.5,294.6 L506.2,290.9 L506.9,290.6 L507.6,291.2 L508.3,292.3 L509.0,293.7 L509.7,292.1 L510.4,289.7 L511.1,292.0 L511.8,288.8 L512.6,288.5 L513.3,287.6 L514.0,291.2 L514.7,290.9 L515.4,290.4 L516.1,290.9 L516.8,288.3 L517.5,288.3 L518.2,290.6 L518.9,289.3 L519.6,289.9 L520.3,292.1 L521.0,289.9 L521.7,291.8 L522.4,287.8 L523.1,290.0 L523.8,287.4 L524.5,288.6 L525.2,288.3 L525.9,289.2 L526.7,287.6 L527.4,291.9 L528.1,288.0 L528.8,287.5 L529.5,285.5 L530.2,287.1 L530.9,289.3 L531.6,288.2 L532.3,289.9 L533.0,288.8 L533.7,288.9 L534.4,287.8 L535.1,290.2 L535.8,288.2 L536.5,286.3 L537.2,287.3 L537.9,290.9 L538.6,287.1 L539.3,288.0 L540.0,291.2 L540.7,291.5 L541.5,290.6 L542.2,291.7 L542.9,290.2 L543.6,291.2 L544.3,288.7 L545.0,291.1 L545.7,294.3 L546.4,292.1 L547.1,291.3 L547.8,293.6 L548.5,296.7 L549.2,294.1 L549.9,293.9 L550.6,297.2 L551.3,298.4 L552.0,295.4 L552.7,298.7 L553.4,296.5 L554.1,297.1 L554.8,300.5 L555.5,298.4 L556.3,301.7 L557.0,299.4 L557.7,301.2 L558.4,297.2 L559.1,298.5 L559.8,296.3 L560.5,300.4 L561.2,300.2 L561.9,297.7 L562.6,297.7 L563.3,300.2 L564.0,296.3 L564.7,294.9 L565.4,293.7 L566.1,298.0 L566.8,296.5 L567.5,294.8 L568.2,295.7 L568.9,296.8 L569.6,296.5 L570.3,294.2 L571.1,298.0 L571.8,300.7 L572.5,298.8 L573.2,299.2 L573.9,301.7 L574.6,300.0 L575.3,301.2 L576.0,304.4 L576.7,306.1 L577.4,301.6 L578.1,305.2 L578.8,304.4 L579.5,301.8 L580.2,302.9 L580.9,304.2 L581.6,306.8 L582.3,304.4 L583.0,306.7 L583.7,308.4 L584.4,310.0 L585.1,311.8 L585.9,311.0 L586.6,307.8 L587.3,309.9 L588.0,310.3 L588.7,310.3 L589.4,310.6 L590.1,309.0 L590.8,308.0 L591.5,311.1 L592.2,312.4 L592.9,311.5 L593.6,311.8 L594.3,313.9 L595.0,310.4 L595.7,312.6 L596.4,314.4 L597.1,313.8 L597.8,310.2 L598.5,313.7 L599.2,315.8 L599.9,313.3 L600.7,315.4 L601.4,319.1 L602.1,316.8 L602.8,318.1 L603.5,318.7 L604.2,320.5 L604.9,318.6 L605.6,321.9 L606.3,321.4 L607.0,320.0 L607.7,322.1 L608.4,321.3 L609.1,320.4 L609.8,323.1 L610.5,320.1 L611.2,321.8 L611.9,324.9 L612.6,325.4 L613.3,320.7 L614.0,320.8 L614.8,321.8 L615.5,322.4 L616.2,319.9 L616.9,323.8 L617.6,319.3 L618.3,321.2 L619.0,319.5 L619.7,321.1 L620.4,318.0 L621.1,320.4 L621.8,321.9 L622.5,317.1 L623.2,318.0 L623.9,316.7 L624.6,321.0 L625.3,319.9 L626.0,317.8 L626.7,322.2 L627.4,318.2 L628.1,320.3 L628.8,322.1 L629.6,321.5 L630.3,318.7 L631.0,318.6 L631.7,319.0 L632.4,324.2 L633.1,324.0 L633.8,320.8 L634.5,320.3 L635.2,323.8 L635.9,321.2 L636.6,325.6 L637.3,325.4 L638.0,324.7 L638.7,324.8 L639.4,324.8 L640.1,325.3 L640.8,322.6 L641.5,324.4 L642.2,320.7 L642.9,324.6 L643.6,322.8 L644.4,325.3 L645.1,324.0 L645.8,322.2 L646.5,323.6 L647.2,322.7 L647.9,323.1 L648.6,319.5 L649.3,320.7 L650.0,321.3 L650.7,324.3 L651.4,326.0 L652.1,324.2 L652.8,325.1 L653.5,324.7 L654.2,322.6 L654.9,323.0 L655.6,325.2 L656.3,326.5 L657.0,325.0 L657.7,326.9 L658.4,325.8 L659.2,326.1 L659.9,325.9 L660.6,327.4 L661.3,328.2 L662.0,325.9 L662.7,330.8 L663.4,325.3 L664.1,329.2 L664.1,357.3 L663.4,356.0 L662.7,352.2 L662.0,357.6 L661.3,354.1 L660.6,357.4 L659.9,352.3 L659.2,357.2 L658.4,352.8 L657.7,356.7 L657.0,356.1 L656.3,353.0 L655.6,352.5 L654.9,354.4 L654.2,354.6 L653.5,351.2 L652.8,350.8 L652.1,350.3 L651.4,350.9 L650.7,353.9 L650.0,351.0 L649.3,351.4 L648.6,350.9 L647.9,352.6 L647.2,353.1 L646.5,351.2 L645.8,351.8 L645.1,350.6 L644.4,350.1 L643.6,348.4 L642.9,352.6 L642.2,349.2 L641.5,352.6 L640.8,351.3 L640.1,349.9 L639.4,349.3 L638.7,353.9 L638.0,352.6 L637.3,353.4 L636.6,354.8 L635.9,351.9 L635.2,354.9 L634.5,350.6 L633.8,354.7 L633.1,352.2 L632.4,352.7 L631.7,350.5 L631.0,350.7 L630.3,352.4 L629.6,351.7 L628.8,349.7 L628.1,352.2 L627.4,348.4 L626.7,347.2 L626.0,346.5 L625.3,351.2 L624.6,350.1 L623.9,349.9 L623.2,348.9 L622.5,348.9 L621.8,348.2 L621.1,348.9 L620.4,352.1 L619.7,353.2 L619.0,349.2 L618.3,351.0 L617.6,350.5 L616.9,350.1 L616.2,350.8 L615.5,355.1 L614.8,353.2 L614.0,355.0 L613.3,354.7 L612.6,351.3 L611.9,352.1 L611.2,350.2 L610.5,350.1 L609.8,355.3 L609.1,354.9 L608.4,349.1 L607.7,352.1 L607.0,350.4 L606.3,350.0 L605.6,349.5 L604.9,351.4 L604.2,349.2 L603.5,346.5 L602.8,343.7 L602.1,345.5 L601.4,347.3 L600.7,346.4 L599.9,344.2 L599.2,346.5 L598.5,346.2 L597.8,342.2 L597.1,341.2 L596.4,345.3 L595.7,341.2 L595.0,339.4 L594.3,344.6 L593.6,343.6 L592.9,339.0 L592.2,340.4 L591.5,337.5 L590.8,341.6 L590.1,337.0 L589.4,336.9 L588.7,337.9 L588.0,335.9 L587.3,337.8 L586.6,339.1 L585.9,337.7 L585.1,338.7 L584.4,333.9 L583.7,335.2 L583.0,334.4 L582.3,337.0 L581.6,332.9 L580.9,336.4 L580.2,335.7 L579.5,335.5 L578.8,332.9 L578.1,335.4 L577.4,335.0 L576.7,332.9 L576.0,332.6 L575.3,331.0 L574.6,334.7 L573.9,330.5 L573.2,331.1 L572.5,331.6 L571.8,330.4 L571.1,329.0 L570.3,327.5 L569.6,326.4 L568.9,326.7 L568.2,325.3 L567.5,323.6 L566.8,324.1 L566.1,326.8 L565.4,327.6 L564.7,325.2 L564.0,327.4 L563.3,326.3 L562.6,330.4 L561.9,330.7 L561.2,330.8 L560.5,329.2 L559.8,330.4 L559.1,330.8 L558.4,328.4 L557.7,330.0 L557.0,327.8 L556.3,326.8 L555.5,326.5 L554.8,329.4 L554.1,326.9 L553.4,329.1 L552.7,324.7 L552.0,324.2 L551.3,322.6 L550.6,325.4 L549.9,325.6 L549.2,321.1 L548.5,320.8 L547.8,321.3 L547.1,324.2 L546.4,322.6 L545.7,321.8 L545.0,322.5 L544.3,320.0 L543.6,319.9 L542.9,321.5 L542.2,321.1 L541.5,318.6 L540.7,318.1 L540.0,319.2 L539.3,317.1 L538.6,317.5 L537.9,320.7 L537.2,317.1 L536.5,319.3 L535.8,315.9 L535.1,316.5 L534.4,314.9 L533.7,320.1 L533.0,316.6 L532.3,318.4 L531.6,317.4 L530.9,321.6 L530.2,317.3 L529.5,319.8 L528.8,317.5 L528.1,320.3 L527.4,317.2 L526.7,321.7 L525.9,321.9 L525.2,317.6 L524.5,318.6 L523.8,318.3 L523.1,318.9 L522.4,321.0 L521.7,318.3 L521.0,321.9 L520.3,321.3 L519.6,322.8 L518.9,323.6 L518.2,322.6 L517.5,322.7 L516.8,318.4 L516.1,321.7 L515.4,321.5 L514.7,317.9 L514.0,319.3 L513.3,323.9 L512.6,321.4 L511.8,320.1 L511.1,318.8 L510.4,323.3 L509.7,319.4 L509.0,319.8 L508.3,321.6 L507.6,320.5 L506.9,325.4 L506.2,323.1 L505.5,325.3 L504.8,322.5 L504.1,323.2 L503.4,320.7 L502.7,323.3 L502.0,326.5 L501.3,324.3 L500.6,327.5 L499.9,326.6 L499.2,324.0 L498.5,327.0 L497.8,328.4 L497.0,325.5 L496.3,328.5 L495.6,326.6 L494.9,328.5 L494.2,330.6 L493.5,331.6 L492.8,330.7 L492.1,334.2 L491.4,334.5 L490.7,329.9 L490.0,330.7 L489.3,332.8 L488.6,330.9 L487.9,332.9 L487.2,335.4 L486.5,333.0 L485.8,336.7 L485.1,333.9 L484.4,335.2 L483.7,339.1 L483.0,334.5 L482.2,337.2 L481.5,337.3 L480.8,339.5 L480.1,339.3 L479.4,341.2 L478.7,339.2 L478.0,340.8 L477.3,339.7 L476.6,342.6 L475.9,336.6 L475.2,339.4 L474.5,338.3 L473.8,335.4 L473.1,336.4 L472.4,337.0 L471.7,337.6 L471.0,337.8 L470.3,340.1 L469.6,339.6 L468.9,337.3 L468.2,337.7 L467.4,339.0 L466.7,343.2 L466.0,339.6 L465.3,342.0 L464.6,340.0 L463.9,342.9 L463.2,341.9 L462.5,340.0 L461.8,341.0 L461.1,344.6 L460.4,341.6 L459.7,345.1 L459.0,342.1 L458.3,343.4 L457.6,345.0 L456.9,343.9 L456.2,345.3 L455.5,343.6 L454.8,344.0 L454.1,344.4 L453.4,347.3 L452.6,348.6 L451.9,345.9 L451.2,349.6 L450.5,345.2 L449.8,350.6 L449.1,345.9 L448.4,347.6 L447.7,349.1 L447.0,348.7 L446.3,346.8 L445.6,346.3 L444.9,350.7 L444.2,349.2 L443.5,351.6 L442.8,350.7 L442.1,352.8 L441.4,349.6 L440.7,353.2 L440.0,353.2 L439.3,353.3 L438.6,354.3 L437.8,350.5 L437.1,352.4 L436.4,356.1 L435.7,355.6 L435.0,355.6 L434.3,358.2 L433.6,356.7 L432.9,356.4 L432.2,354.7 L431.5,357.1 L430.8,353.7 L430.1,355.8 L429.4,356.1 L428.7,355.2 L428.0,355.9 L427.3,354.0 L426.6,359.3 L425.9,359.6 L425.2,356.7 L424.5,355.6 L423.7,358.8 L423.0,357.4 L422.3,360.4 L421.6,360.5 L420.9,362.1 L420.2,361.1 L419.5,362.9 L418.8,360.1 L418.1,361.2 L417.4,358.8 L416.7,360.9 L416.0,359.0 L415.3,363.4 L414.6,361.9 L413.9,358.6 L413.2,361.1 L412.5,358.8 L411.8,357.3 L411.1,361.1 L410.4,359.3 L409.7,355.5 L408.9,359.0 L408.2,356.2 L407.5,356.6 L406.8,354.9 L406.1,358.8 L405.4,355.3 L404.7,355.6 L404.0,356.5 L403.3,357.5 L402.6,362.8 L401.9,362.9 L401.2,363.5 L400.5,360.8 L399.8,364.9 L399.1,364.5 L398.4,366.1 L397.7,362.2 L397.0,364.4 L396.3,364.9 L395.6,364.5 L394.9,368.8 L394.1,365.0 L393.4,366.6 L392.7,368.4 L392.0,365.9 L391.3,366.4 L390.6,368.4 L389.9,366.2Z" fill="#a5237d" fill-opacity="0.23"/>
<path d="M389.9,351.5 L390.6,351.9 L391.3,351.0 L392.0,351.5 L392.7,350.0 L393.4,349.9 L394.1,348.2 L394.9,348.7 L395.6,347.4 L396.3,347.2 L397.0,348.0 L397.7,346.2 L398.4,345.9 L399.1,345.6 L399.8,345.1 L400.5,343.2 L401.2,342.7 L401.9,343.1 L402.6,342.1 L403.3,340.8 L404.0,341.3 L404.7,340.8 L405.4,341.5 L406.1,339.5 L406.8,339.6 L407.5,339.3 L408.2,340.3 L408.9,341.1 L409.7,341.2 L410.4,340.6 L411.1,341.7 L411.8,341.6 L412.5,343.1 L413.2,343.1 L413.9,343.2 L414.6,342.9 L415.3,343.7 L416.0,344.2 L416.7,344.0 L417.4,344.4 L418.1,343.8 L418.8,344.3 L419.5,345.3 L420.2,344.2 L420.9,344.2 L421.6,344.4 L422.3,344.2 L423.0,343.6 L423.7,342.2 L424.5,342.3 L425.2,340.6 L425.9,340.7 L426.6,339.3 L427.3,339.3 L428.0,339.1 L428.7,339.0 L429.4,339.5 L430.1,338.0 L430.8,339.5 L431.5,337.8 L432.2,339.6 L432.9,339.8 L433.6,339.7 L434.3,340.8 L435.0,341.3 L435.7,340.3 L436.4,340.7 L437.1,338.2 L437.8,338.5 L438.6,337.5 L439.3,337.3 L440.0,335.9 L440.7,335.6 L441.4,336.3 L442.1,336.2 L442.8,336.1 L443.5,334.8 L444.2,335.4 L444.9,335.8 L445.6,334.3 L446.3,334.9 L447.0,334.8 L447.7,333.8 L448.4,333.0 L449.1,332.5 L449.8,332.4 L450.5,331.9 L451.2,331.5 L451.9,331.8 L452.6,331.6 L453.4,332.8 L454.1,331.4 L454.8,332.3 L455.5,331.3 L456.2,331.5 L456.9,330.8 L457.6,330.1 L458.3,329.4 L459.0,328.6 L459.7,328.8 L460.4,328.1 L461.1,328.6 L461.8,326.6 L462.5,327.3 L463.2,326.6 L463.9,326.7 L464.6,326.7 L465.3,327.5 L466.0,327.5 L466.7,326.1 L467.4,326.9 L468.2,326.5 L468.9,325.2 L469.6,324.8 L470.3,323.8 L471.0,324.2 L471.7,323.2 L472.4,323.3 L473.1,323.6 L473.8,323.4 L474.5,324.3 L475.2,325.1 L475.9,325.5 L476.6,326.5 L477.3,326.3 L478.0,326.5 L478.7,327.4 L479.4,325.8 L480.1,325.0 L480.8,324.6 L481.5,323.4 L482.2,323.7 L483.0,322.3 L483.7,321.6 L484.4,321.7 L485.1,321.5 L485.8,319.4 L486.5,320.1 L487.2,319.3 L487.9,319.0 L488.6,318.4 L489.3,317.5 L490.0,317.9 L490.7,318.0 L491.4,317.2 L492.1,318.1 L492.8,316.5 L493.5,317.0 L494.2,316.4 L494.9,315.9 L495.6,314.7 L496.3,314.0 L497.0,314.0 L497.8,312.2 L498.5,311.8 L499.2,311.0 L499.9,311.3 L500.6,310.4 L501.3,310.6 L502.0,310.0 L502.7,308.5 L503.4,308.4 L504.1,307.5 L504.8,308.5 L505.5,308.0 L506.2,307.3 L506.9,308.5 L507.6,307.0 L508.3,307.2 L509.0,307.4 L509.7,308.4 L510.4,306.6 L511.1,306.7 L511.8,307.6 L512.6,306.9 L513.3,307.8 L514.0,305.9 L514.7,306.3 L515.4,306.3 L516.1,307.1 L516.8,305.6 L517.5,306.8 L518.2,307.0 L518.9,306.8 L519.6,306.4 L520.3,304.8 L521.0,305.3 L521.7,304.8 L522.4,304.5 L523.1,304.7 L523.8,305.4 L524.5,304.8 L525.2,303.6 L525.9,303.7 L526.7,303.0 L527.4,304.5 L528.1,304.3 L528.8,303.7 L529.5,304.5 L530.2,304.4 L530.9,302.9 L531.6,302.6 L532.3,302.5 L533.0,303.1 L533.7,302.8 L534.4,302.6 L535.1,303.2 L535.8,302.7 L536.5,302.5 L537.2,303.7 L537.9,304.3 L538.6,303.0 L539.3,304.3 L540.0,304.0 L540.7,305.3 L541.5,305.0 L542.2,305.7 L542.9,305.5 L543.6,306.6 L544.3,306.4 L545.0,306.9 L545.7,308.1 L546.4,308.3 L547.1,307.7 L547.8,307.6 L548.5,309.4 L549.2,308.2 L549.9,310.2 L550.6,310.6 L551.3,310.5 L552.0,311.5 L552.7,311.5 L553.4,312.0 L554.1,312.2 L554.8,311.9 L555.5,311.9 L556.3,313.2 L557.0,313.0 L557.7,312.3 L558.4,313.0 L559.1,312.3 L559.8,312.1 L560.5,312.9 L561.2,312.2 L561.9,312.1 L562.6,312.0 L563.3,311.0 L564.0,310.8 L564.7,310.5 L565.4,310.0 L566.1,310.6 L566.8,310.4 L567.5,309.4 L568.2,310.6 L568.9,310.3 L569.6,310.5 L570.3,312.5 L571.1,313.1 L571.8,312.9 L572.5,314.8 L573.2,314.9 L573.9,314.9 L574.6,316.4 L575.3,317.4 L576.0,316.5 L576.7,318.5 L577.4,318.0 L578.1,318.3 L578.8,318.7 L579.5,319.5 L580.2,319.9 L580.9,320.1 L581.6,319.9 L582.3,321.1 L583.0,321.6 L583.7,321.7 L584.4,321.5 L585.1,322.8 L585.9,321.7 L586.6,322.1 L587.3,322.2 L588.0,323.4 L588.7,323.6 L589.4,323.3 L590.1,324.0 L590.8,323.6 L591.5,323.9 L592.2,325.9 L592.9,326.1 L593.6,325.3 L594.3,326.7 L595.0,326.7 L595.7,327.1 L596.4,328.1 L597.1,328.1 L597.8,329.1 L598.5,329.3 L599.2,330.3 L599.9,329.3 L600.7,331.1 L601.4,330.7 L602.1,332.2 L602.8,332.2 L603.5,333.3 L604.2,333.4 L604.9,333.1 L605.6,334.0 L606.3,335.2 L607.0,334.4 L607.7,335.9 L608.4,336.6 L609.1,337.5 L609.8,337.0 L610.5,337.6 L611.2,337.7 L611.9,337.1 L612.6,337.2 L613.3,337.4 L614.0,336.2 L614.8,336.3 L615.5,336.0 L616.2,336.6 L616.9,335.5 L617.6,335.3 L618.3,335.5 L619.0,335.7 L619.7,334.5 L620.4,335.6 L621.1,334.6 L621.8,334.8 L622.5,334.0 L623.2,333.3 L623.9,333.8 L624.6,334.2 L625.3,333.5 L626.0,335.2 L626.7,334.5 L627.4,334.8 L628.1,334.0 L628.8,334.6 L629.6,335.1 L630.3,336.1 L631.0,335.4 L631.7,336.3 L632.4,336.2 L633.1,337.0 L633.8,337.6 L634.5,337.5 L635.2,338.3 L635.9,338.2 L636.6,337.4 L637.3,338.3 L638.0,337.8 L638.7,338.2 L639.4,338.3 L640.1,337.0 L640.8,338.0 L641.5,336.9 L642.2,337.7 L642.9,336.8 L643.6,338.4 L644.4,337.5 L645.1,337.4 L645.8,337.4 L646.5,336.9 L647.2,336.7 L647.9,337.4 L648.6,337.6 L649.3,336.5 L650.0,336.8 L650.7,338.0 L651.4,336.8 L652.1,336.9 L652.8,337.8 L653.5,337.8 L654.2,339.1 L654.9,339.5 L655.6,338.3 L656.3,338.8 L657.0,339.2 L657.7,340.0 L658.4,339.9 L659.2,340.8 L659.9,341.5 L660.6,340.2 L661.3,340.1 L662.0,340.6 L662.7,341.1 L663.4,340.8 L664.1,341.4" fill="none" stroke="#a3237f" stroke-width="3.0" stroke-linejoin="round"/>
</g>
<line x1="485.4" y1="235.4" x2="485.4" y2="389.4" stroke="#444" stroke-width="1"/>
<line x1="584.1" y1="235.4" x2="584.1" y2="389.4" stroke="#444" stroke-width="1"/>
<line x1="387.1" y1="235.4" x2="668.3" y2="235.4" stroke="#333" stroke-width="1"/>
<line x1="668.3" y1="235.4" x2="668.3" y2="389.4" stroke="#222" stroke-width="1"/>
<line x1="386.6" y1="389.4" x2="668.3" y2="389.4" stroke="#000" stroke-width="1.2"/>
<line x1="387.1" y1="234.9" x2="387.1" y2="389.9" stroke="#000" stroke-width="1.8"/>
<line x1="382.6" y1="389.4" x2="387.1" y2="389.4" stroke="#000" stroke-width="1.1"/>
<line x1="382.6" y1="358.6" x2="387.1" y2="358.6" stroke="#000" stroke-width="1.1"/>
<line x1="382.6" y1="327.8" x2="387.1" y2="327.8" stroke="#000" stroke-width="1.1"/>
<line x1="382.6" y1="297.0" x2="387.1" y2="297.0" stroke="#000" stroke-width="1.1"/>
<line x1="382.6" y1="266.2" x2="387.1" y2="266.2" stroke="#000" stroke-width="1.1"/>
<line x1="382.6" y1="235.4" x2="387.1" y2="235.4" stroke="#000" stroke-width="1.1"/>
<line x1="387.1" y1="389.4" x2="387.1" y2="393.6" stroke="#000" stroke-width="1.1"/>
<line x1="485.1" y1="389.4" x2="485.1" y2="393.6" stroke="#000" stroke-width="1.1"/>
<line x1="583.7" y1="389.4" x2="583.7" y2="393.6" stroke="#000" stroke-width="1.1"/>
<line x1="668.3" y1="389.4" x2="668.3" y2="393.6" stroke="#000" stroke-width="1.1"/>
<line x1="400.5" y1="389.4" x2="400.5" y2="393.6" stroke="#000" stroke-width="1.1"/>
<line x1="414.6" y1="389.4" x2="414.6" y2="393.6" stroke="#000" stroke-width="1.1"/>
<line x1="428.7" y1="389.4" x2="428.7" y2="393.6" stroke="#000" stroke-width="1.1"/>
<line x1="442.8" y1="389.4" x2="442.8" y2="393.6" stroke="#000" stroke-width="1.1"/>
<line x1="456.9" y1="389.4" x2="456.9" y2="393.6" stroke="#000" stroke-width="1.1"/>
<line x1="471.0" y1="389.4" x2="471.0" y2="393.6" stroke="#000" stroke-width="1.1"/>
<line x1="485.1" y1="389.4" x2="485.1" y2="393.6" stroke="#000" stroke-width="1.1"/>
<line x1="499.2" y1="389.4" x2="499.2" y2="393.6" stroke="#000" stroke-width="1.1"/>
<line x1="513.3" y1="389.4" x2="513.3" y2="393.6" stroke="#000" stroke-width="1.1"/>
<line x1="527.4" y1="389.4" x2="527.4" y2="393.6" stroke="#000" stroke-width="1.1"/>
<line x1="541.5" y1="389.4" x2="541.5" y2="393.6" stroke="#000" stroke-width="1.1"/>
<line x1="555.5" y1="389.4" x2="555.5" y2="393.6" stroke="#000" stroke-width="1.1"/>
<line x1="569.6" y1="389.4" x2="569.6" y2="393.6" stroke="#000" stroke-width="1.1"/>
<line x1="583.7" y1="389.4" x2="583.7" y2="393.6" stroke="#000" stroke-width="1.1"/>
<line x1="597.8" y1="389.4" x2="597.8" y2="393.6" stroke="#000" stroke-width="1.1"/>
<line x1="611.9" y1="389.4" x2="611.9" y2="393.6" stroke="#000" stroke-width="1.1"/>
<line x1="626.0" y1="389.4" x2="626.0" y2="393.6" stroke="#000" stroke-width="1.1"/>
<line x1="640.1" y1="389.4" x2="640.1" y2="393.6" stroke="#000" stroke-width="1.1"/>
<line x1="654.2" y1="389.4" x2="654.2" y2="393.6" stroke="#000" stroke-width="1.1"/>
<line x1="249.9" y1="247.5" x2="279.7" y2="247.5" stroke="#f6a418" stroke-width="2.5"/>
<line x1="249.9" y1="261.6" x2="279.7" y2="261.6" stroke="#4568b0" stroke-width="2.5"/>
<line x1="249.9" y1="275.7" x2="279.7" y2="275.7" stroke="#a3237f" stroke-width="2.5"/>
<text x="45.88" y="14.00" font-size="14.0" textLength="16.42" lengthAdjust="spacingAndGlyphs" fill="#2a2a2a" >a)</text>
<text x="72.84" y="14.00" font-size="14.0" textLength="39.52" lengthAdjust="spacingAndGlyphs" fill="#2a2a2a" >BTEC</text>
<text x="122.77" y="14.00" font-size="14.0" textLength="42.46" lengthAdjust="spacingAndGlyphs" fill="#2a2a2a" >(Late</text>
<text x="174.70" y="14.00" font-size="14.0" textLength="20.23" lengthAdjust="spacingAndGlyphs" fill="#2a2a2a" >RD</text>
<text x="205.76" y="14.00" font-size="14.0" textLength="11.81" lengthAdjust="spacingAndGlyphs" fill="#2a2a2a" >−</text>
<text x="228.48" y="14.00" font-size="14.0" textLength="38.80" lengthAdjust="spacingAndGlyphs" fill="#2a2a2a" >Early</text>
<text x="277.51" y="14.00" font-size="14.0" textLength="29.54" lengthAdjust="spacingAndGlyphs" fill="#2a2a2a" >RU)</text>
<text x="45.32" y="229.30" font-size="14.0" textLength="17.21" lengthAdjust="spacingAndGlyphs" fill="#2a2a2a" >b)</text>
<text x="72.50" y="229.30" font-size="14.0" textLength="21.40" lengthAdjust="spacingAndGlyphs" fill="#2a2a2a" >NA</text>
<text x="103.65" y="229.30" font-size="14.0" textLength="53.62" lengthAdjust="spacingAndGlyphs" fill="#2a2a2a" >(BTEC)</text>
<text x="387.64" y="229.50" font-size="14.0" textLength="17.04" lengthAdjust="spacingAndGlyphs" fill="#2a2a2a" >c)</text>
<text x="413.99" y="229.50" font-size="14.0" textLength="21.51" lengthAdjust="spacingAndGlyphs" fill="#2a2a2a" >NP</text>
<text x="446.23" y="229.50" font-size="14.0" textLength="54.55" lengthAdjust="spacingAndGlyphs" fill="#2a2a2a" >(BTEC)</text>
<text x="138.80" y="430.70" font-size="14.5" textLength="36.70" lengthAdjust="spacingAndGlyphs" fill="#2a2a2a" >Time</text>
<text x="184.71" y="430.70" font-size="14.5" textLength="50.45" lengthAdjust="spacingAndGlyphs" fill="#2a2a2a" >[year]</text>
<text x="480.50" y="430.70" font-size="14.5" textLength="36.70" lengthAdjust="spacingAndGlyphs" fill="#2a2a2a" >Time</text>
<text x="526.41" y="430.70" font-size="14.5" textLength="50.45" lengthAdjust="spacingAndGlyphs" fill="#2a2a2a" >[year]</text>
<text x="13.87" y="24.00" font-size="13.0" textLength="24.62" lengthAdjust="spacingAndGlyphs" fill="#2a2a2a" >80N</text>
<text x="13.76" y="76.10" font-size="13.0" textLength="24.73" lengthAdjust="spacingAndGlyphs" fill="#2a2a2a" >60N</text>
<text x="14.80" y="127.50" font-size="13.0" textLength="23.65" lengthAdjust="spacingAndGlyphs" fill="#2a2a2a" >40N</text>
<text x="13.87" y="178.90" font-size="13.0" textLength="24.62" lengthAdjust="spacingAndGlyphs" fill="#2a2a2a" >20N</text>
<text x="34.10" y="190.30" font-size="13.0" textLength="23.04" lengthAdjust="spacingAndGlyphs" fill="#2a2a2a" >90E</text>
<text x="104.86" y="190.30" font-size="13.0" textLength="22.46" lengthAdjust="spacingAndGlyphs" fill="#2a2a2a" >180</text>
<text x="173.60" y="190.30" font-size="13.0" textLength="23.96" lengthAdjust="spacingAndGlyphs" fill="#2a2a2a" >90W</text>
<text x="251.60" y="190.30" font-size="13.0" fill="#2a2a2a" >0</text>
<text x="314.24" y="190.30" font-size="13.0" textLength="22.19" lengthAdjust="spacingAndGlyphs" fill="#2a2a2a" >90E</text>
<text x="355.63" y="37.20" font-size="13.0" fill="#2a2a2a" >5</text>
<text x="355.63" y="63.10" font-size="13.0" fill="#2a2a2a" >3</text>
<text x="357.15" y="88.60" font-size="13.0" fill="#2a2a2a" >1</text>
<text x="355.64" y="114.10" font-size="13.0" fill="#2a2a2a" >−1</text>
<text x="355.55" y="140.10" font-size="13.0" fill="#2a2a2a" >−3</text>
<text x="355.55" y="165.80" font-size="13.0" fill="#2a2a2a" >−5</text>
<text x="285.53" y="251.40" font-size="9.5" textLength="27.14" lengthAdjust="spacingAndGlyphs" fill="#2a2a2a" >BTEC</text>
<text x="285.50" y="265.50" font-size="9.5" textLength="33.21" lengthAdjust="spacingAndGlyphs" fill="#2a2a2a" >BTECx</text>
<text x="285.51" y="279.50" font-size="9.5" textLength="32.79" lengthAdjust="spacingAndGlyphs" fill="#2a2a2a" >BTECy</text>
<text x="19.50" y="394.20" font-size="13.0" textLength="17.40" lengthAdjust="spacingAndGlyphs" fill="#2a2a2a" >−2</text>
<text x="36.50" y="363.40" font-size="13.0" text-anchor="end" fill="#2a2a2a" >0</text>
<text x="36.50" y="332.60" font-size="13.0" text-anchor="end" fill="#2a2a2a" >2</text>
<text x="36.50" y="301.80" font-size="13.0" text-anchor="end" fill="#2a2a2a" >4</text>
<text x="36.50" y="271.00" font-size="13.0" text-anchor="end" fill="#2a2a2a" >6</text>
<text x="36.50" y="240.20" font-size="13.0" text-anchor="end" fill="#2a2a2a" >8</text>
<text x="360.70" y="394.20" font-size="13.0" textLength="17.40" lengthAdjust="spacingAndGlyphs" fill="#2a2a2a" >−2</text>
<text x="377.70" y="363.40" font-size="13.0" text-anchor="end" fill="#2a2a2a" >0</text>
<text x="377.70" y="332.60" font-size="13.0" text-anchor="end" fill="#2a2a2a" >2</text>
<text x="377.70" y="301.80" font-size="13.0" text-anchor="end" fill="#2a2a2a" >4</text>
<text x="377.70" y="271.00" font-size="13.0" text-anchor="end" fill="#2a2a2a" >6</text>
<text x="377.70" y="240.20" font-size="13.0" text-anchor="end" fill="#2a2a2a" >8</text>
<text x="45.60" y="405.90" font-size="13.0" text-anchor="middle" textLength="29.00" lengthAdjust="spacingAndGlyphs" fill="#2a2a2a" >2001</text>
<text x="143.29" y="405.90" font-size="13.0" text-anchor="middle" textLength="29.00" lengthAdjust="spacingAndGlyphs" fill="#2a2a2a" >2140</text>
<text x="241.68" y="405.90" font-size="13.0" text-anchor="middle" textLength="29.00" lengthAdjust="spacingAndGlyphs" fill="#2a2a2a" >2280</text>
<text x="326.02" y="405.90" font-size="13.0" text-anchor="middle" textLength="29.00" lengthAdjust="spacingAndGlyphs" fill="#2a2a2a" >2400</text>
<text x="386.80" y="405.90" font-size="13.0" text-anchor="middle" textLength="29.00" lengthAdjust="spacingAndGlyphs" fill="#2a2a2a" >2001</text>
<text x="484.77" y="405.90" font-size="13.0" text-anchor="middle" textLength="29.00" lengthAdjust="spacingAndGlyphs" fill="#2a2a2a" >2140</text>
<text x="583.44" y="405.90" font-size="13.0" text-anchor="middle" textLength="29.00" lengthAdjust="spacingAndGlyphs" fill="#2a2a2a" >2280</text>
<text x="668.02" y="405.90" font-size="13.0" text-anchor="middle" textLength="29.00" lengthAdjust="spacingAndGlyphs" fill="#2a2a2a" >2400</text>
<text x="0" y="0" font-size="16" textLength="40.07" lengthAdjust="spacingAndGlyphs" transform="translate(13.10,332.04) rotate(-90)" fill="#2a2a2a">BTEC</text>
<text x="0" y="0" font-size="16" textLength="40.07" lengthAdjust="spacingAndGlyphs" transform="translate(355.40,332.04) rotate(-90)" fill="#2a2a2a">BTEC</text>
</svg>
</body></html>
